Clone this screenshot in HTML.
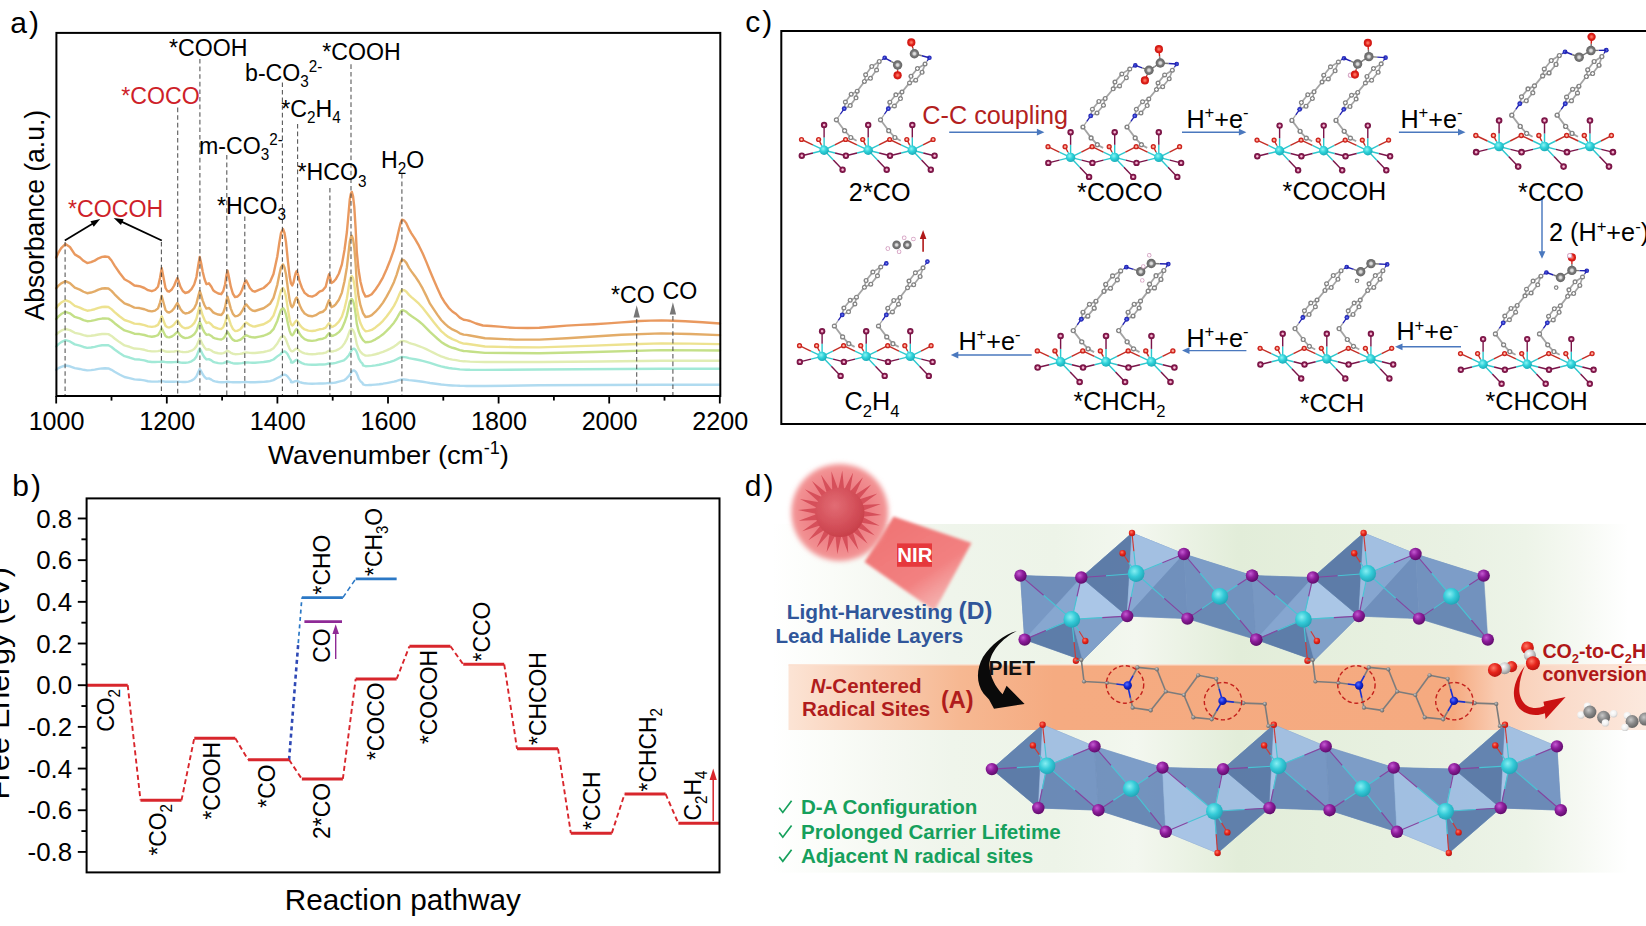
<!DOCTYPE html>
<html><head><meta charset="utf-8"><title>Figure</title>
<style>
html,body{margin:0;padding:0;background:#fff;}
body{width:1646px;height:926px;overflow:hidden;font-family:"Liberation Sans",sans-serif;}
svg{display:block;font-family:"Liberation Sans",sans-serif;}
</style></head><body>
<svg width="1646" height="926" viewBox="0 0 1646 926">
<rect x="0" y="0" width="1646" height="926" fill="#fff"/>
<g id="panel-a">
<polyline points="56.2,369.7 58.5,368.12 61.2,366.8 65.4,365.5 69.9,366.27 74.8,368.17 79.8,368.94 83.5,369.81 87.2,370.4 91,370.11 94.7,369.6 98.5,368.87 102.1,368.43 105,368.3 108.4,368.45 111.5,369.83 114.6,371.79 119.5,374.55 124.5,377.04 129.5,378.07 134.4,379.42 139.5,379.68 144.4,380.37 148,381.22 151.8,381.6 155,381.58 158,381.52 160,381.37 161.7,381.2 163.4,381.43 165.5,381.71 167.3,381.78 169.2,381.8 171.8,381.77 174.2,381.71 176,381.64 177.4,381.6 178.9,381.71 180.4,381.83 182.8,381.95 185.3,382 188.5,381.64 191.5,380.63 194.2,378.94 196.5,376.17 198.3,371.92 199.7,369 201.2,371.35 202.7,374.31 204.5,376.88 206.4,378.73 208.9,378.41 211.4,379.63 213.2,380.87 215.1,381.41 218.3,382.05 221.3,382.3 223.3,382.23 225.1,382.09 226.3,381.91 227.5,381.8 229,381.93 230.8,382.1 232.8,382.23 235,382.3 237.6,382.29 240,382.25 242,382.17 243.7,382.09 245,382.03 246.2,382 248,382.09 249.9,382.2 252.4,382.28 254.9,382.3 259.5,382.05 263.6,381.85 267,381.48 270,381.11 273.5,380.13 277.3,377.98 280.8,376.32 282.5,375.09 284.5,374.6 286,375.15 287.5,376.37 289.5,379.1 291.2,381.11 291,382.03 292.2,382.3 293.5,382.01 294.7,381.46 295.7,381.09 296.7,380.9 298.2,381.39 299.7,382.07 302,382.76 304.6,383.3 308.3,383.61 312.1,383.7 315.8,383.65 319.5,383.55 322.8,383.5 325.7,383.39 327.5,383.16 329,383 330.2,383 331.5,383 333.5,382.83 335.7,382.49 338.9,381.69 343.9,380.43 346.5,378.44 348.9,375.95 350.5,373.46 351.8,371.42 353,370.59 353.8,370.4 355,370.98 356.3,372.55 357.6,375.47 358.8,378.84 360.6,381.37 362.5,383.01 363,384.38 365.5,385.1 368.5,385.06 371.7,384.93 375.5,384.58 379.1,384.2 383,383.69 386.6,383.11 390.3,382.43 394,381.67 396.6,380.98 399,380.22 400.7,379.73 402,379.5 404.3,379.56 406.4,379.75 409,380.15 411.4,380.43 415,380.81 418.9,381.27 422.6,381.79 426.3,382.38 430,383 433.8,383.54 437.5,384.05 441.2,384.54 445,384.91 448.7,385.21 452.4,385.43 456.1,385.58 459.8,385.8 463.6,385.92 466.4,385.95 470,386 485,386 539.3,385.3 661.5,384.8 720,384.8" fill="none" stroke="#B0DBF0" stroke-width="2.4" stroke-linejoin="round" stroke-linecap="round"/>
<polyline points="56.2,346.5 58.5,344.14 61.2,342.15 65.4,340.2 69.9,341.41 74.8,344.39 79.8,345.6 83.5,346.97 87.2,347.9 91,347.52 94.7,346.84 98.5,345.86 102.1,345.27 105,345.1 108.4,345.29 111.5,347.05 114.6,349.53 119.5,353.04 124.5,356.2 129.5,357.52 134.4,359.22 139.5,359.56 144.4,360.44 148,361.51 151.8,362 155,361.97 158,361.9 160,361.71 161.7,361.5 163.4,361.8 165.5,362.17 167.3,362.28 169.2,362.3 171.8,362.25 174.2,362.16 176,362.07 177.4,362 178.9,362.21 180.4,362.46 182.8,362.69 185.3,362.8 188.5,362.41 191.5,361.31 194.2,359.46 196.5,356.43 198.3,351.79 199.7,348.6 201.2,351.22 202.7,354.51 204.5,357.37 206.4,359.43 208.9,359.08 211.4,360.42 213.2,361.81 215.1,362.41 218.3,363.12 221.3,363.4 223.3,363.12 225.1,362.51 226.3,361.78 227.5,361.3 229,361.87 230.8,362.64 232.8,363.2 235,363.5 237.6,363.46 240,363.33 242,363.07 243.7,362.8 245,362.59 246.2,362.5 248,362.56 249.9,362.63 252.4,362.68 254.9,362.7 259.5,362.34 263.6,362.03 267,361.49 270,360.95 273.5,359.51 277.3,356.36 280.8,353.92 282.5,352.12 284.5,351.4 286,352.2 287.5,354 289.5,358 291.2,360.96 291,362.3 292.2,362.7 293.5,362.1 294.7,360.96 295.7,360.2 296.7,359.8 298.2,360.68 299.7,361.89 302,363.12 304.6,364.08 308.3,364.64 312.1,364.8 315.8,364.71 319.5,364.51 322.8,364.43 325.7,364.22 327.5,363.8 329,363.5 330.2,363.5 331.5,363.5 333.5,363.3 335.7,362.89 338.9,361.95 343.9,360.46 346.5,358.1 348.9,355.16 350.5,352.21 351.8,349.81 353,348.83 353.8,348.6 355,349.29 356.3,351.17 357.6,354.67 358.8,358.7 360.6,361.73 362.5,363.7 363,365.34 365.5,366.2 368.5,366.13 371.7,365.91 375.5,365.35 379.1,364.72 383,363.89 386.6,362.93 390.3,361.82 394,360.57 396.6,359.43 399,358.18 400.7,357.37 402,357 404.3,357.1 406.4,357.43 409,358.09 411.4,358.56 415,359.21 418.9,359.99 422.6,360.85 426.3,361.85 430,362.9 433.8,364.14 437.5,365.31 441.2,366.43 445,367.29 448.7,367.98 452.4,368.49 456.1,368.83 459.8,369.33 463.6,369.62 466.4,369.68 470,369.8 485,369.9 539.3,369.5 661.5,368.7 720,368.7" fill="none" stroke="#A2E9D7" stroke-width="2.4" stroke-linejoin="round" stroke-linecap="round"/>
<polyline points="56.2,334.6 58.5,332.5 61.2,330.73 65.4,329 69.9,330.1 74.8,332.81 79.8,333.91 83.5,335.16 87.2,336 91,335.71 94.7,335.2 98.5,334.47 102.1,334.03 105,333.9 108.4,334.1 111.5,335.92 114.6,338.49 119.5,342.12 124.5,345.4 129.5,346.76 134.4,348.53 139.5,348.88 144.4,349.79 148,350.9 151.8,351.4 155,351.33 158,351.13 160,350.6 161.7,350 163.4,350.68 165.5,351.52 167.3,351.75 169.2,351.8 171.8,351.67 174.2,351.44 176,351.18 177.4,351 178.9,351.29 180.4,351.64 182.8,351.95 185.3,352.1 188.5,351.73 191.5,350.7 194.2,348.97 196.5,346.13 198.3,341.78 199.7,338.8 201.2,341.4 202.7,344.67 204.5,347.51 206.4,349.56 208.9,349.2 211.4,350.54 213.2,351.92 215.1,352.51 218.3,353.22 221.3,353.5 223.3,353.12 225.1,352.31 226.3,351.34 227.5,350.7 229,351.61 230.8,352.83 232.8,353.72 235,354.2 237.6,354.14 240,353.9 242,353.47 243.7,353.01 245,352.65 246.2,352.5 248,352.66 249.9,352.83 252.4,352.96 254.9,353 259.5,352.46 263.6,352 267,351.18 270,350.37 273.5,348.2 277.3,343.46 279.3,339.8 281,337.08 283,336 284.5,337.09 286,339.54 288,344.99 289.7,349.03 291,350.85 292.2,351.4 293.5,350.82 294.7,349.72 295.7,348.99 296.7,348.6 298.2,349.58 299.7,350.94 302,352.32 304.6,353.39 308.3,354.02 312.1,354.2 315.8,353.95 319.5,353.43 322.8,353.21 325.7,352.65 327.5,351.52 329,350.7 330.2,351.02 331.5,351.5 333.5,351.2 335.7,350.59 338.9,349.15 341.9,346.91 344.5,343.35 346.9,338.9 348.5,334.46 349.8,330.83 351,329.35 351.8,329 353,330.04 354.3,332.89 355.6,338.17 356.8,344.27 358.6,348.84 360.5,351.81 363,354.3 365.5,355.6 368.5,355.49 371.7,355.14 375.5,354.24 379.1,353.23 383,351.91 386.6,350.38 390.3,348.6 394,346.6 396.6,344.78 399,342.79 400.7,341.49 402,340.9 404.3,341.08 406.4,341.63 409,342.77 411.4,343.58 415,344.68 418.9,346.02 422.6,347.5 426.3,349.21 430,351 433.8,352.91 437.5,354.71 441.2,356.43 445,357.74 448.7,358.8 452.4,359.59 456.1,360.12 459.8,360.88 463.6,361.32 466.4,361.41 470,361.6 485,362 539.3,362 600,361.5 661.5,360.7 720,360.7" fill="none" stroke="#E1EDB4" stroke-width="2.4" stroke-linejoin="round" stroke-linecap="round"/>
<polyline points="56.2,319.1 58.5,316.36 61.2,314.05 65.4,311.8 69.9,313.28 74.8,316.92 79.8,318.39 83.5,320.07 87.2,321.2 91,320.82 94.7,320.14 98.5,319.16 102.1,318.57 105,318.4 108.4,318.61 111.5,320.51 114.6,323.2 119.5,327 124.5,330.42 129.5,331.85 134.4,333.69 139.5,334.06 144.4,335.01 148,336.17 151.8,336.7 155,336.26 158,335.06 160,331.9 161.7,328.3 163.4,331.73 165.5,335.97 167.3,337.13 169.2,337.4 171.8,336.5 174.2,334.87 176,333.03 177.4,331.8 178.9,333.48 180.4,335.45 182.8,337.26 185.3,338.1 188.5,337.65 191.5,336.41 194.2,334.31 196.5,330.88 198.3,325.61 199.7,322 201.2,325.1 202.7,328.99 204.5,332.37 206.4,334.81 208.9,334.39 211.4,335.98 213.2,337.62 215.1,338.33 218.3,339.17 221.3,339.5 223.3,338.46 225.1,336.24 226.3,333.56 227.5,331.8 229,334.17 230.8,337.33 232.8,339.66 235,340.9 237.6,340.7 240,339.92 242,338.5 243.7,336.99 245,335.81 246.2,335.3 248,335.99 249.9,336.77 252.4,337.32 254.9,337.5 259.5,336.56 263.6,335.76 267,334.35 270,332.94 273.5,329.17 277.3,320.94 279.3,314.59 281,309.88 283,308 284.5,309.93 286,314.28 288,323.95 289.7,331.1 291,334.33 292.2,335.3 293.5,334 294.7,331.52 295.7,329.87 296.7,329 298.2,331.09 299.7,333.97 302,336.9 304.6,339.18 308.3,340.53 312.1,340.9 315.8,340.35 319.5,339.21 322.8,338.72 325.7,337.48 327.5,335 329,333.2 330.2,334.33 331.5,336 333.5,335.51 335.7,334.5 338.9,332.14 341.9,328.45 344.5,322.6 346.9,315.29 348.5,307.98 349.8,302.01 351,299.57 351.8,299 353,300.7 354.3,305.33 355.6,313.93 356.8,323.86 358.6,331.3 360.5,336.14 363,340.19 365.5,342.3 368.5,342.05 371.7,341.3 375.5,339.35 379.1,337.14 383,334.27 386.6,330.94 390.3,327.07 394,322.7 396.6,318.75 399,314.42 400.7,311.59 402,310.3 404.3,310.68 406.4,311.86 409,314.3 411.4,316.03 415,318.38 418.9,321.25 422.6,324.41 426.3,328.07 430,331.9 433.8,335.43 437.5,338.76 441.2,341.94 445,344.37 448.7,346.33 452.4,347.78 456.1,348.76 459.8,350.17 463.6,350.99 466.4,351.15 470,351.5 485,352.9 539.3,353.2 594,352 661.5,350.1 720,350.5" fill="none" stroke="#C4E088" stroke-width="2.4" stroke-linejoin="round" stroke-linecap="round"/>
<polyline points="56.2,307.9 58.5,305.01 61.2,302.58 65.4,300.2 69.9,301.85 74.8,305.92 79.8,307.57 83.5,309.44 87.2,310.7 91,310.17 94.7,309.22 98.5,307.86 102.1,307.04 105,306.8 108.4,307.03 111.5,309.12 114.6,312.07 119.5,316.24 124.5,320.01 129.5,321.57 134.4,323.6 139.5,324 144.4,325.05 148,326.32 151.8,326.9 155,326.35 158,324.84 160,320.84 161.7,316.3 163.4,320.52 165.5,325.74 167.3,327.17 169.2,327.5 171.8,326.38 174.2,324.33 176,322.03 177.4,320.5 178.9,322.58 180.4,325.02 182.8,327.26 185.3,328.3 188.5,327.7 191.5,326.01 194.2,323.17 196.5,318.52 198.3,311.39 199.7,306.5 201.2,310.48 202.7,315.49 204.5,319.83 206.4,322.97 208.9,322.42 211.4,324.48 213.2,326.59 215.1,327.49 218.3,328.58 221.3,329 223.3,327.1 225.1,323.07 226.3,318.2 227.5,315 229,319.17 230.8,324.72 232.8,328.83 235,331 237.6,330.7 240,329.53 242,327.41 243.7,325.13 245,323.36 246.2,322.6 248,323.82 249.9,325.21 252.4,326.19 254.9,326.5 259.5,325.27 263.6,324.23 267,322.39 270,320.54 273.5,315.63 277.3,304.89 279.3,296.6 281,290.46 283,288 284.5,290.65 286,296.63 288,309.9 289.7,319.73 291,324.17 292.2,325.5 293.5,324.47 294.7,322.5 295.7,321.19 296.7,320.5 298.2,322.35 299.7,324.89 302,327.47 304.6,329.48 308.3,330.67 312.1,331 315.8,330.45 319.5,329.31 322.8,328.82 325.7,327.58 327.5,325.1 329,323.3 330.2,324.79 331.5,327 333.5,326.33 335.7,324.93 338.9,321.68 341.9,316.59 344.5,308.53 346.9,298.45 348.5,288.37 349.8,280.14 351,276.78 351.8,276 353,278.16 354.3,284.07 355.6,295.03 356.8,307.69 358.6,317.18 360.5,323.34 363,328.51 365.5,331.2 368.5,330.88 371.7,329.91 375.5,327.38 379.1,324.52 383,320.81 386.6,316.5 390.3,311.5 394,305.84 396.6,300.73 399,295.13 400.7,291.47 402,289.8 404.3,290.28 406.4,291.78 409,294.89 411.4,297.09 415,300.09 418.9,303.74 422.6,307.76 426.3,312.42 430,317.3 433.8,322.16 437.5,326.75 441.2,331.12 445,334.47 448.7,337.17 452.4,339.17 456.1,340.52 459.8,342.46 463.6,343.6 466.4,343.81 470,344.3 485,346.5 515,347.2 539.3,347.4 594,345.6 630,344.3 661.5,343.4 690,343.6 720,344.1" fill="none" stroke="#EDE290" stroke-width="2.4" stroke-linejoin="round" stroke-linecap="round"/>
<polyline points="56.2,288.3 58.5,285.64 61.2,283.39 65.4,281.2 69.9,283.08 74.8,287.73 79.8,289.62 83.5,291.75 87.2,293.2 91,292.52 94.7,291.31 98.5,289.56 102.1,288.5 105,288.2 108.4,288.47 111.5,290.87 114.6,294.28 119.5,299.1 124.5,303.44 129.5,305.25 134.4,307.59 139.5,308.06 144.4,309.26 148,310.73 151.8,311.4 155,310.6 158,308.4 160,302.6 161.7,296 163.4,302.22 165.5,309.91 167.3,312.01 169.2,312.5 171.8,310.97 174.2,308.2 176,305.08 177.4,303 178.9,305.8 180.4,309.09 182.8,312.1 185.3,313.5 188.5,312.88 191.5,311.13 194.2,308.2 196.5,303.4 198.3,296.05 199.7,291 201.2,295.25 202.7,300.59 204.5,305.22 206.4,308.57 208.9,307.99 211.4,310.17 213.2,312.43 215.1,313.39 218.3,314.55 221.3,315 223.3,312.52 225.1,307.25 226.3,300.89 227.5,296.7 229,301.8 230.8,308.61 232.8,313.64 235,316.3 237.6,315.87 240,314.22 242,311.21 243.7,307.98 245,305.48 246.2,304.4 248,306.46 249.9,308.82 252.4,310.47 254.9,311 259.5,309.51 263.6,308.25 267,306.02 270,303.79 273.5,297.84 277.3,284.84 279.3,274.81 281,267.37 283,264.4 284.5,267.43 286,274.25 288,289.4 289.7,300.61 291,305.68 292.2,307.2 293.5,305.17 294.7,301.32 295.7,298.75 296.7,297.4 298.2,300.72 299.7,305.3 302,309.95 304.6,313.57 308.3,315.71 312.1,316.3 315.8,315.14 319.5,312.76 322.8,311.75 325.7,309.15 327.5,303.95 329,300.2 330.2,303.02 331.5,307.2 333.5,306.26 335.7,304.3 338.9,299.74 341.9,292.6 344.5,281.3 346.9,267.17 348.5,253.05 349.8,241.51 351,236.8 351.8,235.7 353,238.88 354.3,247.58 355.6,263.73 356.8,282.37 358.6,296.34 360.5,305.43 363,313.04 365.5,317 368.5,316.55 371.7,315.21 375.5,311.71 379.1,307.76 383,302.62 386.6,296.66 390.3,289.73 394,281.9 396.6,274.83 399,267.08 400.7,262.01 402,259.7 404.3,260.47 406.4,262.87 409,267.85 411.4,271.36 415,276.17 418.9,282 422.6,288.43 426.3,295.89 430,303.7 433.8,309.42 437.5,314.83 441.2,319.98 445,323.92 448.7,327.1 452.4,329.46 456.1,331.05 459.8,333.34 463.6,334.67 466.4,334.93 470,335.5 485,338.3 515.7,339.6 539.3,339.6 566.7,338.3 594,336.5 621.4,334.7 661.5,333.4 690,334 720,335.1" fill="none" stroke="#E3AC68" stroke-width="2.4" stroke-linejoin="round" stroke-linecap="round"/>
<polyline points="56.2,257.6 58.5,252.5 61.2,248.2 65.4,244 69.9,247 74.8,254.4 79.8,257.4 83.5,260.8 87.2,263.1 91,262.2 94.7,260.6 98.5,258.3 102.1,256.9 105,256.5 108.4,256.9 111.5,260.5 114.6,265.6 119.5,272.8 124.5,279.3 129.5,282 134.4,285.5 139.5,286.2 144.4,288 148,290.2 151.8,291.2 155,290 158,286.7 160,278 161.7,268.1 163.4,277 165.5,288 167.3,291 169.2,291.7 171.8,289.5 174.2,285.5 176,281 177.4,278 178.9,282 180.4,286.7 182.8,291 185.3,293 188.5,292 191.5,289.2 194.2,284.5 196.5,276.8 198.3,265 199.7,256.9 201.2,263.5 202.7,271.8 204.5,279 206.4,284.2 208.9,283.3 211.4,286.7 213.2,290.2 215.1,291.7 218.3,293.5 221.3,294.2 223.3,291 225.1,284.2 226.3,276 227.5,270.6 229,277.5 230.8,286.7 232.8,293.5 235,297.1 237.6,296.5 240,294.2 242,290 243.7,285.5 245,282 246.2,280.5 248,284 249.9,288 252.4,290.8 254.9,291.7 259.5,289.7 263.6,288 267,285 270,282 273.5,274 277.3,256.5 279.3,243 281,233 283,229 284.5,233 286,242 288,262 289.7,276.8 291,283.5 292.2,285.5 293.5,282.5 294.7,276.8 295.7,273 296.7,271 298.2,275.5 299.7,281.7 302,288 304.6,292.9 308.3,295.8 312.1,296.6 315.8,295 319.5,291.7 322.8,290.3 325.7,286.7 327.5,279.5 329,274.3 330.2,277.8 331.5,283 333.5,281.8 335.7,279.3 338.9,273.5 341.9,264.4 344.5,250 346.9,232 348.5,214 349.8,199.3 351,193.3 351.8,191.9 353,196 354.3,207.2 355.6,228 356.8,252 358.6,270 360.5,281.7 363,291.5 365.5,296.6 368.5,296 371.7,294.2 375.5,289.5 379.1,284.2 383,277.3 386.6,269.3 390.3,260 394,249.5 396.6,240 399,229.6 400.7,222.8 402,219.7 404.3,220.6 406.4,223.4 409,229.2 411.4,233.3 415,238.9 418.9,245.7 422.6,253.2 426.3,261.9 430,271 433.8,280 437.5,288.5 441.2,296.6 445,302.8 448.7,307.8 452.4,311.5 456.1,314 459.8,317.6 463.6,319.7 466.4,320.1 470,321 476,323.5 482.9,325.5 491,326 499.3,326.6 507.5,327.4 515.7,327.9 527.5,328 539.3,327.7 553,326.8 566.7,325.6 580.3,324.9 594,324.3 607.7,323.4 621.4,322.4 630.5,321.7 639.6,321 650.5,320.6 661.5,320.4 673.3,320.7 685.2,321.3 702.5,322.3 720,323.5" fill="none" stroke="#E9995F" stroke-width="2.4" stroke-linejoin="round" stroke-linecap="round"/>
<line x1="65.1" y1="242" x2="65.1" y2="396" stroke="#3c3c3c" stroke-width="1.1" stroke-dasharray="4.6 3" opacity="0.85"/>
<line x1="161.4" y1="242" x2="161.4" y2="396" stroke="#3c3c3c" stroke-width="1.1" stroke-dasharray="4.6 3" opacity="0.85"/>
<line x1="177.7" y1="107.6" x2="177.7" y2="396" stroke="#3c3c3c" stroke-width="1.1" stroke-dasharray="4.6 3" opacity="0.85"/>
<line x1="199.9" y1="59" x2="199.9" y2="396" stroke="#3c3c3c" stroke-width="1.1" stroke-dasharray="4.6 3" opacity="0.85"/>
<line x1="226.8" y1="155" x2="226.8" y2="396" stroke="#3c3c3c" stroke-width="1.1" stroke-dasharray="4.6 3" opacity="0.85"/>
<line x1="244.8" y1="216.5" x2="244.8" y2="396" stroke="#3c3c3c" stroke-width="1.1" stroke-dasharray="4.6 3" opacity="0.85"/>
<line x1="282.4" y1="82.4" x2="282.4" y2="396" stroke="#3c3c3c" stroke-width="1.1" stroke-dasharray="4.6 3" opacity="0.85"/>
<line x1="297.6" y1="124" x2="297.6" y2="396" stroke="#3c3c3c" stroke-width="1.1" stroke-dasharray="4.6 3" opacity="0.85"/>
<line x1="329.9" y1="188" x2="329.9" y2="396" stroke="#3c3c3c" stroke-width="1.1" stroke-dasharray="4.6 3" opacity="0.85"/>
<line x1="351" y1="64.3" x2="351" y2="396" stroke="#3c3c3c" stroke-width="1.1" stroke-dasharray="4.6 3" opacity="0.85"/>
<line x1="401.9" y1="174" x2="401.9" y2="396" stroke="#3c3c3c" stroke-width="1.1" stroke-dasharray="4.6 3" opacity="0.85"/>
<line x1="636.7" y1="319" x2="636.7" y2="396" stroke="#3c3c3c" stroke-width="1.1" stroke-dasharray="4.6 3" opacity="0.85"/>
<line x1="672.9" y1="316" x2="672.9" y2="396" stroke="#3c3c3c" stroke-width="1.1" stroke-dasharray="4.6 3" opacity="0.85"/>
<rect x="56.4" y="32.9" width="663.9" height="363.1" fill="none" stroke="#000" stroke-width="2"/>
<line x1="56.2" y1="396" x2="56.2" y2="403.5" stroke="#000" stroke-width="1.8"/>
<text transform="translate(56.6,430) scale(0.99,1)" font-size="25.4" fill="#000" text-anchor="middle" font-weight="normal" font-style="normal"><tspan>1000</tspan></text>
<line x1="111.5" y1="396" x2="111.5" y2="400.6" stroke="#000" stroke-width="1.8"/>
<line x1="166.8" y1="396" x2="166.8" y2="403.5" stroke="#000" stroke-width="1.8"/>
<text transform="translate(167.2,430) scale(0.99,1)" font-size="25.4" fill="#000" text-anchor="middle" font-weight="normal" font-style="normal"><tspan>1200</tspan></text>
<line x1="222.1" y1="396" x2="222.1" y2="400.6" stroke="#000" stroke-width="1.8"/>
<line x1="277.4" y1="396" x2="277.4" y2="403.5" stroke="#000" stroke-width="1.8"/>
<text transform="translate(277.8,430) scale(0.99,1)" font-size="25.4" fill="#000" text-anchor="middle" font-weight="normal" font-style="normal"><tspan>1400</tspan></text>
<line x1="332.7" y1="396" x2="332.7" y2="400.6" stroke="#000" stroke-width="1.8"/>
<line x1="388" y1="396" x2="388" y2="403.5" stroke="#000" stroke-width="1.8"/>
<text transform="translate(388.4,430) scale(0.99,1)" font-size="25.4" fill="#000" text-anchor="middle" font-weight="normal" font-style="normal"><tspan>1600</tspan></text>
<line x1="443.3" y1="396" x2="443.3" y2="400.6" stroke="#000" stroke-width="1.8"/>
<line x1="498.6" y1="396" x2="498.6" y2="403.5" stroke="#000" stroke-width="1.8"/>
<text transform="translate(499,430) scale(0.99,1)" font-size="25.4" fill="#000" text-anchor="middle" font-weight="normal" font-style="normal"><tspan>1800</tspan></text>
<line x1="553.9" y1="396" x2="553.9" y2="400.6" stroke="#000" stroke-width="1.8"/>
<line x1="609.2" y1="396" x2="609.2" y2="403.5" stroke="#000" stroke-width="1.8"/>
<text transform="translate(609.6,430) scale(0.99,1)" font-size="25.4" fill="#000" text-anchor="middle" font-weight="normal" font-style="normal"><tspan>2000</tspan></text>
<line x1="664.5" y1="396" x2="664.5" y2="400.6" stroke="#000" stroke-width="1.8"/>
<line x1="719.8" y1="396" x2="719.8" y2="403.5" stroke="#000" stroke-width="1.8"/>
<text transform="translate(720.2,430) scale(0.99,1)" font-size="25.4" fill="#000" text-anchor="middle" font-weight="normal" font-style="normal"><tspan>2200</tspan></text>
<text transform="translate(388.5,463.6) scale(1.04,1)" font-size="26.4" fill="#000" text-anchor="middle" font-weight="normal" font-style="normal"><tspan>Wavenumber (cm</tspan><tspan dy="-9.5" font-size="17.42">-1</tspan><tspan dy="9.5">)</tspan></text>
<text transform="translate(44.4,215.2) rotate(-90) scale(0.94,1)" font-size="28.2" fill="#000" text-anchor="middle" font-weight="normal" font-style="normal"><tspan>Absorbance (a.u.)</tspan></text>
<text x="10.2" y="32.6" font-size="30" fill="#000">a<tspan dx="2">)</tspan></text>
<text transform="translate(169,55.7) scale(0.95,1)" font-size="24.4" fill="#000" text-anchor="start" font-weight="normal" font-style="normal"><tspan>*COOH</tspan></text>
<text transform="translate(121.3,103.7) scale(0.95,1)" font-size="24.4" fill="#CE1F2A" text-anchor="start" font-weight="normal" font-style="normal"><tspan>*COCO</tspan></text>
<text transform="translate(245,80.9) scale(0.95,1)" font-size="24.4" fill="#000" text-anchor="start" font-weight="normal" font-style="normal"><tspan>b-CO</tspan><tspan dy="6.34" font-size="16.1">3</tspan><tspan dy="-15.13" font-size="16.1">2-</tspan></text>
<text transform="translate(322.3,60.1) scale(0.95,1)" font-size="24.4" fill="#000" text-anchor="start" font-weight="normal" font-style="normal"><tspan>*COOH</tspan></text>
<text transform="translate(281.3,116.7) scale(0.95,1)" font-size="24.4" fill="#000" text-anchor="start" font-weight="normal" font-style="normal"><tspan>*C</tspan><tspan dy="6.34" font-size="16.1">2</tspan><tspan dy="-6.34">H</tspan><tspan dy="6.34" font-size="16.1">4</tspan></text>
<text transform="translate(199,153.5) scale(0.95,1)" font-size="24.4" fill="#000" text-anchor="start" font-weight="normal" font-style="normal"><tspan>m-CO</tspan><tspan dy="6.34" font-size="16.1">3</tspan><tspan dy="-15.13" font-size="16.1">2-</tspan></text>
<text transform="translate(297.6,180.2) scale(0.95,1)" font-size="24.4" fill="#000" text-anchor="start" font-weight="normal" font-style="normal"><tspan>*HCO</tspan><tspan dy="6.34" font-size="16.1">3</tspan></text>
<text transform="translate(381,168) scale(0.95,1)" font-size="24.4" fill="#000" text-anchor="start" font-weight="normal" font-style="normal"><tspan>H</tspan><tspan dy="6.34" font-size="16.1">2</tspan><tspan dy="-6.34">O</tspan></text>
<text transform="translate(217,214) scale(0.95,1)" font-size="24.4" fill="#000" text-anchor="start" font-weight="normal" font-style="normal"><tspan>*HCO</tspan><tspan dy="6.34" font-size="16.1">3</tspan></text>
<text transform="translate(68,217) scale(0.95,1)" font-size="24.4" fill="#CE1F2A" text-anchor="start" font-weight="normal" font-style="normal"><tspan>*COCOH</tspan></text>
<text transform="translate(611,302.6) scale(0.95,1)" font-size="24.4" fill="#000" text-anchor="start" font-weight="normal" font-style="normal"><tspan>*CO</tspan></text>
<text transform="translate(662.5,299.4) scale(0.95,1)" font-size="24.4" fill="#000" text-anchor="start" font-weight="normal" font-style="normal"><tspan>CO</tspan></text>
<line x1="64.8" y1="240.6" x2="92.93" y2="223.51" stroke="#000" stroke-width="1.7"/>
<polygon points="100.2,219.1 93.74,226.77 90.42,221.3" fill="#000" stroke="none" stroke-width="1"/>
<line x1="161.8" y1="240.6" x2="121.39" y2="221.61" stroke="#000" stroke-width="1.7"/>
<polygon points="113.7,218 123.66,219.14 120.94,224.94" fill="#000" stroke="none" stroke-width="1"/>
<polygon points="636.7,305.3 633.5,317.6 639.9,317.6" fill="#777" stroke="none" stroke-width="1"/>
<polygon points="672.9,302.3 669.7,314.6 676.1,314.6" fill="#777" stroke="none" stroke-width="1"/>
</g>
<g id="panel-b">
<line x1="127.7" y1="685.2" x2="140.49" y2="800.24" stroke="#D8262C" stroke-width="1.9" stroke-dasharray="5 3.2"/>
<line x1="181.49" y1="800.24" x2="194.28" y2="738.13" stroke="#D8262C" stroke-width="1.9" stroke-dasharray="5 3.2"/>
<line x1="235.28" y1="738.13" x2="248.07" y2="759.81" stroke="#D8262C" stroke-width="1.9" stroke-dasharray="5 3.2"/>
<line x1="289.07" y1="759.81" x2="301.86" y2="778.98" stroke="#D8262C" stroke-width="1.9" stroke-dasharray="5 3.2"/>
<line x1="342.86" y1="778.98" x2="355.65" y2="678.95" stroke="#D8262C" stroke-width="1.9" stroke-dasharray="5 3.2"/>
<line x1="396.65" y1="678.95" x2="409.44" y2="646.23" stroke="#D8262C" stroke-width="1.9" stroke-dasharray="5 3.2"/>
<line x1="450.44" y1="646.23" x2="463.23" y2="664.36" stroke="#D8262C" stroke-width="1.9" stroke-dasharray="5 3.2"/>
<line x1="504.23" y1="664.36" x2="517.02" y2="748.76" stroke="#D8262C" stroke-width="1.9" stroke-dasharray="5 3.2"/>
<line x1="558.02" y1="748.76" x2="570.81" y2="833.16" stroke="#D8262C" stroke-width="1.9" stroke-dasharray="5 3.2"/>
<line x1="611.81" y1="833.16" x2="624.6" y2="793.98" stroke="#D8262C" stroke-width="1.9" stroke-dasharray="5 3.2"/>
<line x1="665.6" y1="793.98" x2="678.39" y2="823.37" stroke="#D8262C" stroke-width="1.9" stroke-dasharray="5 3.2"/>
<line x1="289.07" y1="759.81" x2="298.28" y2="643.07" stroke="#2F49B5" stroke-width="2.6" stroke-dasharray="4 3.4"/>
<line x1="298.28" y1="643.07" x2="301.86" y2="597.67" stroke="#2B78C5" stroke-width="1.7" stroke-dasharray="4 3.4"/>
<line x1="342.86" y1="597.67" x2="355.65" y2="578.92" stroke="#2B78C5" stroke-width="1.5" stroke-dasharray="5 3.2"/>
<line x1="86.7" y1="685.2" x2="127.7" y2="685.2" stroke="#D8262C" stroke-width="3"/>
<line x1="140.49" y1="800.24" x2="181.49" y2="800.24" stroke="#D8262C" stroke-width="3"/>
<line x1="194.28" y1="738.13" x2="235.28" y2="738.13" stroke="#D8262C" stroke-width="3"/>
<line x1="248.07" y1="759.81" x2="289.07" y2="759.81" stroke="#D8262C" stroke-width="3"/>
<line x1="301.86" y1="778.98" x2="342.86" y2="778.98" stroke="#D8262C" stroke-width="3"/>
<line x1="355.65" y1="678.95" x2="396.65" y2="678.95" stroke="#D8262C" stroke-width="3"/>
<line x1="409.44" y1="646.23" x2="450.44" y2="646.23" stroke="#D8262C" stroke-width="3"/>
<line x1="463.23" y1="664.36" x2="504.23" y2="664.36" stroke="#D8262C" stroke-width="3"/>
<line x1="517.02" y1="748.76" x2="558.02" y2="748.76" stroke="#D8262C" stroke-width="3"/>
<line x1="570.81" y1="833.16" x2="611.81" y2="833.16" stroke="#D8262C" stroke-width="3"/>
<line x1="624.6" y1="793.98" x2="665.6" y2="793.98" stroke="#D8262C" stroke-width="3"/>
<line x1="678.39" y1="823.37" x2="719.39" y2="823.37" stroke="#D8262C" stroke-width="3"/>
<line x1="301.86" y1="597.67" x2="342.86" y2="597.67" stroke="#2B78C5" stroke-width="2.8"/>
<line x1="355.65" y1="578.92" x2="396.65" y2="578.92" stroke="#2B78C5" stroke-width="2.8"/>
<line x1="304.4" y1="621.6" x2="342" y2="621.6" stroke="#8E2A96" stroke-width="2.8"/>
<line x1="335.7" y1="659" x2="335.7" y2="631" stroke="#8E2A96" stroke-width="1.4"/>
<polygon points="335.7,624.2 332.4,634 339,634" fill="#8E2A96" stroke="none" stroke-width="1"/>
<line x1="713.2" y1="821" x2="713.2" y2="777" stroke="#D8262C" stroke-width="1.5"/>
<polygon points="713.2,768.5 709.6,780 716.8,780" fill="#D8262C" stroke="none" stroke-width="1"/>
<rect x="86.6" y="498.4" width="632.9" height="374" fill="none" stroke="#000" stroke-width="2"/>
<line x1="77.8" y1="851.92" x2="86.6" y2="851.92" stroke="#000" stroke-width="1.9"/>
<text transform="translate(72.2,861.12) scale(0.97,1)" font-size="26.7" fill="#000" text-anchor="end" font-weight="normal" font-style="normal"><tspan>-0.8</tspan></text>
<line x1="81.4" y1="831.08" x2="86.6" y2="831.08" stroke="#000" stroke-width="1.9"/>
<line x1="77.8" y1="810.24" x2="86.6" y2="810.24" stroke="#000" stroke-width="1.9"/>
<text transform="translate(72.2,819.44) scale(0.97,1)" font-size="26.7" fill="#000" text-anchor="end" font-weight="normal" font-style="normal"><tspan>-0.6</tspan></text>
<line x1="81.4" y1="789.4" x2="86.6" y2="789.4" stroke="#000" stroke-width="1.9"/>
<line x1="77.8" y1="768.56" x2="86.6" y2="768.56" stroke="#000" stroke-width="1.9"/>
<text transform="translate(72.2,777.76) scale(0.97,1)" font-size="26.7" fill="#000" text-anchor="end" font-weight="normal" font-style="normal"><tspan>-0.4</tspan></text>
<line x1="81.4" y1="747.72" x2="86.6" y2="747.72" stroke="#000" stroke-width="1.9"/>
<line x1="77.8" y1="726.88" x2="86.6" y2="726.88" stroke="#000" stroke-width="1.9"/>
<text transform="translate(72.2,736.08) scale(0.97,1)" font-size="26.7" fill="#000" text-anchor="end" font-weight="normal" font-style="normal"><tspan>-0.2</tspan></text>
<line x1="81.4" y1="706.04" x2="86.6" y2="706.04" stroke="#000" stroke-width="1.9"/>
<line x1="77.8" y1="685.2" x2="86.6" y2="685.2" stroke="#000" stroke-width="1.9"/>
<text transform="translate(72.2,694.4) scale(0.97,1)" font-size="26.7" fill="#000" text-anchor="end" font-weight="normal" font-style="normal"><tspan>0.0</tspan></text>
<line x1="81.4" y1="664.36" x2="86.6" y2="664.36" stroke="#000" stroke-width="1.9"/>
<line x1="77.8" y1="643.52" x2="86.6" y2="643.52" stroke="#000" stroke-width="1.9"/>
<text transform="translate(72.2,652.72) scale(0.97,1)" font-size="26.7" fill="#000" text-anchor="end" font-weight="normal" font-style="normal"><tspan>0.2</tspan></text>
<line x1="81.4" y1="622.68" x2="86.6" y2="622.68" stroke="#000" stroke-width="1.9"/>
<line x1="77.8" y1="601.84" x2="86.6" y2="601.84" stroke="#000" stroke-width="1.9"/>
<text transform="translate(72.2,611.04) scale(0.97,1)" font-size="26.7" fill="#000" text-anchor="end" font-weight="normal" font-style="normal"><tspan>0.4</tspan></text>
<line x1="81.4" y1="581" x2="86.6" y2="581" stroke="#000" stroke-width="1.9"/>
<line x1="77.8" y1="560.16" x2="86.6" y2="560.16" stroke="#000" stroke-width="1.9"/>
<text transform="translate(72.2,569.36) scale(0.97,1)" font-size="26.7" fill="#000" text-anchor="end" font-weight="normal" font-style="normal"><tspan>0.6</tspan></text>
<line x1="81.4" y1="539.32" x2="86.6" y2="539.32" stroke="#000" stroke-width="1.9"/>
<line x1="77.8" y1="518.48" x2="86.6" y2="518.48" stroke="#000" stroke-width="1.9"/>
<text transform="translate(72.2,527.68) scale(0.97,1)" font-size="26.7" fill="#000" text-anchor="end" font-weight="normal" font-style="normal"><tspan>0.8</tspan></text>
<text transform="translate(402.8,909.6) scale(0.99,1)" font-size="30" fill="#000" text-anchor="middle" font-weight="normal" font-style="normal"><tspan>Reaction pathway</tspan></text>
<text transform="translate(8.6,683.4) rotate(-90) scale(1.01,1)" font-size="30" fill="#000" text-anchor="middle" font-weight="normal" font-style="normal"><tspan>Free Energy (eV)</tspan></text>
<text x="12.2" y="495.6" font-size="30" fill="#000">b<tspan dx="2">)</tspan></text>
<text transform="translate(114,689) rotate(-90) scale(0.93,1)" font-size="24.6" fill="#000" text-anchor="end" font-weight="normal" font-style="normal"><tspan>CO</tspan><tspan dy="6.4" font-size="16.24">2</tspan></text>
<text transform="translate(165.8,804) rotate(-90) scale(0.93,1)" font-size="24.6" fill="#000" text-anchor="end" font-weight="normal" font-style="normal"><tspan>*CO</tspan><tspan dy="6.4" font-size="16.24">2</tspan></text>
<text transform="translate(220,742) rotate(-90) scale(0.93,1)" font-size="24.6" fill="#000" text-anchor="end" font-weight="normal" font-style="normal"><tspan>*COOH</tspan></text>
<text transform="translate(274.5,764.5) rotate(-90) scale(0.93,1)" font-size="24.6" fill="#000" text-anchor="end" font-weight="normal" font-style="normal"><tspan>*CO</tspan></text>
<text transform="translate(330,783) rotate(-90) scale(0.93,1)" font-size="24.6" fill="#000" text-anchor="end" font-weight="normal" font-style="normal"><tspan>2*CO</tspan></text>
<text transform="translate(383.5,682.5) rotate(-90) scale(0.93,1)" font-size="24.6" fill="#000" text-anchor="end" font-weight="normal" font-style="normal"><tspan>*COCO</tspan></text>
<text transform="translate(436.5,650) rotate(-90) scale(0.93,1)" font-size="24.6" fill="#000" text-anchor="end" font-weight="normal" font-style="normal"><tspan>*COCOH</tspan></text>
<text transform="translate(489.5,661.5) rotate(-90) scale(0.93,1)" font-size="24.6" fill="#000" text-anchor="start" font-weight="normal" font-style="normal"><tspan>*CCO</tspan></text>
<text transform="translate(545.5,745) rotate(-90) scale(0.93,1)" font-size="24.6" fill="#000" text-anchor="start" font-weight="normal" font-style="normal"><tspan>*CHCOH</tspan></text>
<text transform="translate(600,830) rotate(-90) scale(0.93,1)" font-size="24.6" fill="#000" text-anchor="start" font-weight="normal" font-style="normal"><tspan>*CCH</tspan></text>
<text transform="translate(655.5,791.5) rotate(-90) scale(0.93,1)" font-size="24.6" fill="#000" text-anchor="start" font-weight="normal" font-style="normal"><tspan>*CHCH</tspan><tspan dy="6.4" font-size="16.24">2</tspan></text>
<text transform="translate(701,820.5) rotate(-90) scale(0.93,1)" font-size="24.6" fill="#000" text-anchor="start" font-weight="normal" font-style="normal"><tspan>C</tspan><tspan dy="6.4" font-size="16.24">2</tspan><tspan dy="-6.4">H</tspan><tspan dy="6.4" font-size="16.24">4</tspan></text>
<text transform="translate(330,594.5) rotate(-90) scale(0.93,1)" font-size="24.6" fill="#000" text-anchor="start" font-weight="normal" font-style="normal"><tspan>*CHO</tspan></text>
<text transform="translate(381.5,576) rotate(-90) scale(0.93,1)" font-size="24.6" fill="#000" text-anchor="start" font-weight="normal" font-style="normal"><tspan>*CH</tspan><tspan dy="6.4" font-size="16.24">3</tspan><tspan dy="-6.4">O</tspan></text>
<text transform="translate(330,628.5) rotate(-90) scale(0.93,1)" font-size="24.6" fill="#000" text-anchor="end" font-weight="normal" font-style="normal"><tspan>CO</tspan></text>
</g>
<defs>
<radialGradient id="gPb" cx="0.4" cy="0.35" r="0.7"><stop offset="0" stop-color="#8FF4F4"/><stop offset="0.45" stop-color="#2FD3DA"/><stop offset="1" stop-color="#18A8B4"/></radialGradient>
<radialGradient id="gI" cx="0.5" cy="0.5" r="0.5"><stop offset="0" stop-color="#F8D0E0"/><stop offset="0.28" stop-color="#E9A2C2"/><stop offset="0.52" stop-color="#8A1C50"/><stop offset="1" stop-color="#701040"/></radialGradient>
<radialGradient id="gO" cx="0.5" cy="0.5" r="0.5"><stop offset="0" stop-color="#FFD8CC"/><stop offset="0.4" stop-color="#F08070"/><stop offset="0.62" stop-color="#D42A22"/><stop offset="1" stop-color="#C41C18"/></radialGradient>
<radialGradient id="gCs" cx="0.5" cy="0.5" r="0.5"><stop offset="0" stop-color="#FFFFFF"/><stop offset="0.38" stop-color="#F2F2F2"/><stop offset="0.58" stop-color="#8A8A8A"/><stop offset="1" stop-color="#808080"/></radialGradient>
<radialGradient id="gN" cx="0.5" cy="0.5" r="0.5"><stop offset="0" stop-color="#9AA4FF"/><stop offset="0.35" stop-color="#3A48D8"/><stop offset="1" stop-color="#1A1AA8"/></radialGradient>
<radialGradient id="gCb" cx="0.5" cy="0.5" r="0.5"><stop offset="0" stop-color="#E6E6E6"/><stop offset="0.28" stop-color="#D0D0D0"/><stop offset="0.55" stop-color="#7A7A7A"/><stop offset="1" stop-color="#646464"/></radialGradient>
<radialGradient id="gOb" cx="0.5" cy="0.5" r="0.5"><stop offset="0" stop-color="#FF8070"/><stop offset="0.3" stop-color="#F55A4A"/><stop offset="0.6" stop-color="#DE2018"/><stop offset="1" stop-color="#CC1612"/></radialGradient>
<radialGradient id="gH" cx="0.5" cy="0.5" r="0.5"><stop offset="0" stop-color="#FFFFFF"/><stop offset="0.5" stop-color="#FFF4FA"/><stop offset="0.7" stop-color="#DDB0CC"/><stop offset="1" stop-color="#CFA0C0"/></radialGradient>
</defs>
<g id="panel-c">
<path d="M1650 31 H781.3 V424.0 H1650" fill="none" stroke="#000" stroke-width="2"/>
<g transform="translate(824.1,150.2) scale(1)">
<line x1="0" y1="0" x2="0" y2="-12.6" stroke="#2CC8CE" stroke-width="1.4"/>
<line x1="0" y1="-12.6" x2="0" y2="-25.2" stroke="#7A1449" stroke-width="1.4"/>
<line x1="0" y1="0" x2="9.25" y2="9.75" stroke="#2CC8CE" stroke-width="1.4"/>
<line x1="9.25" y1="9.75" x2="18.5" y2="19.5" stroke="#7A1449" stroke-width="1.4"/>
<line x1="0" y1="0" x2="-11.15" y2="2.75" stroke="#2CC8CE" stroke-width="1.4"/>
<line x1="-11.15" y1="2.75" x2="-22.3" y2="5.5" stroke="#7A1449" stroke-width="1.4"/>
<line x1="0" y1="0" x2="11" y2="2.75" stroke="#2CC8CE" stroke-width="1.4"/>
<line x1="11" y1="2.75" x2="22" y2="5.5" stroke="#7A1449" stroke-width="1.4"/>
<line x1="0" y1="0" x2="-11.3" y2="-5.35" stroke="#2CC8CE" stroke-width="1.4"/>
<line x1="-11.3" y1="-5.35" x2="-22.6" y2="-10.7" stroke="#C42E26" stroke-width="1.4"/>
<line x1="0" y1="0" x2="10.75" y2="-5.35" stroke="#2CC8CE" stroke-width="1.4"/>
<line x1="10.75" y1="-5.35" x2="21.5" y2="-10.7" stroke="#C42E26" stroke-width="1.4"/>
<line x1="0" y1="0" x2="-2.75" y2="-5.35" stroke="#2CC8CE" stroke-width="1.4"/>
<line x1="-2.75" y1="-5.35" x2="-5.5" y2="-10.7" stroke="#C42E26" stroke-width="1.4"/>
<line x1="44.1" y1="0" x2="44.1" y2="-12.6" stroke="#2CC8CE" stroke-width="1.4"/>
<line x1="44.1" y1="-12.6" x2="44.1" y2="-25.2" stroke="#7A1449" stroke-width="1.4"/>
<line x1="44.1" y1="0" x2="53.35" y2="9.75" stroke="#2CC8CE" stroke-width="1.4"/>
<line x1="53.35" y1="9.75" x2="62.6" y2="19.5" stroke="#7A1449" stroke-width="1.4"/>
<line x1="44.1" y1="0" x2="32.95" y2="2.75" stroke="#2CC8CE" stroke-width="1.4"/>
<line x1="32.95" y1="2.75" x2="21.8" y2="5.5" stroke="#7A1449" stroke-width="1.4"/>
<line x1="44.1" y1="0" x2="55.1" y2="2.75" stroke="#2CC8CE" stroke-width="1.4"/>
<line x1="55.1" y1="2.75" x2="66.1" y2="5.5" stroke="#7A1449" stroke-width="1.4"/>
<line x1="44.1" y1="0" x2="32.8" y2="-5.35" stroke="#2CC8CE" stroke-width="1.4"/>
<line x1="32.8" y1="-5.35" x2="21.5" y2="-10.7" stroke="#C42E26" stroke-width="1.4"/>
<line x1="44.1" y1="0" x2="54.85" y2="-5.35" stroke="#2CC8CE" stroke-width="1.4"/>
<line x1="54.85" y1="-5.35" x2="65.6" y2="-10.7" stroke="#C42E26" stroke-width="1.4"/>
<line x1="44.1" y1="0" x2="41.35" y2="-5.35" stroke="#2CC8CE" stroke-width="1.4"/>
<line x1="41.35" y1="-5.35" x2="38.6" y2="-10.7" stroke="#C42E26" stroke-width="1.4"/>
<line x1="88.2" y1="0" x2="88.2" y2="-12.6" stroke="#2CC8CE" stroke-width="1.4"/>
<line x1="88.2" y1="-12.6" x2="88.2" y2="-25.2" stroke="#7A1449" stroke-width="1.4"/>
<line x1="88.2" y1="0" x2="97.45" y2="9.75" stroke="#2CC8CE" stroke-width="1.4"/>
<line x1="97.45" y1="9.75" x2="106.7" y2="19.5" stroke="#7A1449" stroke-width="1.4"/>
<line x1="88.2" y1="0" x2="77.05" y2="2.75" stroke="#2CC8CE" stroke-width="1.4"/>
<line x1="77.05" y1="2.75" x2="65.9" y2="5.5" stroke="#7A1449" stroke-width="1.4"/>
<line x1="88.2" y1="0" x2="99.2" y2="2.75" stroke="#2CC8CE" stroke-width="1.4"/>
<line x1="99.2" y1="2.75" x2="110.2" y2="5.5" stroke="#7A1449" stroke-width="1.4"/>
<line x1="88.2" y1="0" x2="76.9" y2="-5.35" stroke="#2CC8CE" stroke-width="1.4"/>
<line x1="76.9" y1="-5.35" x2="65.6" y2="-10.7" stroke="#C42E26" stroke-width="1.4"/>
<line x1="88.2" y1="0" x2="98.95" y2="-5.35" stroke="#2CC8CE" stroke-width="1.4"/>
<line x1="98.95" y1="-5.35" x2="109.7" y2="-10.7" stroke="#C42E26" stroke-width="1.4"/>
<line x1="88.2" y1="0" x2="85.45" y2="-5.35" stroke="#2CC8CE" stroke-width="1.4"/>
<line x1="85.45" y1="-5.35" x2="82.7" y2="-10.7" stroke="#C42E26" stroke-width="1.4"/>
<line x1="32.5" y1="-9.5" x2="26.7" y2="-12.7" stroke="#A4A4A4" stroke-width="1.8"/>
<line x1="26.7" y1="-12.7" x2="20.5" y2="-19.5" stroke="#A4A4A4" stroke-width="1.8"/>
<line x1="20.5" y1="-19.5" x2="12.3" y2="-30.4" stroke="#A4A4A4" stroke-width="1.8"/>
<line x1="12.3" y1="-30.4" x2="16.2" y2="-35.95" stroke="#A4A4A4" stroke-width="1.3"/>
<line x1="16.2" y1="-35.95" x2="20.1" y2="-41.5" stroke="#2020B0" stroke-width="1.3"/>
<line x1="20.1" y1="-41.5" x2="21.3" y2="-48.16" stroke="#A4A4A4" stroke-width="1.7"/>
<line x1="21.3" y1="-48.16" x2="27.08" y2="-55.95" stroke="#A4A4A4" stroke-width="1.7"/>
<line x1="27.08" y1="-55.95" x2="33.1" y2="-59.03" stroke="#A4A4A4" stroke-width="1.7"/>
<line x1="33.1" y1="-59.03" x2="31.9" y2="-52.38" stroke="#A4A4A4" stroke-width="1.7"/>
<line x1="31.9" y1="-52.38" x2="26.12" y2="-44.58" stroke="#A4A4A4" stroke-width="1.7"/>
<line x1="26.12" y1="-44.58" x2="20.1" y2="-41.5" stroke="#A4A4A4" stroke-width="1.7"/>
<line x1="40.32" y1="-68.77" x2="41.52" y2="-75.43" stroke="#A4A4A4" stroke-width="1.7"/>
<line x1="41.52" y1="-75.43" x2="47.65" y2="-83.71" stroke="#A4A4A4" stroke-width="1.7"/>
<line x1="47.65" y1="-83.71" x2="55.12" y2="-88.74" stroke="#A4A4A4" stroke-width="1.7"/>
<line x1="55.12" y1="-88.74" x2="52.47" y2="-80.13" stroke="#A4A4A4" stroke-width="1.7"/>
<line x1="52.47" y1="-80.13" x2="46.34" y2="-71.86" stroke="#A4A4A4" stroke-width="1.7"/>
<line x1="46.34" y1="-71.86" x2="40.32" y2="-68.77" stroke="#A4A4A4" stroke-width="1.7"/>
<line x1="33.1" y1="-59.03" x2="40.32" y2="-68.77" stroke="#A4A4A4" stroke-width="1.8"/>
<line x1="55.12" y1="-88.74" x2="57.86" y2="-90.57" stroke="#A4A4A4" stroke-width="1.2"/>
<line x1="57.86" y1="-90.57" x2="60.6" y2="-92.4" stroke="#2020B0" stroke-width="1.2"/>
<line x1="76.6" y1="-9.5" x2="70.8" y2="-12.7" stroke="#A4A4A4" stroke-width="1.8"/>
<line x1="70.8" y1="-12.7" x2="64.6" y2="-19.5" stroke="#A4A4A4" stroke-width="1.8"/>
<line x1="64.6" y1="-19.5" x2="56.4" y2="-30.4" stroke="#A4A4A4" stroke-width="1.8"/>
<line x1="56.4" y1="-30.4" x2="60.3" y2="-35.95" stroke="#A4A4A4" stroke-width="1.3"/>
<line x1="60.3" y1="-35.95" x2="64.2" y2="-41.5" stroke="#2020B0" stroke-width="1.3"/>
<line x1="64.2" y1="-41.5" x2="65.67" y2="-48.02" stroke="#A4A4A4" stroke-width="1.7"/>
<line x1="65.67" y1="-48.02" x2="71.74" y2="-55.39" stroke="#A4A4A4" stroke-width="1.7"/>
<line x1="71.74" y1="-55.39" x2="77.84" y2="-58.1" stroke="#A4A4A4" stroke-width="1.7"/>
<line x1="77.84" y1="-58.1" x2="76.37" y2="-51.58" stroke="#A4A4A4" stroke-width="1.7"/>
<line x1="76.37" y1="-51.58" x2="70.31" y2="-44.2" stroke="#A4A4A4" stroke-width="1.7"/>
<line x1="70.31" y1="-44.2" x2="64.2" y2="-41.5" stroke="#A4A4A4" stroke-width="1.7"/>
<line x1="85.42" y1="-67.32" x2="86.9" y2="-73.83" stroke="#A4A4A4" stroke-width="1.7"/>
<line x1="86.9" y1="-73.83" x2="93.34" y2="-81.67" stroke="#A4A4A4" stroke-width="1.7"/>
<line x1="93.34" y1="-81.67" x2="100.96" y2="-86.22" stroke="#A4A4A4" stroke-width="1.7"/>
<line x1="100.96" y1="-86.22" x2="97.97" y2="-77.86" stroke="#A4A4A4" stroke-width="1.7"/>
<line x1="97.97" y1="-77.86" x2="91.53" y2="-70.02" stroke="#A4A4A4" stroke-width="1.7"/>
<line x1="91.53" y1="-70.02" x2="85.42" y2="-67.32" stroke="#A4A4A4" stroke-width="1.7"/>
<line x1="77.84" y1="-58.1" x2="85.42" y2="-67.32" stroke="#A4A4A4" stroke-width="1.8"/>
<line x1="100.96" y1="-86.22" x2="103.13" y2="-89.31" stroke="#A4A4A4" stroke-width="1.2"/>
<line x1="103.13" y1="-89.31" x2="105.3" y2="-92.4" stroke="#2020B0" stroke-width="1.2"/>
<circle cx="26.7" cy="-12.7" r="2.6" fill="url(#gCs)" stroke="none" stroke-width="1"/>
<circle cx="20.5" cy="-19.5" r="2.6" fill="url(#gCs)" stroke="none" stroke-width="1"/>
<circle cx="12.3" cy="-30.4" r="2.6" fill="url(#gCs)" stroke="none" stroke-width="1"/>
<circle cx="21.3" cy="-48.16" r="2.5" fill="url(#gCs)" stroke="none" stroke-width="1"/>
<circle cx="27.08" cy="-55.95" r="2.5" fill="url(#gCs)" stroke="none" stroke-width="1"/>
<circle cx="33.1" cy="-59.03" r="2.5" fill="url(#gCs)" stroke="none" stroke-width="1"/>
<circle cx="31.9" cy="-52.38" r="2.5" fill="url(#gCs)" stroke="none" stroke-width="1"/>
<circle cx="26.12" cy="-44.58" r="2.5" fill="url(#gCs)" stroke="none" stroke-width="1"/>
<circle cx="40.32" cy="-68.77" r="2.5" fill="url(#gCs)" stroke="none" stroke-width="1"/>
<circle cx="41.52" cy="-75.43" r="2.5" fill="url(#gCs)" stroke="none" stroke-width="1"/>
<circle cx="47.65" cy="-83.71" r="2.5" fill="url(#gCs)" stroke="none" stroke-width="1"/>
<circle cx="52.47" cy="-80.13" r="2.5" fill="url(#gCs)" stroke="none" stroke-width="1"/>
<circle cx="46.34" cy="-71.86" r="2.5" fill="url(#gCs)" stroke="none" stroke-width="1"/>
<circle cx="55.12" cy="-88.74" r="2.5" fill="url(#gCs)" stroke="none" stroke-width="1"/>
<circle cx="20.1" cy="-41.5" r="2.4" fill="url(#gN)" stroke="none" stroke-width="1"/>
<circle cx="60.6" cy="-92.4" r="2.3" fill="url(#gN)" stroke="none" stroke-width="1"/>
<circle cx="70.8" cy="-12.7" r="2.6" fill="url(#gCs)" stroke="none" stroke-width="1"/>
<circle cx="64.6" cy="-19.5" r="2.6" fill="url(#gCs)" stroke="none" stroke-width="1"/>
<circle cx="56.4" cy="-30.4" r="2.6" fill="url(#gCs)" stroke="none" stroke-width="1"/>
<circle cx="65.67" cy="-48.02" r="2.5" fill="url(#gCs)" stroke="none" stroke-width="1"/>
<circle cx="71.74" cy="-55.39" r="2.5" fill="url(#gCs)" stroke="none" stroke-width="1"/>
<circle cx="77.84" cy="-58.1" r="2.5" fill="url(#gCs)" stroke="none" stroke-width="1"/>
<circle cx="76.37" cy="-51.58" r="2.5" fill="url(#gCs)" stroke="none" stroke-width="1"/>
<circle cx="70.31" cy="-44.2" r="2.5" fill="url(#gCs)" stroke="none" stroke-width="1"/>
<circle cx="85.42" cy="-67.32" r="2.5" fill="url(#gCs)" stroke="none" stroke-width="1"/>
<circle cx="86.9" cy="-73.83" r="2.5" fill="url(#gCs)" stroke="none" stroke-width="1"/>
<circle cx="93.34" cy="-81.67" r="2.5" fill="url(#gCs)" stroke="none" stroke-width="1"/>
<circle cx="97.97" cy="-77.86" r="2.5" fill="url(#gCs)" stroke="none" stroke-width="1"/>
<circle cx="91.53" cy="-70.02" r="2.5" fill="url(#gCs)" stroke="none" stroke-width="1"/>
<circle cx="100.96" cy="-86.22" r="2.5" fill="url(#gCs)" stroke="none" stroke-width="1"/>
<circle cx="64.2" cy="-41.5" r="2.4" fill="url(#gN)" stroke="none" stroke-width="1"/>
<circle cx="105.3" cy="-92.4" r="2.3" fill="url(#gN)" stroke="none" stroke-width="1"/>
<circle cx="0" cy="-25.2" r="3.2" fill="url(#gI)" stroke="none" stroke-width="1"/>
<circle cx="18.5" cy="19.5" r="3.2" fill="url(#gI)" stroke="none" stroke-width="1"/>
<circle cx="-22.3" cy="5.5" r="3.2" fill="url(#gI)" stroke="none" stroke-width="1"/>
<circle cx="-22.6" cy="-10.7" r="2.6" fill="url(#gO)" stroke="none" stroke-width="1"/>
<circle cx="-5.5" cy="-10.7" r="2.6" fill="url(#gO)" stroke="none" stroke-width="1"/>
<circle cx="44.1" cy="-25.2" r="3.2" fill="url(#gI)" stroke="none" stroke-width="1"/>
<circle cx="62.6" cy="19.5" r="3.2" fill="url(#gI)" stroke="none" stroke-width="1"/>
<circle cx="21.8" cy="5.5" r="3.2" fill="url(#gI)" stroke="none" stroke-width="1"/>
<circle cx="21.5" cy="-10.7" r="2.6" fill="url(#gO)" stroke="none" stroke-width="1"/>
<circle cx="38.6" cy="-10.7" r="2.6" fill="url(#gO)" stroke="none" stroke-width="1"/>
<circle cx="88.2" cy="-25.2" r="3.2" fill="url(#gI)" stroke="none" stroke-width="1"/>
<circle cx="106.7" cy="19.5" r="3.2" fill="url(#gI)" stroke="none" stroke-width="1"/>
<circle cx="65.9" cy="5.5" r="3.2" fill="url(#gI)" stroke="none" stroke-width="1"/>
<circle cx="65.6" cy="-10.7" r="2.6" fill="url(#gO)" stroke="none" stroke-width="1"/>
<circle cx="82.7" cy="-10.7" r="2.6" fill="url(#gO)" stroke="none" stroke-width="1"/>
<circle cx="110.5" cy="5.5" r="3.2" fill="url(#gI)" stroke="none" stroke-width="1"/>
<circle cx="109" cy="-10.7" r="2.6" fill="url(#gO)" stroke="none" stroke-width="1"/>
<circle cx="0" cy="0" r="4.7" fill="url(#gPb)" stroke="none" stroke-width="1"/>
<circle cx="44.1" cy="0" r="4.7" fill="url(#gPb)" stroke="none" stroke-width="1"/>
<circle cx="88.2" cy="0" r="4.7" fill="url(#gPb)" stroke="none" stroke-width="1"/>
<line x1="60.6" y1="-92.4" x2="67.05" y2="-88.8" stroke="#2020B0" stroke-width="1.4"/>
<line x1="67.05" y1="-88.8" x2="73.5" y2="-85.2" stroke="#777777" stroke-width="1.4"/>
<line x1="73.5" y1="-85.2" x2="73.5" y2="-80.05" stroke="#777777" stroke-width="1.4"/>
<line x1="73.5" y1="-80.05" x2="73.5" y2="-74.9" stroke="#D02018" stroke-width="1.4"/>
<line x1="90.3" y1="-96.5" x2="88.75" y2="-102.15" stroke="#777777" stroke-width="1.4"/>
<line x1="88.75" y1="-102.15" x2="87.2" y2="-107.8" stroke="#D02018" stroke-width="1.4"/>
<line x1="105.3" y1="-92.4" x2="97.8" y2="-94.45" stroke="#2020B0" stroke-width="1.4"/>
<line x1="97.8" y1="-94.45" x2="90.3" y2="-96.5" stroke="#777777" stroke-width="1.4"/>
<circle cx="73.5" cy="-85.2" r="4.7" fill="url(#gCb)" stroke="none" stroke-width="1"/>
<circle cx="73.5" cy="-74.9" r="4.1" fill="url(#gOb)" stroke="none" stroke-width="1"/>
<circle cx="90.3" cy="-96.5" r="4.7" fill="url(#gCb)" stroke="none" stroke-width="1"/>
<circle cx="87.2" cy="-107.8" r="4.1" fill="url(#gOb)" stroke="none" stroke-width="1"/>
</g>
<g transform="translate(1070.6,157.4) scale(1)">
<line x1="0" y1="0" x2="0" y2="-12.6" stroke="#2CC8CE" stroke-width="1.4"/>
<line x1="0" y1="-12.6" x2="0" y2="-25.2" stroke="#7A1449" stroke-width="1.4"/>
<line x1="0" y1="0" x2="9.25" y2="9.75" stroke="#2CC8CE" stroke-width="1.4"/>
<line x1="9.25" y1="9.75" x2="18.5" y2="19.5" stroke="#7A1449" stroke-width="1.4"/>
<line x1="0" y1="0" x2="-11.15" y2="2.75" stroke="#2CC8CE" stroke-width="1.4"/>
<line x1="-11.15" y1="2.75" x2="-22.3" y2="5.5" stroke="#7A1449" stroke-width="1.4"/>
<line x1="0" y1="0" x2="11" y2="2.75" stroke="#2CC8CE" stroke-width="1.4"/>
<line x1="11" y1="2.75" x2="22" y2="5.5" stroke="#7A1449" stroke-width="1.4"/>
<line x1="0" y1="0" x2="-11.3" y2="-5.35" stroke="#2CC8CE" stroke-width="1.4"/>
<line x1="-11.3" y1="-5.35" x2="-22.6" y2="-10.7" stroke="#C42E26" stroke-width="1.4"/>
<line x1="0" y1="0" x2="10.75" y2="-5.35" stroke="#2CC8CE" stroke-width="1.4"/>
<line x1="10.75" y1="-5.35" x2="21.5" y2="-10.7" stroke="#C42E26" stroke-width="1.4"/>
<line x1="0" y1="0" x2="-2.75" y2="-5.35" stroke="#2CC8CE" stroke-width="1.4"/>
<line x1="-2.75" y1="-5.35" x2="-5.5" y2="-10.7" stroke="#C42E26" stroke-width="1.4"/>
<line x1="44.1" y1="0" x2="44.1" y2="-12.6" stroke="#2CC8CE" stroke-width="1.4"/>
<line x1="44.1" y1="-12.6" x2="44.1" y2="-25.2" stroke="#7A1449" stroke-width="1.4"/>
<line x1="44.1" y1="0" x2="53.35" y2="9.75" stroke="#2CC8CE" stroke-width="1.4"/>
<line x1="53.35" y1="9.75" x2="62.6" y2="19.5" stroke="#7A1449" stroke-width="1.4"/>
<line x1="44.1" y1="0" x2="32.95" y2="2.75" stroke="#2CC8CE" stroke-width="1.4"/>
<line x1="32.95" y1="2.75" x2="21.8" y2="5.5" stroke="#7A1449" stroke-width="1.4"/>
<line x1="44.1" y1="0" x2="55.1" y2="2.75" stroke="#2CC8CE" stroke-width="1.4"/>
<line x1="55.1" y1="2.75" x2="66.1" y2="5.5" stroke="#7A1449" stroke-width="1.4"/>
<line x1="44.1" y1="0" x2="32.8" y2="-5.35" stroke="#2CC8CE" stroke-width="1.4"/>
<line x1="32.8" y1="-5.35" x2="21.5" y2="-10.7" stroke="#C42E26" stroke-width="1.4"/>
<line x1="44.1" y1="0" x2="54.85" y2="-5.35" stroke="#2CC8CE" stroke-width="1.4"/>
<line x1="54.85" y1="-5.35" x2="65.6" y2="-10.7" stroke="#C42E26" stroke-width="1.4"/>
<line x1="44.1" y1="0" x2="41.35" y2="-5.35" stroke="#2CC8CE" stroke-width="1.4"/>
<line x1="41.35" y1="-5.35" x2="38.6" y2="-10.7" stroke="#C42E26" stroke-width="1.4"/>
<line x1="88.2" y1="0" x2="88.2" y2="-12.6" stroke="#2CC8CE" stroke-width="1.4"/>
<line x1="88.2" y1="-12.6" x2="88.2" y2="-25.2" stroke="#7A1449" stroke-width="1.4"/>
<line x1="88.2" y1="0" x2="97.45" y2="9.75" stroke="#2CC8CE" stroke-width="1.4"/>
<line x1="97.45" y1="9.75" x2="106.7" y2="19.5" stroke="#7A1449" stroke-width="1.4"/>
<line x1="88.2" y1="0" x2="77.05" y2="2.75" stroke="#2CC8CE" stroke-width="1.4"/>
<line x1="77.05" y1="2.75" x2="65.9" y2="5.5" stroke="#7A1449" stroke-width="1.4"/>
<line x1="88.2" y1="0" x2="99.2" y2="2.75" stroke="#2CC8CE" stroke-width="1.4"/>
<line x1="99.2" y1="2.75" x2="110.2" y2="5.5" stroke="#7A1449" stroke-width="1.4"/>
<line x1="88.2" y1="0" x2="76.9" y2="-5.35" stroke="#2CC8CE" stroke-width="1.4"/>
<line x1="76.9" y1="-5.35" x2="65.6" y2="-10.7" stroke="#C42E26" stroke-width="1.4"/>
<line x1="88.2" y1="0" x2="98.95" y2="-5.35" stroke="#2CC8CE" stroke-width="1.4"/>
<line x1="98.95" y1="-5.35" x2="109.7" y2="-10.7" stroke="#C42E26" stroke-width="1.4"/>
<line x1="88.2" y1="0" x2="85.45" y2="-5.35" stroke="#2CC8CE" stroke-width="1.4"/>
<line x1="85.45" y1="-5.35" x2="82.7" y2="-10.7" stroke="#C42E26" stroke-width="1.4"/>
<line x1="32.5" y1="-9.5" x2="26.7" y2="-12.7" stroke="#A4A4A4" stroke-width="1.8"/>
<line x1="26.7" y1="-12.7" x2="20.5" y2="-19.5" stroke="#A4A4A4" stroke-width="1.8"/>
<line x1="20.5" y1="-19.5" x2="12.3" y2="-30.4" stroke="#A4A4A4" stroke-width="1.8"/>
<line x1="12.3" y1="-30.4" x2="16.2" y2="-35.95" stroke="#A4A4A4" stroke-width="1.3"/>
<line x1="16.2" y1="-35.95" x2="20.1" y2="-41.5" stroke="#2020B0" stroke-width="1.3"/>
<line x1="20.1" y1="-41.5" x2="21.81" y2="-48.25" stroke="#A4A4A4" stroke-width="1.7"/>
<line x1="21.81" y1="-48.25" x2="28.25" y2="-55.98" stroke="#A4A4A4" stroke-width="1.7"/>
<line x1="28.25" y1="-55.98" x2="34.57" y2="-58.89" stroke="#A4A4A4" stroke-width="1.7"/>
<line x1="34.57" y1="-58.89" x2="32.86" y2="-52.14" stroke="#A4A4A4" stroke-width="1.7"/>
<line x1="32.86" y1="-52.14" x2="26.43" y2="-44.41" stroke="#A4A4A4" stroke-width="1.7"/>
<line x1="26.43" y1="-44.41" x2="20.1" y2="-41.5" stroke="#A4A4A4" stroke-width="1.7"/>
<line x1="42.61" y1="-68.55" x2="44.33" y2="-75.3" stroke="#A4A4A4" stroke-width="1.7"/>
<line x1="44.33" y1="-75.3" x2="51.16" y2="-83.51" stroke="#A4A4A4" stroke-width="1.7"/>
<line x1="51.16" y1="-83.51" x2="59.09" y2="-88.35" stroke="#A4A4A4" stroke-width="1.7"/>
<line x1="59.09" y1="-88.35" x2="55.77" y2="-79.67" stroke="#A4A4A4" stroke-width="1.7"/>
<line x1="55.77" y1="-79.67" x2="48.94" y2="-71.46" stroke="#A4A4A4" stroke-width="1.7"/>
<line x1="48.94" y1="-71.46" x2="42.61" y2="-68.55" stroke="#A4A4A4" stroke-width="1.7"/>
<line x1="34.57" y1="-58.89" x2="42.61" y2="-68.55" stroke="#A4A4A4" stroke-width="1.8"/>
<line x1="59.09" y1="-88.35" x2="61.9" y2="-90.18" stroke="#A4A4A4" stroke-width="1.2"/>
<line x1="61.9" y1="-90.18" x2="64.7" y2="-92" stroke="#2020B0" stroke-width="1.2"/>
<line x1="76.6" y1="-9.5" x2="70.8" y2="-12.7" stroke="#A4A4A4" stroke-width="1.8"/>
<line x1="70.8" y1="-12.7" x2="64.6" y2="-19.5" stroke="#A4A4A4" stroke-width="1.8"/>
<line x1="64.6" y1="-19.5" x2="56.4" y2="-30.4" stroke="#A4A4A4" stroke-width="1.8"/>
<line x1="56.4" y1="-30.4" x2="60.3" y2="-35.95" stroke="#A4A4A4" stroke-width="1.3"/>
<line x1="60.3" y1="-35.95" x2="64.2" y2="-41.5" stroke="#2020B0" stroke-width="1.3"/>
<line x1="64.2" y1="-41.5" x2="65.75" y2="-48.11" stroke="#A4A4A4" stroke-width="1.7"/>
<line x1="65.75" y1="-48.11" x2="71.94" y2="-55.65" stroke="#A4A4A4" stroke-width="1.7"/>
<line x1="71.94" y1="-55.65" x2="78.13" y2="-58.46" stroke="#A4A4A4" stroke-width="1.7"/>
<line x1="78.13" y1="-58.46" x2="76.58" y2="-51.84" stroke="#A4A4A4" stroke-width="1.7"/>
<line x1="76.58" y1="-51.84" x2="70.39" y2="-44.31" stroke="#A4A4A4" stroke-width="1.7"/>
<line x1="70.39" y1="-44.31" x2="64.2" y2="-41.5" stroke="#A4A4A4" stroke-width="1.7"/>
<line x1="85.87" y1="-67.88" x2="87.42" y2="-74.49" stroke="#A4A4A4" stroke-width="1.7"/>
<line x1="87.42" y1="-74.49" x2="94" y2="-82.5" stroke="#A4A4A4" stroke-width="1.7"/>
<line x1="94" y1="-82.5" x2="101.74" y2="-87.19" stroke="#A4A4A4" stroke-width="1.7"/>
<line x1="101.74" y1="-87.19" x2="98.64" y2="-78.69" stroke="#A4A4A4" stroke-width="1.7"/>
<line x1="98.64" y1="-78.69" x2="92.06" y2="-70.68" stroke="#A4A4A4" stroke-width="1.7"/>
<line x1="92.06" y1="-70.68" x2="85.87" y2="-67.88" stroke="#A4A4A4" stroke-width="1.7"/>
<line x1="78.13" y1="-58.46" x2="85.87" y2="-67.88" stroke="#A4A4A4" stroke-width="1.8"/>
<line x1="101.74" y1="-87.19" x2="103.92" y2="-90.29" stroke="#A4A4A4" stroke-width="1.2"/>
<line x1="103.92" y1="-90.29" x2="106.1" y2="-93.4" stroke="#2020B0" stroke-width="1.2"/>
<circle cx="26.7" cy="-12.7" r="2.6" fill="url(#gCs)" stroke="none" stroke-width="1"/>
<circle cx="20.5" cy="-19.5" r="2.6" fill="url(#gCs)" stroke="none" stroke-width="1"/>
<circle cx="12.3" cy="-30.4" r="2.6" fill="url(#gCs)" stroke="none" stroke-width="1"/>
<circle cx="21.81" cy="-48.25" r="2.5" fill="url(#gCs)" stroke="none" stroke-width="1"/>
<circle cx="28.25" cy="-55.98" r="2.5" fill="url(#gCs)" stroke="none" stroke-width="1"/>
<circle cx="34.57" cy="-58.89" r="2.5" fill="url(#gCs)" stroke="none" stroke-width="1"/>
<circle cx="32.86" cy="-52.14" r="2.5" fill="url(#gCs)" stroke="none" stroke-width="1"/>
<circle cx="26.43" cy="-44.41" r="2.5" fill="url(#gCs)" stroke="none" stroke-width="1"/>
<circle cx="42.61" cy="-68.55" r="2.5" fill="url(#gCs)" stroke="none" stroke-width="1"/>
<circle cx="44.33" cy="-75.3" r="2.5" fill="url(#gCs)" stroke="none" stroke-width="1"/>
<circle cx="51.16" cy="-83.51" r="2.5" fill="url(#gCs)" stroke="none" stroke-width="1"/>
<circle cx="55.77" cy="-79.67" r="2.5" fill="url(#gCs)" stroke="none" stroke-width="1"/>
<circle cx="48.94" cy="-71.46" r="2.5" fill="url(#gCs)" stroke="none" stroke-width="1"/>
<circle cx="59.09" cy="-88.35" r="2.5" fill="url(#gCs)" stroke="none" stroke-width="1"/>
<circle cx="20.1" cy="-41.5" r="2.4" fill="url(#gN)" stroke="none" stroke-width="1"/>
<circle cx="64.7" cy="-92" r="2.3" fill="url(#gN)" stroke="none" stroke-width="1"/>
<circle cx="70.8" cy="-12.7" r="2.6" fill="url(#gCs)" stroke="none" stroke-width="1"/>
<circle cx="64.6" cy="-19.5" r="2.6" fill="url(#gCs)" stroke="none" stroke-width="1"/>
<circle cx="56.4" cy="-30.4" r="2.6" fill="url(#gCs)" stroke="none" stroke-width="1"/>
<circle cx="65.75" cy="-48.11" r="2.5" fill="url(#gCs)" stroke="none" stroke-width="1"/>
<circle cx="71.94" cy="-55.65" r="2.5" fill="url(#gCs)" stroke="none" stroke-width="1"/>
<circle cx="78.13" cy="-58.46" r="2.5" fill="url(#gCs)" stroke="none" stroke-width="1"/>
<circle cx="76.58" cy="-51.84" r="2.5" fill="url(#gCs)" stroke="none" stroke-width="1"/>
<circle cx="70.39" cy="-44.31" r="2.5" fill="url(#gCs)" stroke="none" stroke-width="1"/>
<circle cx="85.87" cy="-67.88" r="2.5" fill="url(#gCs)" stroke="none" stroke-width="1"/>
<circle cx="87.42" cy="-74.49" r="2.5" fill="url(#gCs)" stroke="none" stroke-width="1"/>
<circle cx="94" cy="-82.5" r="2.5" fill="url(#gCs)" stroke="none" stroke-width="1"/>
<circle cx="98.64" cy="-78.69" r="2.5" fill="url(#gCs)" stroke="none" stroke-width="1"/>
<circle cx="92.06" cy="-70.68" r="2.5" fill="url(#gCs)" stroke="none" stroke-width="1"/>
<circle cx="101.74" cy="-87.19" r="2.5" fill="url(#gCs)" stroke="none" stroke-width="1"/>
<circle cx="64.2" cy="-41.5" r="2.4" fill="url(#gN)" stroke="none" stroke-width="1"/>
<circle cx="106.1" cy="-93.4" r="2.3" fill="url(#gN)" stroke="none" stroke-width="1"/>
<circle cx="0" cy="-25.2" r="3.2" fill="url(#gI)" stroke="none" stroke-width="1"/>
<circle cx="18.5" cy="19.5" r="3.2" fill="url(#gI)" stroke="none" stroke-width="1"/>
<circle cx="-22.3" cy="5.5" r="3.2" fill="url(#gI)" stroke="none" stroke-width="1"/>
<circle cx="-22.6" cy="-10.7" r="2.6" fill="url(#gO)" stroke="none" stroke-width="1"/>
<circle cx="-5.5" cy="-10.7" r="2.6" fill="url(#gO)" stroke="none" stroke-width="1"/>
<circle cx="44.1" cy="-25.2" r="3.2" fill="url(#gI)" stroke="none" stroke-width="1"/>
<circle cx="62.6" cy="19.5" r="3.2" fill="url(#gI)" stroke="none" stroke-width="1"/>
<circle cx="21.8" cy="5.5" r="3.2" fill="url(#gI)" stroke="none" stroke-width="1"/>
<circle cx="21.5" cy="-10.7" r="2.6" fill="url(#gO)" stroke="none" stroke-width="1"/>
<circle cx="38.6" cy="-10.7" r="2.6" fill="url(#gO)" stroke="none" stroke-width="1"/>
<circle cx="88.2" cy="-25.2" r="3.2" fill="url(#gI)" stroke="none" stroke-width="1"/>
<circle cx="106.7" cy="19.5" r="3.2" fill="url(#gI)" stroke="none" stroke-width="1"/>
<circle cx="65.9" cy="5.5" r="3.2" fill="url(#gI)" stroke="none" stroke-width="1"/>
<circle cx="65.6" cy="-10.7" r="2.6" fill="url(#gO)" stroke="none" stroke-width="1"/>
<circle cx="82.7" cy="-10.7" r="2.6" fill="url(#gO)" stroke="none" stroke-width="1"/>
<circle cx="110.5" cy="5.5" r="3.2" fill="url(#gI)" stroke="none" stroke-width="1"/>
<circle cx="109" cy="-10.7" r="2.6" fill="url(#gO)" stroke="none" stroke-width="1"/>
<circle cx="0" cy="0" r="4.7" fill="url(#gPb)" stroke="none" stroke-width="1"/>
<circle cx="44.1" cy="0" r="4.7" fill="url(#gPb)" stroke="none" stroke-width="1"/>
<circle cx="88.2" cy="0" r="4.7" fill="url(#gPb)" stroke="none" stroke-width="1"/>
<line x1="64.7" y1="-92" x2="71.55" y2="-89.6" stroke="#2020B0" stroke-width="1.4"/>
<line x1="71.55" y1="-89.6" x2="78.4" y2="-87.2" stroke="#777777" stroke-width="1.4"/>
<line x1="78.4" y1="-87.2" x2="76.35" y2="-82.1" stroke="#777777" stroke-width="1.4"/>
<line x1="76.35" y1="-82.1" x2="74.3" y2="-77" stroke="#D02018" stroke-width="1.4"/>
<line x1="78.4" y1="-87.2" x2="84.05" y2="-90.8" stroke="#777777" stroke-width="1.4"/>
<line x1="84.05" y1="-90.8" x2="89.7" y2="-94.4" stroke="#777777" stroke-width="1.4"/>
<line x1="89.7" y1="-94.4" x2="89" y2="-101.3" stroke="#777777" stroke-width="1.4"/>
<line x1="89" y1="-101.3" x2="88.3" y2="-108.2" stroke="#D02018" stroke-width="1.4"/>
<line x1="106.1" y1="-93.4" x2="97.9" y2="-93.9" stroke="#2020B0" stroke-width="1.4"/>
<line x1="97.9" y1="-93.9" x2="89.7" y2="-94.4" stroke="#777777" stroke-width="1.4"/>
<circle cx="74.3" cy="-77" r="4.1" fill="url(#gOb)" stroke="none" stroke-width="1"/>
<circle cx="78.4" cy="-87.2" r="4.7" fill="url(#gCb)" stroke="none" stroke-width="1"/>
<circle cx="89.7" cy="-94.4" r="4.7" fill="url(#gCb)" stroke="none" stroke-width="1"/>
<circle cx="88.3" cy="-108.2" r="4.1" fill="url(#gOb)" stroke="none" stroke-width="1"/>
</g>
<g transform="translate(1279.6,150.8) scale(1)">
<line x1="0" y1="0" x2="0" y2="-12.6" stroke="#2CC8CE" stroke-width="1.4"/>
<line x1="0" y1="-12.6" x2="0" y2="-25.2" stroke="#7A1449" stroke-width="1.4"/>
<line x1="0" y1="0" x2="9.25" y2="9.75" stroke="#2CC8CE" stroke-width="1.4"/>
<line x1="9.25" y1="9.75" x2="18.5" y2="19.5" stroke="#7A1449" stroke-width="1.4"/>
<line x1="0" y1="0" x2="-11.15" y2="2.75" stroke="#2CC8CE" stroke-width="1.4"/>
<line x1="-11.15" y1="2.75" x2="-22.3" y2="5.5" stroke="#7A1449" stroke-width="1.4"/>
<line x1="0" y1="0" x2="11" y2="2.75" stroke="#2CC8CE" stroke-width="1.4"/>
<line x1="11" y1="2.75" x2="22" y2="5.5" stroke="#7A1449" stroke-width="1.4"/>
<line x1="0" y1="0" x2="-11.3" y2="-5.35" stroke="#2CC8CE" stroke-width="1.4"/>
<line x1="-11.3" y1="-5.35" x2="-22.6" y2="-10.7" stroke="#C42E26" stroke-width="1.4"/>
<line x1="0" y1="0" x2="10.75" y2="-5.35" stroke="#2CC8CE" stroke-width="1.4"/>
<line x1="10.75" y1="-5.35" x2="21.5" y2="-10.7" stroke="#C42E26" stroke-width="1.4"/>
<line x1="0" y1="0" x2="-2.75" y2="-5.35" stroke="#2CC8CE" stroke-width="1.4"/>
<line x1="-2.75" y1="-5.35" x2="-5.5" y2="-10.7" stroke="#C42E26" stroke-width="1.4"/>
<line x1="44.1" y1="0" x2="44.1" y2="-12.6" stroke="#2CC8CE" stroke-width="1.4"/>
<line x1="44.1" y1="-12.6" x2="44.1" y2="-25.2" stroke="#7A1449" stroke-width="1.4"/>
<line x1="44.1" y1="0" x2="53.35" y2="9.75" stroke="#2CC8CE" stroke-width="1.4"/>
<line x1="53.35" y1="9.75" x2="62.6" y2="19.5" stroke="#7A1449" stroke-width="1.4"/>
<line x1="44.1" y1="0" x2="32.95" y2="2.75" stroke="#2CC8CE" stroke-width="1.4"/>
<line x1="32.95" y1="2.75" x2="21.8" y2="5.5" stroke="#7A1449" stroke-width="1.4"/>
<line x1="44.1" y1="0" x2="55.1" y2="2.75" stroke="#2CC8CE" stroke-width="1.4"/>
<line x1="55.1" y1="2.75" x2="66.1" y2="5.5" stroke="#7A1449" stroke-width="1.4"/>
<line x1="44.1" y1="0" x2="32.8" y2="-5.35" stroke="#2CC8CE" stroke-width="1.4"/>
<line x1="32.8" y1="-5.35" x2="21.5" y2="-10.7" stroke="#C42E26" stroke-width="1.4"/>
<line x1="44.1" y1="0" x2="54.85" y2="-5.35" stroke="#2CC8CE" stroke-width="1.4"/>
<line x1="54.85" y1="-5.35" x2="65.6" y2="-10.7" stroke="#C42E26" stroke-width="1.4"/>
<line x1="44.1" y1="0" x2="41.35" y2="-5.35" stroke="#2CC8CE" stroke-width="1.4"/>
<line x1="41.35" y1="-5.35" x2="38.6" y2="-10.7" stroke="#C42E26" stroke-width="1.4"/>
<line x1="88.2" y1="0" x2="88.2" y2="-12.6" stroke="#2CC8CE" stroke-width="1.4"/>
<line x1="88.2" y1="-12.6" x2="88.2" y2="-25.2" stroke="#7A1449" stroke-width="1.4"/>
<line x1="88.2" y1="0" x2="97.45" y2="9.75" stroke="#2CC8CE" stroke-width="1.4"/>
<line x1="97.45" y1="9.75" x2="106.7" y2="19.5" stroke="#7A1449" stroke-width="1.4"/>
<line x1="88.2" y1="0" x2="77.05" y2="2.75" stroke="#2CC8CE" stroke-width="1.4"/>
<line x1="77.05" y1="2.75" x2="65.9" y2="5.5" stroke="#7A1449" stroke-width="1.4"/>
<line x1="88.2" y1="0" x2="99.2" y2="2.75" stroke="#2CC8CE" stroke-width="1.4"/>
<line x1="99.2" y1="2.75" x2="110.2" y2="5.5" stroke="#7A1449" stroke-width="1.4"/>
<line x1="88.2" y1="0" x2="76.9" y2="-5.35" stroke="#2CC8CE" stroke-width="1.4"/>
<line x1="76.9" y1="-5.35" x2="65.6" y2="-10.7" stroke="#C42E26" stroke-width="1.4"/>
<line x1="88.2" y1="0" x2="98.95" y2="-5.35" stroke="#2CC8CE" stroke-width="1.4"/>
<line x1="98.95" y1="-5.35" x2="109.7" y2="-10.7" stroke="#C42E26" stroke-width="1.4"/>
<line x1="88.2" y1="0" x2="85.45" y2="-5.35" stroke="#2CC8CE" stroke-width="1.4"/>
<line x1="85.45" y1="-5.35" x2="82.7" y2="-10.7" stroke="#C42E26" stroke-width="1.4"/>
<line x1="32.5" y1="-9.5" x2="26.7" y2="-12.7" stroke="#A4A4A4" stroke-width="1.8"/>
<line x1="26.7" y1="-12.7" x2="20.5" y2="-19.5" stroke="#A4A4A4" stroke-width="1.8"/>
<line x1="20.5" y1="-19.5" x2="12.3" y2="-30.4" stroke="#A4A4A4" stroke-width="1.8"/>
<line x1="12.3" y1="-30.4" x2="16.2" y2="-35.95" stroke="#A4A4A4" stroke-width="1.3"/>
<line x1="16.2" y1="-35.95" x2="20.1" y2="-41.5" stroke="#2020B0" stroke-width="1.3"/>
<line x1="20.1" y1="-41.5" x2="21.76" y2="-48.28" stroke="#A4A4A4" stroke-width="1.7"/>
<line x1="21.76" y1="-48.28" x2="28.14" y2="-56.1" stroke="#A4A4A4" stroke-width="1.7"/>
<line x1="28.14" y1="-56.1" x2="34.46" y2="-59.08" stroke="#A4A4A4" stroke-width="1.7"/>
<line x1="34.46" y1="-59.08" x2="32.79" y2="-52.3" stroke="#A4A4A4" stroke-width="1.7"/>
<line x1="32.79" y1="-52.3" x2="26.41" y2="-44.49" stroke="#A4A4A4" stroke-width="1.7"/>
<line x1="26.41" y1="-44.49" x2="20.1" y2="-41.5" stroke="#A4A4A4" stroke-width="1.7"/>
<line x1="42.43" y1="-68.85" x2="44.1" y2="-75.63" stroke="#A4A4A4" stroke-width="1.7"/>
<line x1="44.1" y1="-75.63" x2="50.88" y2="-83.93" stroke="#A4A4A4" stroke-width="1.7"/>
<line x1="50.88" y1="-83.93" x2="58.78" y2="-88.87" stroke="#A4A4A4" stroke-width="1.7"/>
<line x1="58.78" y1="-88.87" x2="55.52" y2="-80.14" stroke="#A4A4A4" stroke-width="1.7"/>
<line x1="55.52" y1="-80.14" x2="48.74" y2="-71.84" stroke="#A4A4A4" stroke-width="1.7"/>
<line x1="48.74" y1="-71.84" x2="42.43" y2="-68.85" stroke="#A4A4A4" stroke-width="1.7"/>
<line x1="34.46" y1="-59.08" x2="42.43" y2="-68.85" stroke="#A4A4A4" stroke-width="1.8"/>
<line x1="58.78" y1="-88.87" x2="61.58" y2="-90.7" stroke="#A4A4A4" stroke-width="1.2"/>
<line x1="61.58" y1="-90.7" x2="64.38" y2="-92.54" stroke="#2020B0" stroke-width="1.2"/>
<line x1="76.6" y1="-9.5" x2="70.8" y2="-12.7" stroke="#A4A4A4" stroke-width="1.8"/>
<line x1="70.8" y1="-12.7" x2="64.6" y2="-19.5" stroke="#A4A4A4" stroke-width="1.8"/>
<line x1="64.6" y1="-19.5" x2="56.4" y2="-30.4" stroke="#A4A4A4" stroke-width="1.8"/>
<line x1="56.4" y1="-30.4" x2="60.3" y2="-35.95" stroke="#A4A4A4" stroke-width="1.3"/>
<line x1="60.3" y1="-35.95" x2="64.2" y2="-41.5" stroke="#2020B0" stroke-width="1.3"/>
<line x1="64.2" y1="-41.5" x2="65.74" y2="-48.09" stroke="#A4A4A4" stroke-width="1.7"/>
<line x1="65.74" y1="-48.09" x2="71.91" y2="-55.58" stroke="#A4A4A4" stroke-width="1.7"/>
<line x1="71.91" y1="-55.58" x2="78.09" y2="-58.36" stroke="#A4A4A4" stroke-width="1.7"/>
<line x1="78.09" y1="-58.36" x2="76.54" y2="-51.77" stroke="#A4A4A4" stroke-width="1.7"/>
<line x1="76.54" y1="-51.77" x2="70.37" y2="-44.28" stroke="#A4A4A4" stroke-width="1.7"/>
<line x1="70.37" y1="-44.28" x2="64.2" y2="-41.5" stroke="#A4A4A4" stroke-width="1.7"/>
<line x1="85.8" y1="-67.73" x2="87.34" y2="-74.32" stroke="#A4A4A4" stroke-width="1.7"/>
<line x1="87.34" y1="-74.32" x2="93.9" y2="-82.28" stroke="#A4A4A4" stroke-width="1.7"/>
<line x1="93.9" y1="-82.28" x2="101.61" y2="-86.93" stroke="#A4A4A4" stroke-width="1.7"/>
<line x1="101.61" y1="-86.93" x2="98.53" y2="-78.47" stroke="#A4A4A4" stroke-width="1.7"/>
<line x1="98.53" y1="-78.47" x2="91.97" y2="-70.5" stroke="#A4A4A4" stroke-width="1.7"/>
<line x1="91.97" y1="-70.5" x2="85.8" y2="-67.73" stroke="#A4A4A4" stroke-width="1.7"/>
<line x1="78.09" y1="-58.36" x2="85.8" y2="-67.73" stroke="#A4A4A4" stroke-width="1.8"/>
<line x1="101.61" y1="-86.93" x2="103.79" y2="-90.03" stroke="#A4A4A4" stroke-width="1.2"/>
<line x1="103.79" y1="-90.03" x2="105.97" y2="-93.13" stroke="#2020B0" stroke-width="1.2"/>
<circle cx="26.7" cy="-12.7" r="2.6" fill="url(#gCs)" stroke="none" stroke-width="1"/>
<circle cx="20.5" cy="-19.5" r="2.6" fill="url(#gCs)" stroke="none" stroke-width="1"/>
<circle cx="12.3" cy="-30.4" r="2.6" fill="url(#gCs)" stroke="none" stroke-width="1"/>
<circle cx="21.76" cy="-48.28" r="2.5" fill="url(#gCs)" stroke="none" stroke-width="1"/>
<circle cx="28.14" cy="-56.1" r="2.5" fill="url(#gCs)" stroke="none" stroke-width="1"/>
<circle cx="34.46" cy="-59.08" r="2.5" fill="url(#gCs)" stroke="none" stroke-width="1"/>
<circle cx="32.79" cy="-52.3" r="2.5" fill="url(#gCs)" stroke="none" stroke-width="1"/>
<circle cx="26.41" cy="-44.49" r="2.5" fill="url(#gCs)" stroke="none" stroke-width="1"/>
<circle cx="42.43" cy="-68.85" r="2.5" fill="url(#gCs)" stroke="none" stroke-width="1"/>
<circle cx="44.1" cy="-75.63" r="2.5" fill="url(#gCs)" stroke="none" stroke-width="1"/>
<circle cx="50.88" cy="-83.93" r="2.5" fill="url(#gCs)" stroke="none" stroke-width="1"/>
<circle cx="55.52" cy="-80.14" r="2.5" fill="url(#gCs)" stroke="none" stroke-width="1"/>
<circle cx="48.74" cy="-71.84" r="2.5" fill="url(#gCs)" stroke="none" stroke-width="1"/>
<circle cx="58.78" cy="-88.87" r="2.5" fill="url(#gCs)" stroke="none" stroke-width="1"/>
<circle cx="20.1" cy="-41.5" r="2.4" fill="url(#gN)" stroke="none" stroke-width="1"/>
<circle cx="64.38" cy="-92.54" r="2.3" fill="url(#gN)" stroke="none" stroke-width="1"/>
<circle cx="70.8" cy="-12.7" r="2.6" fill="url(#gCs)" stroke="none" stroke-width="1"/>
<circle cx="64.6" cy="-19.5" r="2.6" fill="url(#gCs)" stroke="none" stroke-width="1"/>
<circle cx="56.4" cy="-30.4" r="2.6" fill="url(#gCs)" stroke="none" stroke-width="1"/>
<circle cx="65.74" cy="-48.09" r="2.5" fill="url(#gCs)" stroke="none" stroke-width="1"/>
<circle cx="71.91" cy="-55.58" r="2.5" fill="url(#gCs)" stroke="none" stroke-width="1"/>
<circle cx="78.09" cy="-58.36" r="2.5" fill="url(#gCs)" stroke="none" stroke-width="1"/>
<circle cx="76.54" cy="-51.77" r="2.5" fill="url(#gCs)" stroke="none" stroke-width="1"/>
<circle cx="70.37" cy="-44.28" r="2.5" fill="url(#gCs)" stroke="none" stroke-width="1"/>
<circle cx="85.8" cy="-67.73" r="2.5" fill="url(#gCs)" stroke="none" stroke-width="1"/>
<circle cx="87.34" cy="-74.32" r="2.5" fill="url(#gCs)" stroke="none" stroke-width="1"/>
<circle cx="93.9" cy="-82.28" r="2.5" fill="url(#gCs)" stroke="none" stroke-width="1"/>
<circle cx="98.53" cy="-78.47" r="2.5" fill="url(#gCs)" stroke="none" stroke-width="1"/>
<circle cx="91.97" cy="-70.5" r="2.5" fill="url(#gCs)" stroke="none" stroke-width="1"/>
<circle cx="101.61" cy="-86.93" r="2.5" fill="url(#gCs)" stroke="none" stroke-width="1"/>
<circle cx="64.2" cy="-41.5" r="2.4" fill="url(#gN)" stroke="none" stroke-width="1"/>
<circle cx="105.97" cy="-93.13" r="2.3" fill="url(#gN)" stroke="none" stroke-width="1"/>
<circle cx="0" cy="-25.2" r="3.2" fill="url(#gI)" stroke="none" stroke-width="1"/>
<circle cx="18.5" cy="19.5" r="3.2" fill="url(#gI)" stroke="none" stroke-width="1"/>
<circle cx="-22.3" cy="5.5" r="3.2" fill="url(#gI)" stroke="none" stroke-width="1"/>
<circle cx="-22.6" cy="-10.7" r="2.6" fill="url(#gO)" stroke="none" stroke-width="1"/>
<circle cx="-5.5" cy="-10.7" r="2.6" fill="url(#gO)" stroke="none" stroke-width="1"/>
<circle cx="44.1" cy="-25.2" r="3.2" fill="url(#gI)" stroke="none" stroke-width="1"/>
<circle cx="62.6" cy="19.5" r="3.2" fill="url(#gI)" stroke="none" stroke-width="1"/>
<circle cx="21.8" cy="5.5" r="3.2" fill="url(#gI)" stroke="none" stroke-width="1"/>
<circle cx="21.5" cy="-10.7" r="2.6" fill="url(#gO)" stroke="none" stroke-width="1"/>
<circle cx="38.6" cy="-10.7" r="2.6" fill="url(#gO)" stroke="none" stroke-width="1"/>
<circle cx="88.2" cy="-25.2" r="3.2" fill="url(#gI)" stroke="none" stroke-width="1"/>
<circle cx="106.7" cy="19.5" r="3.2" fill="url(#gI)" stroke="none" stroke-width="1"/>
<circle cx="65.9" cy="5.5" r="3.2" fill="url(#gI)" stroke="none" stroke-width="1"/>
<circle cx="65.6" cy="-10.7" r="2.6" fill="url(#gO)" stroke="none" stroke-width="1"/>
<circle cx="82.7" cy="-10.7" r="2.6" fill="url(#gO)" stroke="none" stroke-width="1"/>
<circle cx="110.5" cy="5.5" r="3.2" fill="url(#gI)" stroke="none" stroke-width="1"/>
<circle cx="109" cy="-10.7" r="2.6" fill="url(#gO)" stroke="none" stroke-width="1"/>
<circle cx="0" cy="0" r="4.7" fill="url(#gPb)" stroke="none" stroke-width="1"/>
<circle cx="44.1" cy="0" r="4.7" fill="url(#gPb)" stroke="none" stroke-width="1"/>
<circle cx="88.2" cy="0" r="4.7" fill="url(#gPb)" stroke="none" stroke-width="1"/>
<line x1="64.38" y1="-92.54" x2="71.19" y2="-89.65" stroke="#2020B0" stroke-width="1.4"/>
<line x1="71.19" y1="-89.65" x2="78.01" y2="-86.77" stroke="#777777" stroke-width="1.4"/>
<line x1="78.01" y1="-86.77" x2="76.67" y2="-81.49" stroke="#777777" stroke-width="1.4"/>
<line x1="76.67" y1="-81.49" x2="75.32" y2="-76.22" stroke="#D02018" stroke-width="1.4"/>
<line x1="78.01" y1="-86.77" x2="83.63" y2="-90.45" stroke="#777777" stroke-width="1.4"/>
<line x1="83.63" y1="-90.45" x2="89.25" y2="-94.13" stroke="#777777" stroke-width="1.4"/>
<line x1="89.25" y1="-94.13" x2="88.76" y2="-101" stroke="#777777" stroke-width="1.4"/>
<line x1="88.76" y1="-101" x2="88.26" y2="-107.86" stroke="#D02018" stroke-width="1.4"/>
<line x1="105.97" y1="-93.13" x2="97.61" y2="-93.63" stroke="#2020B0" stroke-width="1.4"/>
<line x1="97.61" y1="-93.63" x2="89.25" y2="-94.13" stroke="#777777" stroke-width="1.4"/>
<circle cx="70.85" cy="-75.62" r="2.59" fill="url(#gH)" stroke="none" stroke-width="1"/>
<circle cx="75.32" cy="-76.22" r="4.08" fill="url(#gOb)" stroke="none" stroke-width="1"/>
<circle cx="78.01" cy="-86.77" r="4.68" fill="url(#gCb)" stroke="none" stroke-width="1"/>
<circle cx="89.25" cy="-94.13" r="4.68" fill="url(#gCb)" stroke="none" stroke-width="1"/>
<circle cx="88.26" cy="-107.86" r="4.08" fill="url(#gOb)" stroke="none" stroke-width="1"/>
</g>
<g transform="translate(1499.1,146.5) scale(1.03)">
<line x1="0" y1="0" x2="0" y2="-12.6" stroke="#2CC8CE" stroke-width="1.4"/>
<line x1="0" y1="-12.6" x2="0" y2="-25.2" stroke="#7A1449" stroke-width="1.4"/>
<line x1="0" y1="0" x2="9.25" y2="9.75" stroke="#2CC8CE" stroke-width="1.4"/>
<line x1="9.25" y1="9.75" x2="18.5" y2="19.5" stroke="#7A1449" stroke-width="1.4"/>
<line x1="0" y1="0" x2="-11.15" y2="2.75" stroke="#2CC8CE" stroke-width="1.4"/>
<line x1="-11.15" y1="2.75" x2="-22.3" y2="5.5" stroke="#7A1449" stroke-width="1.4"/>
<line x1="0" y1="0" x2="11" y2="2.75" stroke="#2CC8CE" stroke-width="1.4"/>
<line x1="11" y1="2.75" x2="22" y2="5.5" stroke="#7A1449" stroke-width="1.4"/>
<line x1="0" y1="0" x2="-11.3" y2="-5.35" stroke="#2CC8CE" stroke-width="1.4"/>
<line x1="-11.3" y1="-5.35" x2="-22.6" y2="-10.7" stroke="#C42E26" stroke-width="1.4"/>
<line x1="0" y1="0" x2="10.75" y2="-5.35" stroke="#2CC8CE" stroke-width="1.4"/>
<line x1="10.75" y1="-5.35" x2="21.5" y2="-10.7" stroke="#C42E26" stroke-width="1.4"/>
<line x1="0" y1="0" x2="-2.75" y2="-5.35" stroke="#2CC8CE" stroke-width="1.4"/>
<line x1="-2.75" y1="-5.35" x2="-5.5" y2="-10.7" stroke="#C42E26" stroke-width="1.4"/>
<line x1="44.1" y1="0" x2="44.1" y2="-12.6" stroke="#2CC8CE" stroke-width="1.4"/>
<line x1="44.1" y1="-12.6" x2="44.1" y2="-25.2" stroke="#7A1449" stroke-width="1.4"/>
<line x1="44.1" y1="0" x2="53.35" y2="9.75" stroke="#2CC8CE" stroke-width="1.4"/>
<line x1="53.35" y1="9.75" x2="62.6" y2="19.5" stroke="#7A1449" stroke-width="1.4"/>
<line x1="44.1" y1="0" x2="32.95" y2="2.75" stroke="#2CC8CE" stroke-width="1.4"/>
<line x1="32.95" y1="2.75" x2="21.8" y2="5.5" stroke="#7A1449" stroke-width="1.4"/>
<line x1="44.1" y1="0" x2="55.1" y2="2.75" stroke="#2CC8CE" stroke-width="1.4"/>
<line x1="55.1" y1="2.75" x2="66.1" y2="5.5" stroke="#7A1449" stroke-width="1.4"/>
<line x1="44.1" y1="0" x2="32.8" y2="-5.35" stroke="#2CC8CE" stroke-width="1.4"/>
<line x1="32.8" y1="-5.35" x2="21.5" y2="-10.7" stroke="#C42E26" stroke-width="1.4"/>
<line x1="44.1" y1="0" x2="54.85" y2="-5.35" stroke="#2CC8CE" stroke-width="1.4"/>
<line x1="54.85" y1="-5.35" x2="65.6" y2="-10.7" stroke="#C42E26" stroke-width="1.4"/>
<line x1="44.1" y1="0" x2="41.35" y2="-5.35" stroke="#2CC8CE" stroke-width="1.4"/>
<line x1="41.35" y1="-5.35" x2="38.6" y2="-10.7" stroke="#C42E26" stroke-width="1.4"/>
<line x1="88.2" y1="0" x2="88.2" y2="-12.6" stroke="#2CC8CE" stroke-width="1.4"/>
<line x1="88.2" y1="-12.6" x2="88.2" y2="-25.2" stroke="#7A1449" stroke-width="1.4"/>
<line x1="88.2" y1="0" x2="97.45" y2="9.75" stroke="#2CC8CE" stroke-width="1.4"/>
<line x1="97.45" y1="9.75" x2="106.7" y2="19.5" stroke="#7A1449" stroke-width="1.4"/>
<line x1="88.2" y1="0" x2="77.05" y2="2.75" stroke="#2CC8CE" stroke-width="1.4"/>
<line x1="77.05" y1="2.75" x2="65.9" y2="5.5" stroke="#7A1449" stroke-width="1.4"/>
<line x1="88.2" y1="0" x2="99.2" y2="2.75" stroke="#2CC8CE" stroke-width="1.4"/>
<line x1="99.2" y1="2.75" x2="110.2" y2="5.5" stroke="#7A1449" stroke-width="1.4"/>
<line x1="88.2" y1="0" x2="76.9" y2="-5.35" stroke="#2CC8CE" stroke-width="1.4"/>
<line x1="76.9" y1="-5.35" x2="65.6" y2="-10.7" stroke="#C42E26" stroke-width="1.4"/>
<line x1="88.2" y1="0" x2="98.95" y2="-5.35" stroke="#2CC8CE" stroke-width="1.4"/>
<line x1="98.95" y1="-5.35" x2="109.7" y2="-10.7" stroke="#C42E26" stroke-width="1.4"/>
<line x1="88.2" y1="0" x2="85.45" y2="-5.35" stroke="#2CC8CE" stroke-width="1.4"/>
<line x1="85.45" y1="-5.35" x2="82.7" y2="-10.7" stroke="#C42E26" stroke-width="1.4"/>
<line x1="32.5" y1="-9.5" x2="26.7" y2="-12.7" stroke="#A4A4A4" stroke-width="1.8"/>
<line x1="26.7" y1="-12.7" x2="20.5" y2="-19.5" stroke="#A4A4A4" stroke-width="1.8"/>
<line x1="20.5" y1="-19.5" x2="12.3" y2="-30.4" stroke="#A4A4A4" stroke-width="1.8"/>
<line x1="12.3" y1="-30.4" x2="16.2" y2="-35.95" stroke="#A4A4A4" stroke-width="1.3"/>
<line x1="16.2" y1="-35.95" x2="20.1" y2="-41.5" stroke="#2020B0" stroke-width="1.3"/>
<line x1="20.1" y1="-41.5" x2="21.74" y2="-48.23" stroke="#A4A4A4" stroke-width="1.7"/>
<line x1="21.74" y1="-48.23" x2="28.06" y2="-55.95" stroke="#A4A4A4" stroke-width="1.7"/>
<line x1="28.06" y1="-55.95" x2="34.34" y2="-58.88" stroke="#A4A4A4" stroke-width="1.7"/>
<line x1="34.34" y1="-58.88" x2="32.71" y2="-52.15" stroke="#A4A4A4" stroke-width="1.7"/>
<line x1="32.71" y1="-52.15" x2="26.38" y2="-44.43" stroke="#A4A4A4" stroke-width="1.7"/>
<line x1="26.38" y1="-44.43" x2="20.1" y2="-41.5" stroke="#A4A4A4" stroke-width="1.7"/>
<line x1="42.25" y1="-68.54" x2="43.89" y2="-75.27" stroke="#A4A4A4" stroke-width="1.7"/>
<line x1="43.89" y1="-75.27" x2="50.61" y2="-83.47" stroke="#A4A4A4" stroke-width="1.7"/>
<line x1="50.61" y1="-83.47" x2="58.47" y2="-88.33" stroke="#A4A4A4" stroke-width="1.7"/>
<line x1="58.47" y1="-88.33" x2="55.25" y2="-79.67" stroke="#A4A4A4" stroke-width="1.7"/>
<line x1="55.25" y1="-79.67" x2="48.53" y2="-71.46" stroke="#A4A4A4" stroke-width="1.7"/>
<line x1="48.53" y1="-71.46" x2="42.25" y2="-68.54" stroke="#A4A4A4" stroke-width="1.7"/>
<line x1="34.34" y1="-58.88" x2="42.25" y2="-68.54" stroke="#A4A4A4" stroke-width="1.8"/>
<line x1="58.47" y1="-88.33" x2="61.26" y2="-90.16" stroke="#A4A4A4" stroke-width="1.2"/>
<line x1="61.26" y1="-90.16" x2="64.06" y2="-91.98" stroke="#2020B0" stroke-width="1.2"/>
<line x1="76.6" y1="-9.5" x2="70.8" y2="-12.7" stroke="#A4A4A4" stroke-width="1.8"/>
<line x1="70.8" y1="-12.7" x2="64.6" y2="-19.5" stroke="#A4A4A4" stroke-width="1.8"/>
<line x1="64.6" y1="-19.5" x2="56.4" y2="-30.4" stroke="#A4A4A4" stroke-width="1.8"/>
<line x1="56.4" y1="-30.4" x2="60.3" y2="-35.95" stroke="#A4A4A4" stroke-width="1.3"/>
<line x1="60.3" y1="-35.95" x2="64.2" y2="-41.5" stroke="#2020B0" stroke-width="1.3"/>
<line x1="64.2" y1="-41.5" x2="65.5" y2="-48.06" stroke="#A4A4A4" stroke-width="1.7"/>
<line x1="65.5" y1="-48.06" x2="71.36" y2="-55.62" stroke="#A4A4A4" stroke-width="1.7"/>
<line x1="71.36" y1="-55.62" x2="77.4" y2="-58.5" stroke="#A4A4A4" stroke-width="1.7"/>
<line x1="77.4" y1="-58.5" x2="76.1" y2="-51.94" stroke="#A4A4A4" stroke-width="1.7"/>
<line x1="76.1" y1="-51.94" x2="70.24" y2="-44.38" stroke="#A4A4A4" stroke-width="1.7"/>
<line x1="70.24" y1="-44.38" x2="64.2" y2="-41.5" stroke="#A4A4A4" stroke-width="1.7"/>
<line x1="84.73" y1="-67.95" x2="86.02" y2="-74.51" stroke="#A4A4A4" stroke-width="1.7"/>
<line x1="86.02" y1="-74.51" x2="92.26" y2="-82.54" stroke="#A4A4A4" stroke-width="1.7"/>
<line x1="92.26" y1="-82.54" x2="99.76" y2="-87.31" stroke="#A4A4A4" stroke-width="1.7"/>
<line x1="99.76" y1="-87.31" x2="97" y2="-78.86" stroke="#A4A4A4" stroke-width="1.7"/>
<line x1="97" y1="-78.86" x2="90.76" y2="-70.83" stroke="#A4A4A4" stroke-width="1.7"/>
<line x1="90.76" y1="-70.83" x2="84.73" y2="-67.95" stroke="#A4A4A4" stroke-width="1.7"/>
<line x1="77.4" y1="-58.5" x2="84.73" y2="-67.95" stroke="#A4A4A4" stroke-width="1.8"/>
<line x1="99.76" y1="-87.31" x2="101.91" y2="-90.42" stroke="#A4A4A4" stroke-width="1.2"/>
<line x1="101.91" y1="-90.42" x2="104.06" y2="-93.53" stroke="#2020B0" stroke-width="1.2"/>
<circle cx="26.7" cy="-12.7" r="2.6" fill="url(#gCs)" stroke="none" stroke-width="1"/>
<circle cx="20.5" cy="-19.5" r="2.6" fill="url(#gCs)" stroke="none" stroke-width="1"/>
<circle cx="12.3" cy="-30.4" r="2.6" fill="url(#gCs)" stroke="none" stroke-width="1"/>
<circle cx="21.74" cy="-48.23" r="2.5" fill="url(#gCs)" stroke="none" stroke-width="1"/>
<circle cx="28.06" cy="-55.95" r="2.5" fill="url(#gCs)" stroke="none" stroke-width="1"/>
<circle cx="34.34" cy="-58.88" r="2.5" fill="url(#gCs)" stroke="none" stroke-width="1"/>
<circle cx="32.71" cy="-52.15" r="2.5" fill="url(#gCs)" stroke="none" stroke-width="1"/>
<circle cx="26.38" cy="-44.43" r="2.5" fill="url(#gCs)" stroke="none" stroke-width="1"/>
<circle cx="42.25" cy="-68.54" r="2.5" fill="url(#gCs)" stroke="none" stroke-width="1"/>
<circle cx="43.89" cy="-75.27" r="2.5" fill="url(#gCs)" stroke="none" stroke-width="1"/>
<circle cx="50.61" cy="-83.47" r="2.5" fill="url(#gCs)" stroke="none" stroke-width="1"/>
<circle cx="55.25" cy="-79.67" r="2.5" fill="url(#gCs)" stroke="none" stroke-width="1"/>
<circle cx="48.53" cy="-71.46" r="2.5" fill="url(#gCs)" stroke="none" stroke-width="1"/>
<circle cx="58.47" cy="-88.33" r="2.5" fill="url(#gCs)" stroke="none" stroke-width="1"/>
<circle cx="20.1" cy="-41.5" r="2.4" fill="url(#gN)" stroke="none" stroke-width="1"/>
<circle cx="64.06" cy="-91.98" r="2.3" fill="url(#gN)" stroke="none" stroke-width="1"/>
<circle cx="70.8" cy="-12.7" r="2.6" fill="url(#gCs)" stroke="none" stroke-width="1"/>
<circle cx="64.6" cy="-19.5" r="2.6" fill="url(#gCs)" stroke="none" stroke-width="1"/>
<circle cx="56.4" cy="-30.4" r="2.6" fill="url(#gCs)" stroke="none" stroke-width="1"/>
<circle cx="65.5" cy="-48.06" r="2.5" fill="url(#gCs)" stroke="none" stroke-width="1"/>
<circle cx="71.36" cy="-55.62" r="2.5" fill="url(#gCs)" stroke="none" stroke-width="1"/>
<circle cx="77.4" cy="-58.5" r="2.5" fill="url(#gCs)" stroke="none" stroke-width="1"/>
<circle cx="76.1" cy="-51.94" r="2.5" fill="url(#gCs)" stroke="none" stroke-width="1"/>
<circle cx="70.24" cy="-44.38" r="2.5" fill="url(#gCs)" stroke="none" stroke-width="1"/>
<circle cx="84.73" cy="-67.95" r="2.5" fill="url(#gCs)" stroke="none" stroke-width="1"/>
<circle cx="86.02" cy="-74.51" r="2.5" fill="url(#gCs)" stroke="none" stroke-width="1"/>
<circle cx="92.26" cy="-82.54" r="2.5" fill="url(#gCs)" stroke="none" stroke-width="1"/>
<circle cx="97" cy="-78.86" r="2.5" fill="url(#gCs)" stroke="none" stroke-width="1"/>
<circle cx="90.76" cy="-70.83" r="2.5" fill="url(#gCs)" stroke="none" stroke-width="1"/>
<circle cx="99.76" cy="-87.31" r="2.5" fill="url(#gCs)" stroke="none" stroke-width="1"/>
<circle cx="64.2" cy="-41.5" r="2.4" fill="url(#gN)" stroke="none" stroke-width="1"/>
<circle cx="104.06" cy="-93.53" r="2.3" fill="url(#gN)" stroke="none" stroke-width="1"/>
<circle cx="0" cy="-25.2" r="3.2" fill="url(#gI)" stroke="none" stroke-width="1"/>
<circle cx="18.5" cy="19.5" r="3.2" fill="url(#gI)" stroke="none" stroke-width="1"/>
<circle cx="-22.3" cy="5.5" r="3.2" fill="url(#gI)" stroke="none" stroke-width="1"/>
<circle cx="-22.6" cy="-10.7" r="2.6" fill="url(#gO)" stroke="none" stroke-width="1"/>
<circle cx="-5.5" cy="-10.7" r="2.6" fill="url(#gO)" stroke="none" stroke-width="1"/>
<circle cx="44.1" cy="-25.2" r="3.2" fill="url(#gI)" stroke="none" stroke-width="1"/>
<circle cx="62.6" cy="19.5" r="3.2" fill="url(#gI)" stroke="none" stroke-width="1"/>
<circle cx="21.8" cy="5.5" r="3.2" fill="url(#gI)" stroke="none" stroke-width="1"/>
<circle cx="21.5" cy="-10.7" r="2.6" fill="url(#gO)" stroke="none" stroke-width="1"/>
<circle cx="38.6" cy="-10.7" r="2.6" fill="url(#gO)" stroke="none" stroke-width="1"/>
<circle cx="88.2" cy="-25.2" r="3.2" fill="url(#gI)" stroke="none" stroke-width="1"/>
<circle cx="106.7" cy="19.5" r="3.2" fill="url(#gI)" stroke="none" stroke-width="1"/>
<circle cx="65.9" cy="5.5" r="3.2" fill="url(#gI)" stroke="none" stroke-width="1"/>
<circle cx="65.6" cy="-10.7" r="2.6" fill="url(#gO)" stroke="none" stroke-width="1"/>
<circle cx="82.7" cy="-10.7" r="2.6" fill="url(#gO)" stroke="none" stroke-width="1"/>
<circle cx="110.5" cy="5.5" r="3.2" fill="url(#gI)" stroke="none" stroke-width="1"/>
<circle cx="109" cy="-10.7" r="2.6" fill="url(#gO)" stroke="none" stroke-width="1"/>
<circle cx="0" cy="0" r="4.7" fill="url(#gPb)" stroke="none" stroke-width="1"/>
<circle cx="44.1" cy="0" r="4.7" fill="url(#gPb)" stroke="none" stroke-width="1"/>
<circle cx="88.2" cy="0" r="4.7" fill="url(#gPb)" stroke="none" stroke-width="1"/>
<line x1="64.06" y1="-91.98" x2="70.87" y2="-89.32" stroke="#2020B0" stroke-width="1.4"/>
<line x1="70.87" y1="-89.32" x2="77.68" y2="-86.67" stroke="#777777" stroke-width="1.4"/>
<line x1="77.68" y1="-86.67" x2="83.43" y2="-89.9" stroke="#777777" stroke-width="1.4"/>
<line x1="83.43" y1="-89.9" x2="89.18" y2="-93.14" stroke="#777777" stroke-width="1.4"/>
<line x1="89.18" y1="-93.14" x2="89.47" y2="-99.81" stroke="#777777" stroke-width="1.4"/>
<line x1="89.47" y1="-99.81" x2="89.76" y2="-106.47" stroke="#D02018" stroke-width="1.4"/>
<line x1="104.06" y1="-93.53" x2="96.62" y2="-93.33" stroke="#2020B0" stroke-width="1.4"/>
<line x1="96.62" y1="-93.33" x2="89.18" y2="-93.14" stroke="#777777" stroke-width="1.4"/>
<circle cx="77.68" cy="-86.67" r="4.64" fill="url(#gCb)" stroke="none" stroke-width="1"/>
<circle cx="89.18" cy="-93.14" r="4.64" fill="url(#gCb)" stroke="none" stroke-width="1"/>
<circle cx="89.76" cy="-106.47" r="4.06" fill="url(#gOb)" stroke="none" stroke-width="1"/>
</g>
<g transform="translate(822.1,356.4) scale(1)">
<line x1="0" y1="0" x2="0" y2="-12.6" stroke="#2CC8CE" stroke-width="1.4"/>
<line x1="0" y1="-12.6" x2="0" y2="-25.2" stroke="#7A1449" stroke-width="1.4"/>
<line x1="0" y1="0" x2="9.25" y2="9.75" stroke="#2CC8CE" stroke-width="1.4"/>
<line x1="9.25" y1="9.75" x2="18.5" y2="19.5" stroke="#7A1449" stroke-width="1.4"/>
<line x1="0" y1="0" x2="-11.15" y2="2.75" stroke="#2CC8CE" stroke-width="1.4"/>
<line x1="-11.15" y1="2.75" x2="-22.3" y2="5.5" stroke="#7A1449" stroke-width="1.4"/>
<line x1="0" y1="0" x2="11" y2="2.75" stroke="#2CC8CE" stroke-width="1.4"/>
<line x1="11" y1="2.75" x2="22" y2="5.5" stroke="#7A1449" stroke-width="1.4"/>
<line x1="0" y1="0" x2="-11.3" y2="-5.35" stroke="#2CC8CE" stroke-width="1.4"/>
<line x1="-11.3" y1="-5.35" x2="-22.6" y2="-10.7" stroke="#C42E26" stroke-width="1.4"/>
<line x1="0" y1="0" x2="10.75" y2="-5.35" stroke="#2CC8CE" stroke-width="1.4"/>
<line x1="10.75" y1="-5.35" x2="21.5" y2="-10.7" stroke="#C42E26" stroke-width="1.4"/>
<line x1="0" y1="0" x2="-2.75" y2="-5.35" stroke="#2CC8CE" stroke-width="1.4"/>
<line x1="-2.75" y1="-5.35" x2="-5.5" y2="-10.7" stroke="#C42E26" stroke-width="1.4"/>
<line x1="44.1" y1="0" x2="44.1" y2="-12.6" stroke="#2CC8CE" stroke-width="1.4"/>
<line x1="44.1" y1="-12.6" x2="44.1" y2="-25.2" stroke="#7A1449" stroke-width="1.4"/>
<line x1="44.1" y1="0" x2="53.35" y2="9.75" stroke="#2CC8CE" stroke-width="1.4"/>
<line x1="53.35" y1="9.75" x2="62.6" y2="19.5" stroke="#7A1449" stroke-width="1.4"/>
<line x1="44.1" y1="0" x2="32.95" y2="2.75" stroke="#2CC8CE" stroke-width="1.4"/>
<line x1="32.95" y1="2.75" x2="21.8" y2="5.5" stroke="#7A1449" stroke-width="1.4"/>
<line x1="44.1" y1="0" x2="55.1" y2="2.75" stroke="#2CC8CE" stroke-width="1.4"/>
<line x1="55.1" y1="2.75" x2="66.1" y2="5.5" stroke="#7A1449" stroke-width="1.4"/>
<line x1="44.1" y1="0" x2="32.8" y2="-5.35" stroke="#2CC8CE" stroke-width="1.4"/>
<line x1="32.8" y1="-5.35" x2="21.5" y2="-10.7" stroke="#C42E26" stroke-width="1.4"/>
<line x1="44.1" y1="0" x2="54.85" y2="-5.35" stroke="#2CC8CE" stroke-width="1.4"/>
<line x1="54.85" y1="-5.35" x2="65.6" y2="-10.7" stroke="#C42E26" stroke-width="1.4"/>
<line x1="44.1" y1="0" x2="41.35" y2="-5.35" stroke="#2CC8CE" stroke-width="1.4"/>
<line x1="41.35" y1="-5.35" x2="38.6" y2="-10.7" stroke="#C42E26" stroke-width="1.4"/>
<line x1="88.2" y1="0" x2="88.2" y2="-12.6" stroke="#2CC8CE" stroke-width="1.4"/>
<line x1="88.2" y1="-12.6" x2="88.2" y2="-25.2" stroke="#7A1449" stroke-width="1.4"/>
<line x1="88.2" y1="0" x2="97.45" y2="9.75" stroke="#2CC8CE" stroke-width="1.4"/>
<line x1="97.45" y1="9.75" x2="106.7" y2="19.5" stroke="#7A1449" stroke-width="1.4"/>
<line x1="88.2" y1="0" x2="77.05" y2="2.75" stroke="#2CC8CE" stroke-width="1.4"/>
<line x1="77.05" y1="2.75" x2="65.9" y2="5.5" stroke="#7A1449" stroke-width="1.4"/>
<line x1="88.2" y1="0" x2="99.2" y2="2.75" stroke="#2CC8CE" stroke-width="1.4"/>
<line x1="99.2" y1="2.75" x2="110.2" y2="5.5" stroke="#7A1449" stroke-width="1.4"/>
<line x1="88.2" y1="0" x2="76.9" y2="-5.35" stroke="#2CC8CE" stroke-width="1.4"/>
<line x1="76.9" y1="-5.35" x2="65.6" y2="-10.7" stroke="#C42E26" stroke-width="1.4"/>
<line x1="88.2" y1="0" x2="98.95" y2="-5.35" stroke="#2CC8CE" stroke-width="1.4"/>
<line x1="98.95" y1="-5.35" x2="109.7" y2="-10.7" stroke="#C42E26" stroke-width="1.4"/>
<line x1="88.2" y1="0" x2="85.45" y2="-5.35" stroke="#2CC8CE" stroke-width="1.4"/>
<line x1="85.45" y1="-5.35" x2="82.7" y2="-10.7" stroke="#C42E26" stroke-width="1.4"/>
<line x1="32.5" y1="-9.5" x2="26.7" y2="-12.7" stroke="#A4A4A4" stroke-width="1.8"/>
<line x1="26.7" y1="-12.7" x2="20.5" y2="-19.5" stroke="#A4A4A4" stroke-width="1.8"/>
<line x1="20.5" y1="-19.5" x2="12.3" y2="-30.4" stroke="#A4A4A4" stroke-width="1.8"/>
<line x1="12.3" y1="-30.4" x2="16.2" y2="-35.95" stroke="#A4A4A4" stroke-width="1.3"/>
<line x1="16.2" y1="-35.95" x2="20.1" y2="-41.5" stroke="#2020B0" stroke-width="1.3"/>
<line x1="20.1" y1="-41.5" x2="21.73" y2="-48.31" stroke="#A4A4A4" stroke-width="1.7"/>
<line x1="21.73" y1="-48.31" x2="28.09" y2="-56.2" stroke="#A4A4A4" stroke-width="1.7"/>
<line x1="28.09" y1="-56.2" x2="34.39" y2="-59.25" stroke="#A4A4A4" stroke-width="1.7"/>
<line x1="34.39" y1="-59.25" x2="32.76" y2="-52.44" stroke="#A4A4A4" stroke-width="1.7"/>
<line x1="32.76" y1="-52.44" x2="26.41" y2="-44.55" stroke="#A4A4A4" stroke-width="1.7"/>
<line x1="26.41" y1="-44.55" x2="20.1" y2="-41.5" stroke="#A4A4A4" stroke-width="1.7"/>
<line x1="42.33" y1="-69.11" x2="43.97" y2="-75.92" stroke="#A4A4A4" stroke-width="1.7"/>
<line x1="43.97" y1="-75.92" x2="50.71" y2="-84.3" stroke="#A4A4A4" stroke-width="1.7"/>
<line x1="50.71" y1="-84.3" x2="58.61" y2="-89.32" stroke="#A4A4A4" stroke-width="1.7"/>
<line x1="58.61" y1="-89.32" x2="55.39" y2="-80.54" stroke="#A4A4A4" stroke-width="1.7"/>
<line x1="55.39" y1="-80.54" x2="48.64" y2="-72.16" stroke="#A4A4A4" stroke-width="1.7"/>
<line x1="48.64" y1="-72.16" x2="42.33" y2="-69.11" stroke="#A4A4A4" stroke-width="1.7"/>
<line x1="34.39" y1="-59.25" x2="42.33" y2="-69.11" stroke="#A4A4A4" stroke-width="1.8"/>
<line x1="58.61" y1="-89.32" x2="61.4" y2="-91.16" stroke="#A4A4A4" stroke-width="1.2"/>
<line x1="61.4" y1="-91.16" x2="64.2" y2="-93" stroke="#2020B0" stroke-width="1.2"/>
<line x1="76.6" y1="-9.5" x2="70.8" y2="-12.7" stroke="#A4A4A4" stroke-width="1.8"/>
<line x1="70.8" y1="-12.7" x2="64.6" y2="-19.5" stroke="#A4A4A4" stroke-width="1.8"/>
<line x1="64.6" y1="-19.5" x2="56.4" y2="-30.4" stroke="#A4A4A4" stroke-width="1.8"/>
<line x1="56.4" y1="-30.4" x2="60.3" y2="-35.95" stroke="#A4A4A4" stroke-width="1.3"/>
<line x1="60.3" y1="-35.95" x2="64.2" y2="-41.5" stroke="#2020B0" stroke-width="1.3"/>
<line x1="64.2" y1="-41.5" x2="65.63" y2="-48.2" stroke="#A4A4A4" stroke-width="1.7"/>
<line x1="65.63" y1="-48.2" x2="71.69" y2="-55.96" stroke="#A4A4A4" stroke-width="1.7"/>
<line x1="71.69" y1="-55.96" x2="77.84" y2="-58.96" stroke="#A4A4A4" stroke-width="1.7"/>
<line x1="77.84" y1="-58.96" x2="76.42" y2="-52.26" stroke="#A4A4A4" stroke-width="1.7"/>
<line x1="76.42" y1="-52.26" x2="70.35" y2="-44.5" stroke="#A4A4A4" stroke-width="1.7"/>
<line x1="70.35" y1="-44.5" x2="64.2" y2="-41.5" stroke="#A4A4A4" stroke-width="1.7"/>
<line x1="85.42" y1="-68.66" x2="86.85" y2="-75.36" stroke="#A4A4A4" stroke-width="1.7"/>
<line x1="86.85" y1="-75.36" x2="93.29" y2="-83.6" stroke="#A4A4A4" stroke-width="1.7"/>
<line x1="93.29" y1="-83.6" x2="100.96" y2="-88.55" stroke="#A4A4A4" stroke-width="1.7"/>
<line x1="100.96" y1="-88.55" x2="98.02" y2="-79.91" stroke="#A4A4A4" stroke-width="1.7"/>
<line x1="98.02" y1="-79.91" x2="91.58" y2="-71.66" stroke="#A4A4A4" stroke-width="1.7"/>
<line x1="91.58" y1="-71.66" x2="85.42" y2="-68.66" stroke="#A4A4A4" stroke-width="1.7"/>
<line x1="77.84" y1="-58.96" x2="85.42" y2="-68.66" stroke="#A4A4A4" stroke-width="1.8"/>
<line x1="100.96" y1="-88.55" x2="103.13" y2="-91.67" stroke="#A4A4A4" stroke-width="1.2"/>
<line x1="103.13" y1="-91.67" x2="105.3" y2="-94.8" stroke="#2020B0" stroke-width="1.2"/>
<circle cx="26.7" cy="-12.7" r="2.6" fill="url(#gCs)" stroke="none" stroke-width="1"/>
<circle cx="20.5" cy="-19.5" r="2.6" fill="url(#gCs)" stroke="none" stroke-width="1"/>
<circle cx="12.3" cy="-30.4" r="2.6" fill="url(#gCs)" stroke="none" stroke-width="1"/>
<circle cx="21.73" cy="-48.31" r="2.5" fill="url(#gCs)" stroke="none" stroke-width="1"/>
<circle cx="28.09" cy="-56.2" r="2.5" fill="url(#gCs)" stroke="none" stroke-width="1"/>
<circle cx="34.39" cy="-59.25" r="2.5" fill="url(#gCs)" stroke="none" stroke-width="1"/>
<circle cx="32.76" cy="-52.44" r="2.5" fill="url(#gCs)" stroke="none" stroke-width="1"/>
<circle cx="26.41" cy="-44.55" r="2.5" fill="url(#gCs)" stroke="none" stroke-width="1"/>
<circle cx="42.33" cy="-69.11" r="2.5" fill="url(#gCs)" stroke="none" stroke-width="1"/>
<circle cx="43.97" cy="-75.92" r="2.5" fill="url(#gCs)" stroke="none" stroke-width="1"/>
<circle cx="50.71" cy="-84.3" r="2.5" fill="url(#gCs)" stroke="none" stroke-width="1"/>
<circle cx="55.39" cy="-80.54" r="2.5" fill="url(#gCs)" stroke="none" stroke-width="1"/>
<circle cx="48.64" cy="-72.16" r="2.5" fill="url(#gCs)" stroke="none" stroke-width="1"/>
<circle cx="58.61" cy="-89.32" r="2.5" fill="url(#gCs)" stroke="none" stroke-width="1"/>
<circle cx="20.1" cy="-41.5" r="2.4" fill="url(#gN)" stroke="none" stroke-width="1"/>
<circle cx="64.2" cy="-93" r="2.3" fill="url(#gN)" stroke="none" stroke-width="1"/>
<circle cx="70.8" cy="-12.7" r="2.6" fill="url(#gCs)" stroke="none" stroke-width="1"/>
<circle cx="64.6" cy="-19.5" r="2.6" fill="url(#gCs)" stroke="none" stroke-width="1"/>
<circle cx="56.4" cy="-30.4" r="2.6" fill="url(#gCs)" stroke="none" stroke-width="1"/>
<circle cx="65.63" cy="-48.2" r="2.5" fill="url(#gCs)" stroke="none" stroke-width="1"/>
<circle cx="71.69" cy="-55.96" r="2.5" fill="url(#gCs)" stroke="none" stroke-width="1"/>
<circle cx="77.84" cy="-58.96" r="2.5" fill="url(#gCs)" stroke="none" stroke-width="1"/>
<circle cx="76.42" cy="-52.26" r="2.5" fill="url(#gCs)" stroke="none" stroke-width="1"/>
<circle cx="70.35" cy="-44.5" r="2.5" fill="url(#gCs)" stroke="none" stroke-width="1"/>
<circle cx="85.42" cy="-68.66" r="2.5" fill="url(#gCs)" stroke="none" stroke-width="1"/>
<circle cx="86.85" cy="-75.36" r="2.5" fill="url(#gCs)" stroke="none" stroke-width="1"/>
<circle cx="93.29" cy="-83.6" r="2.5" fill="url(#gCs)" stroke="none" stroke-width="1"/>
<circle cx="98.02" cy="-79.91" r="2.5" fill="url(#gCs)" stroke="none" stroke-width="1"/>
<circle cx="91.58" cy="-71.66" r="2.5" fill="url(#gCs)" stroke="none" stroke-width="1"/>
<circle cx="100.96" cy="-88.55" r="2.5" fill="url(#gCs)" stroke="none" stroke-width="1"/>
<circle cx="64.2" cy="-41.5" r="2.4" fill="url(#gN)" stroke="none" stroke-width="1"/>
<circle cx="105.3" cy="-94.8" r="2.3" fill="url(#gN)" stroke="none" stroke-width="1"/>
<circle cx="0" cy="-25.2" r="3.2" fill="url(#gI)" stroke="none" stroke-width="1"/>
<circle cx="18.5" cy="19.5" r="3.2" fill="url(#gI)" stroke="none" stroke-width="1"/>
<circle cx="-22.3" cy="5.5" r="3.2" fill="url(#gI)" stroke="none" stroke-width="1"/>
<circle cx="-22.6" cy="-10.7" r="2.6" fill="url(#gO)" stroke="none" stroke-width="1"/>
<circle cx="-5.5" cy="-10.7" r="2.6" fill="url(#gO)" stroke="none" stroke-width="1"/>
<circle cx="44.1" cy="-25.2" r="3.2" fill="url(#gI)" stroke="none" stroke-width="1"/>
<circle cx="62.6" cy="19.5" r="3.2" fill="url(#gI)" stroke="none" stroke-width="1"/>
<circle cx="21.8" cy="5.5" r="3.2" fill="url(#gI)" stroke="none" stroke-width="1"/>
<circle cx="21.5" cy="-10.7" r="2.6" fill="url(#gO)" stroke="none" stroke-width="1"/>
<circle cx="38.6" cy="-10.7" r="2.6" fill="url(#gO)" stroke="none" stroke-width="1"/>
<circle cx="88.2" cy="-25.2" r="3.2" fill="url(#gI)" stroke="none" stroke-width="1"/>
<circle cx="106.7" cy="19.5" r="3.2" fill="url(#gI)" stroke="none" stroke-width="1"/>
<circle cx="65.9" cy="5.5" r="3.2" fill="url(#gI)" stroke="none" stroke-width="1"/>
<circle cx="65.6" cy="-10.7" r="2.6" fill="url(#gO)" stroke="none" stroke-width="1"/>
<circle cx="82.7" cy="-10.7" r="2.6" fill="url(#gO)" stroke="none" stroke-width="1"/>
<circle cx="110.5" cy="5.5" r="3.2" fill="url(#gI)" stroke="none" stroke-width="1"/>
<circle cx="109" cy="-10.7" r="2.6" fill="url(#gO)" stroke="none" stroke-width="1"/>
<circle cx="0" cy="0" r="4.7" fill="url(#gPb)" stroke="none" stroke-width="1"/>
<circle cx="44.1" cy="0" r="4.7" fill="url(#gPb)" stroke="none" stroke-width="1"/>
<circle cx="88.2" cy="0" r="4.7" fill="url(#gPb)" stroke="none" stroke-width="1"/>
<circle cx="65.7" cy="-107.8" r="2.3" fill="url(#gH)" stroke="none" stroke-width="1"/>
<circle cx="77" cy="-104.7" r="2.3" fill="url(#gH)" stroke="none" stroke-width="1"/>
<circle cx="82.1" cy="-118.6" r="2.3" fill="url(#gH)" stroke="none" stroke-width="1"/>
<circle cx="91.3" cy="-117.4" r="2.3" fill="url(#gH)" stroke="none" stroke-width="1"/>
<circle cx="74.5" cy="-111.5" r="4.3" fill="url(#gCb)" stroke="none" stroke-width="1"/>
<circle cx="85.2" cy="-111.5" r="4.3" fill="url(#gCb)" stroke="none" stroke-width="1"/>
</g>
<g transform="translate(1060.6,361.9) scale(1.03)">
<line x1="0" y1="0" x2="0" y2="-12.6" stroke="#2CC8CE" stroke-width="1.4"/>
<line x1="0" y1="-12.6" x2="0" y2="-25.2" stroke="#7A1449" stroke-width="1.4"/>
<line x1="0" y1="0" x2="9.25" y2="9.75" stroke="#2CC8CE" stroke-width="1.4"/>
<line x1="9.25" y1="9.75" x2="18.5" y2="19.5" stroke="#7A1449" stroke-width="1.4"/>
<line x1="0" y1="0" x2="-11.15" y2="2.75" stroke="#2CC8CE" stroke-width="1.4"/>
<line x1="-11.15" y1="2.75" x2="-22.3" y2="5.5" stroke="#7A1449" stroke-width="1.4"/>
<line x1="0" y1="0" x2="11" y2="2.75" stroke="#2CC8CE" stroke-width="1.4"/>
<line x1="11" y1="2.75" x2="22" y2="5.5" stroke="#7A1449" stroke-width="1.4"/>
<line x1="0" y1="0" x2="-11.3" y2="-5.35" stroke="#2CC8CE" stroke-width="1.4"/>
<line x1="-11.3" y1="-5.35" x2="-22.6" y2="-10.7" stroke="#C42E26" stroke-width="1.4"/>
<line x1="0" y1="0" x2="10.75" y2="-5.35" stroke="#2CC8CE" stroke-width="1.4"/>
<line x1="10.75" y1="-5.35" x2="21.5" y2="-10.7" stroke="#C42E26" stroke-width="1.4"/>
<line x1="0" y1="0" x2="-2.75" y2="-5.35" stroke="#2CC8CE" stroke-width="1.4"/>
<line x1="-2.75" y1="-5.35" x2="-5.5" y2="-10.7" stroke="#C42E26" stroke-width="1.4"/>
<line x1="44.1" y1="0" x2="44.1" y2="-12.6" stroke="#2CC8CE" stroke-width="1.4"/>
<line x1="44.1" y1="-12.6" x2="44.1" y2="-25.2" stroke="#7A1449" stroke-width="1.4"/>
<line x1="44.1" y1="0" x2="53.35" y2="9.75" stroke="#2CC8CE" stroke-width="1.4"/>
<line x1="53.35" y1="9.75" x2="62.6" y2="19.5" stroke="#7A1449" stroke-width="1.4"/>
<line x1="44.1" y1="0" x2="32.95" y2="2.75" stroke="#2CC8CE" stroke-width="1.4"/>
<line x1="32.95" y1="2.75" x2="21.8" y2="5.5" stroke="#7A1449" stroke-width="1.4"/>
<line x1="44.1" y1="0" x2="55.1" y2="2.75" stroke="#2CC8CE" stroke-width="1.4"/>
<line x1="55.1" y1="2.75" x2="66.1" y2="5.5" stroke="#7A1449" stroke-width="1.4"/>
<line x1="44.1" y1="0" x2="32.8" y2="-5.35" stroke="#2CC8CE" stroke-width="1.4"/>
<line x1="32.8" y1="-5.35" x2="21.5" y2="-10.7" stroke="#C42E26" stroke-width="1.4"/>
<line x1="44.1" y1="0" x2="54.85" y2="-5.35" stroke="#2CC8CE" stroke-width="1.4"/>
<line x1="54.85" y1="-5.35" x2="65.6" y2="-10.7" stroke="#C42E26" stroke-width="1.4"/>
<line x1="44.1" y1="0" x2="41.35" y2="-5.35" stroke="#2CC8CE" stroke-width="1.4"/>
<line x1="41.35" y1="-5.35" x2="38.6" y2="-10.7" stroke="#C42E26" stroke-width="1.4"/>
<line x1="88.2" y1="0" x2="88.2" y2="-12.6" stroke="#2CC8CE" stroke-width="1.4"/>
<line x1="88.2" y1="-12.6" x2="88.2" y2="-25.2" stroke="#7A1449" stroke-width="1.4"/>
<line x1="88.2" y1="0" x2="97.45" y2="9.75" stroke="#2CC8CE" stroke-width="1.4"/>
<line x1="97.45" y1="9.75" x2="106.7" y2="19.5" stroke="#7A1449" stroke-width="1.4"/>
<line x1="88.2" y1="0" x2="77.05" y2="2.75" stroke="#2CC8CE" stroke-width="1.4"/>
<line x1="77.05" y1="2.75" x2="65.9" y2="5.5" stroke="#7A1449" stroke-width="1.4"/>
<line x1="88.2" y1="0" x2="99.2" y2="2.75" stroke="#2CC8CE" stroke-width="1.4"/>
<line x1="99.2" y1="2.75" x2="110.2" y2="5.5" stroke="#7A1449" stroke-width="1.4"/>
<line x1="88.2" y1="0" x2="76.9" y2="-5.35" stroke="#2CC8CE" stroke-width="1.4"/>
<line x1="76.9" y1="-5.35" x2="65.6" y2="-10.7" stroke="#C42E26" stroke-width="1.4"/>
<line x1="88.2" y1="0" x2="98.95" y2="-5.35" stroke="#2CC8CE" stroke-width="1.4"/>
<line x1="98.95" y1="-5.35" x2="109.7" y2="-10.7" stroke="#C42E26" stroke-width="1.4"/>
<line x1="88.2" y1="0" x2="85.45" y2="-5.35" stroke="#2CC8CE" stroke-width="1.4"/>
<line x1="85.45" y1="-5.35" x2="82.7" y2="-10.7" stroke="#C42E26" stroke-width="1.4"/>
<line x1="32.5" y1="-9.5" x2="26.7" y2="-12.7" stroke="#A4A4A4" stroke-width="1.8"/>
<line x1="26.7" y1="-12.7" x2="20.5" y2="-19.5" stroke="#A4A4A4" stroke-width="1.8"/>
<line x1="20.5" y1="-19.5" x2="12.3" y2="-30.4" stroke="#A4A4A4" stroke-width="1.8"/>
<line x1="12.3" y1="-30.4" x2="16.2" y2="-35.95" stroke="#A4A4A4" stroke-width="1.3"/>
<line x1="16.2" y1="-35.95" x2="20.1" y2="-41.5" stroke="#2020B0" stroke-width="1.3"/>
<line x1="20.1" y1="-41.5" x2="21.71" y2="-48.22" stroke="#A4A4A4" stroke-width="1.7"/>
<line x1="21.71" y1="-48.22" x2="28.01" y2="-55.95" stroke="#A4A4A4" stroke-width="1.7"/>
<line x1="28.01" y1="-55.95" x2="34.27" y2="-58.88" stroke="#A4A4A4" stroke-width="1.7"/>
<line x1="34.27" y1="-58.88" x2="32.66" y2="-52.16" stroke="#A4A4A4" stroke-width="1.7"/>
<line x1="32.66" y1="-52.16" x2="26.36" y2="-44.43" stroke="#A4A4A4" stroke-width="1.7"/>
<line x1="26.36" y1="-44.43" x2="20.1" y2="-41.5" stroke="#A4A4A4" stroke-width="1.7"/>
<line x1="42.14" y1="-68.54" x2="43.76" y2="-75.26" stroke="#A4A4A4" stroke-width="1.7"/>
<line x1="43.76" y1="-75.26" x2="50.45" y2="-83.47" stroke="#A4A4A4" stroke-width="1.7"/>
<line x1="50.45" y1="-83.47" x2="58.28" y2="-88.33" stroke="#A4A4A4" stroke-width="1.7"/>
<line x1="58.28" y1="-88.33" x2="55.1" y2="-79.68" stroke="#A4A4A4" stroke-width="1.7"/>
<line x1="55.1" y1="-79.68" x2="48.41" y2="-71.47" stroke="#A4A4A4" stroke-width="1.7"/>
<line x1="48.41" y1="-71.47" x2="42.14" y2="-68.54" stroke="#A4A4A4" stroke-width="1.7"/>
<line x1="34.27" y1="-58.88" x2="42.14" y2="-68.54" stroke="#A4A4A4" stroke-width="1.8"/>
<line x1="58.28" y1="-88.33" x2="61.07" y2="-90.16" stroke="#A4A4A4" stroke-width="1.2"/>
<line x1="61.07" y1="-90.16" x2="63.86" y2="-91.98" stroke="#2020B0" stroke-width="1.2"/>
<line x1="76.6" y1="-9.5" x2="70.8" y2="-12.7" stroke="#A4A4A4" stroke-width="1.8"/>
<line x1="70.8" y1="-12.7" x2="64.6" y2="-19.5" stroke="#A4A4A4" stroke-width="1.8"/>
<line x1="64.6" y1="-19.5" x2="56.4" y2="-30.4" stroke="#A4A4A4" stroke-width="1.8"/>
<line x1="56.4" y1="-30.4" x2="60.3" y2="-35.95" stroke="#A4A4A4" stroke-width="1.3"/>
<line x1="60.3" y1="-35.95" x2="64.2" y2="-41.5" stroke="#2020B0" stroke-width="1.3"/>
<line x1="64.2" y1="-41.5" x2="65.53" y2="-48.19" stroke="#A4A4A4" stroke-width="1.7"/>
<line x1="65.53" y1="-48.19" x2="71.47" y2="-55.98" stroke="#A4A4A4" stroke-width="1.7"/>
<line x1="71.47" y1="-55.98" x2="77.57" y2="-59.02" stroke="#A4A4A4" stroke-width="1.7"/>
<line x1="77.57" y1="-59.02" x2="76.24" y2="-52.34" stroke="#A4A4A4" stroke-width="1.7"/>
<line x1="76.24" y1="-52.34" x2="70.3" y2="-44.55" stroke="#A4A4A4" stroke-width="1.7"/>
<line x1="70.3" y1="-44.55" x2="64.2" y2="-41.5" stroke="#A4A4A4" stroke-width="1.7"/>
<line x1="85" y1="-68.76" x2="86.33" y2="-75.45" stroke="#A4A4A4" stroke-width="1.7"/>
<line x1="86.33" y1="-75.45" x2="92.64" y2="-83.72" stroke="#A4A4A4" stroke-width="1.7"/>
<line x1="92.64" y1="-83.72" x2="100.23" y2="-88.72" stroke="#A4A4A4" stroke-width="1.7"/>
<line x1="100.23" y1="-88.72" x2="97.41" y2="-80.08" stroke="#A4A4A4" stroke-width="1.7"/>
<line x1="97.41" y1="-80.08" x2="91.1" y2="-71.81" stroke="#A4A4A4" stroke-width="1.7"/>
<line x1="91.1" y1="-71.81" x2="85" y2="-68.76" stroke="#A4A4A4" stroke-width="1.7"/>
<line x1="77.57" y1="-59.02" x2="85" y2="-68.76" stroke="#A4A4A4" stroke-width="1.8"/>
<line x1="100.23" y1="-88.72" x2="102.38" y2="-91.85" stroke="#A4A4A4" stroke-width="1.2"/>
<line x1="102.38" y1="-91.85" x2="104.54" y2="-94.98" stroke="#2020B0" stroke-width="1.2"/>
<circle cx="26.7" cy="-12.7" r="2.6" fill="url(#gCs)" stroke="none" stroke-width="1"/>
<circle cx="20.5" cy="-19.5" r="2.6" fill="url(#gCs)" stroke="none" stroke-width="1"/>
<circle cx="12.3" cy="-30.4" r="2.6" fill="url(#gCs)" stroke="none" stroke-width="1"/>
<circle cx="21.71" cy="-48.22" r="2.5" fill="url(#gCs)" stroke="none" stroke-width="1"/>
<circle cx="28.01" cy="-55.95" r="2.5" fill="url(#gCs)" stroke="none" stroke-width="1"/>
<circle cx="34.27" cy="-58.88" r="2.5" fill="url(#gCs)" stroke="none" stroke-width="1"/>
<circle cx="32.66" cy="-52.16" r="2.5" fill="url(#gCs)" stroke="none" stroke-width="1"/>
<circle cx="26.36" cy="-44.43" r="2.5" fill="url(#gCs)" stroke="none" stroke-width="1"/>
<circle cx="42.14" cy="-68.54" r="2.5" fill="url(#gCs)" stroke="none" stroke-width="1"/>
<circle cx="43.76" cy="-75.26" r="2.5" fill="url(#gCs)" stroke="none" stroke-width="1"/>
<circle cx="50.45" cy="-83.47" r="2.5" fill="url(#gCs)" stroke="none" stroke-width="1"/>
<circle cx="55.1" cy="-79.68" r="2.5" fill="url(#gCs)" stroke="none" stroke-width="1"/>
<circle cx="48.41" cy="-71.47" r="2.5" fill="url(#gCs)" stroke="none" stroke-width="1"/>
<circle cx="58.28" cy="-88.33" r="2.5" fill="url(#gCs)" stroke="none" stroke-width="1"/>
<circle cx="20.1" cy="-41.5" r="2.4" fill="url(#gN)" stroke="none" stroke-width="1"/>
<circle cx="63.86" cy="-91.98" r="2.3" fill="url(#gN)" stroke="none" stroke-width="1"/>
<circle cx="70.8" cy="-12.7" r="2.6" fill="url(#gCs)" stroke="none" stroke-width="1"/>
<circle cx="64.6" cy="-19.5" r="2.6" fill="url(#gCs)" stroke="none" stroke-width="1"/>
<circle cx="56.4" cy="-30.4" r="2.6" fill="url(#gCs)" stroke="none" stroke-width="1"/>
<circle cx="65.53" cy="-48.19" r="2.5" fill="url(#gCs)" stroke="none" stroke-width="1"/>
<circle cx="71.47" cy="-55.98" r="2.5" fill="url(#gCs)" stroke="none" stroke-width="1"/>
<circle cx="77.57" cy="-59.02" r="2.5" fill="url(#gCs)" stroke="none" stroke-width="1"/>
<circle cx="76.24" cy="-52.34" r="2.5" fill="url(#gCs)" stroke="none" stroke-width="1"/>
<circle cx="70.3" cy="-44.55" r="2.5" fill="url(#gCs)" stroke="none" stroke-width="1"/>
<circle cx="85" cy="-68.76" r="2.5" fill="url(#gCs)" stroke="none" stroke-width="1"/>
<circle cx="86.33" cy="-75.45" r="2.5" fill="url(#gCs)" stroke="none" stroke-width="1"/>
<circle cx="92.64" cy="-83.72" r="2.5" fill="url(#gCs)" stroke="none" stroke-width="1"/>
<circle cx="97.41" cy="-80.08" r="2.5" fill="url(#gCs)" stroke="none" stroke-width="1"/>
<circle cx="91.1" cy="-71.81" r="2.5" fill="url(#gCs)" stroke="none" stroke-width="1"/>
<circle cx="100.23" cy="-88.72" r="2.5" fill="url(#gCs)" stroke="none" stroke-width="1"/>
<circle cx="64.2" cy="-41.5" r="2.4" fill="url(#gN)" stroke="none" stroke-width="1"/>
<circle cx="104.54" cy="-94.98" r="2.3" fill="url(#gN)" stroke="none" stroke-width="1"/>
<circle cx="0" cy="-25.2" r="3.2" fill="url(#gI)" stroke="none" stroke-width="1"/>
<circle cx="18.5" cy="19.5" r="3.2" fill="url(#gI)" stroke="none" stroke-width="1"/>
<circle cx="-22.3" cy="5.5" r="3.2" fill="url(#gI)" stroke="none" stroke-width="1"/>
<circle cx="-22.6" cy="-10.7" r="2.6" fill="url(#gO)" stroke="none" stroke-width="1"/>
<circle cx="-5.5" cy="-10.7" r="2.6" fill="url(#gO)" stroke="none" stroke-width="1"/>
<circle cx="44.1" cy="-25.2" r="3.2" fill="url(#gI)" stroke="none" stroke-width="1"/>
<circle cx="62.6" cy="19.5" r="3.2" fill="url(#gI)" stroke="none" stroke-width="1"/>
<circle cx="21.8" cy="5.5" r="3.2" fill="url(#gI)" stroke="none" stroke-width="1"/>
<circle cx="21.5" cy="-10.7" r="2.6" fill="url(#gO)" stroke="none" stroke-width="1"/>
<circle cx="38.6" cy="-10.7" r="2.6" fill="url(#gO)" stroke="none" stroke-width="1"/>
<circle cx="88.2" cy="-25.2" r="3.2" fill="url(#gI)" stroke="none" stroke-width="1"/>
<circle cx="106.7" cy="19.5" r="3.2" fill="url(#gI)" stroke="none" stroke-width="1"/>
<circle cx="65.9" cy="5.5" r="3.2" fill="url(#gI)" stroke="none" stroke-width="1"/>
<circle cx="65.6" cy="-10.7" r="2.6" fill="url(#gO)" stroke="none" stroke-width="1"/>
<circle cx="82.7" cy="-10.7" r="2.6" fill="url(#gO)" stroke="none" stroke-width="1"/>
<circle cx="110.5" cy="5.5" r="3.2" fill="url(#gI)" stroke="none" stroke-width="1"/>
<circle cx="109" cy="-10.7" r="2.6" fill="url(#gO)" stroke="none" stroke-width="1"/>
<circle cx="0" cy="0" r="4.7" fill="url(#gPb)" stroke="none" stroke-width="1"/>
<circle cx="44.1" cy="0" r="4.7" fill="url(#gPb)" stroke="none" stroke-width="1"/>
<circle cx="88.2" cy="0" r="4.7" fill="url(#gPb)" stroke="none" stroke-width="1"/>
<line x1="63.86" y1="-91.98" x2="70.82" y2="-89.81" stroke="#2020B0" stroke-width="1.4"/>
<line x1="70.82" y1="-89.81" x2="77.78" y2="-87.63" stroke="#777777" stroke-width="1.4"/>
<line x1="77.78" y1="-87.63" x2="82.9" y2="-91.59" stroke="#777777" stroke-width="1.4"/>
<line x1="82.9" y1="-91.59" x2="88.02" y2="-95.56" stroke="#777777" stroke-width="1.4"/>
<line x1="104.54" y1="-94.98" x2="96.28" y2="-95.27" stroke="#2020B0" stroke-width="1.4"/>
<line x1="96.28" y1="-95.27" x2="88.02" y2="-95.56" stroke="#777777" stroke-width="1.4"/>
<circle cx="79.32" cy="-79.13" r="2.13" fill="url(#gH)" stroke="none" stroke-width="1"/>
<circle cx="77.78" cy="-87.63" r="4.54" fill="url(#gCb)" stroke="none" stroke-width="1"/>
<circle cx="80.29" cy="-92.66" r="2.13" fill="url(#gH)" stroke="none" stroke-width="1"/>
<circle cx="88.02" cy="-95.56" r="4.54" fill="url(#gCb)" stroke="none" stroke-width="1"/>
<circle cx="86.09" cy="-103.48" r="2.13" fill="url(#gH)" stroke="none" stroke-width="1"/>
</g>
<g transform="translate(1282.7,359) scale(1)">
<line x1="0" y1="0" x2="0" y2="-12.6" stroke="#2CC8CE" stroke-width="1.4"/>
<line x1="0" y1="-12.6" x2="0" y2="-25.2" stroke="#7A1449" stroke-width="1.4"/>
<line x1="0" y1="0" x2="9.25" y2="9.75" stroke="#2CC8CE" stroke-width="1.4"/>
<line x1="9.25" y1="9.75" x2="18.5" y2="19.5" stroke="#7A1449" stroke-width="1.4"/>
<line x1="0" y1="0" x2="-11.15" y2="2.75" stroke="#2CC8CE" stroke-width="1.4"/>
<line x1="-11.15" y1="2.75" x2="-22.3" y2="5.5" stroke="#7A1449" stroke-width="1.4"/>
<line x1="0" y1="0" x2="11" y2="2.75" stroke="#2CC8CE" stroke-width="1.4"/>
<line x1="11" y1="2.75" x2="22" y2="5.5" stroke="#7A1449" stroke-width="1.4"/>
<line x1="0" y1="0" x2="-11.3" y2="-5.35" stroke="#2CC8CE" stroke-width="1.4"/>
<line x1="-11.3" y1="-5.35" x2="-22.6" y2="-10.7" stroke="#C42E26" stroke-width="1.4"/>
<line x1="0" y1="0" x2="10.75" y2="-5.35" stroke="#2CC8CE" stroke-width="1.4"/>
<line x1="10.75" y1="-5.35" x2="21.5" y2="-10.7" stroke="#C42E26" stroke-width="1.4"/>
<line x1="0" y1="0" x2="-2.75" y2="-5.35" stroke="#2CC8CE" stroke-width="1.4"/>
<line x1="-2.75" y1="-5.35" x2="-5.5" y2="-10.7" stroke="#C42E26" stroke-width="1.4"/>
<line x1="44.1" y1="0" x2="44.1" y2="-12.6" stroke="#2CC8CE" stroke-width="1.4"/>
<line x1="44.1" y1="-12.6" x2="44.1" y2="-25.2" stroke="#7A1449" stroke-width="1.4"/>
<line x1="44.1" y1="0" x2="53.35" y2="9.75" stroke="#2CC8CE" stroke-width="1.4"/>
<line x1="53.35" y1="9.75" x2="62.6" y2="19.5" stroke="#7A1449" stroke-width="1.4"/>
<line x1="44.1" y1="0" x2="32.95" y2="2.75" stroke="#2CC8CE" stroke-width="1.4"/>
<line x1="32.95" y1="2.75" x2="21.8" y2="5.5" stroke="#7A1449" stroke-width="1.4"/>
<line x1="44.1" y1="0" x2="55.1" y2="2.75" stroke="#2CC8CE" stroke-width="1.4"/>
<line x1="55.1" y1="2.75" x2="66.1" y2="5.5" stroke="#7A1449" stroke-width="1.4"/>
<line x1="44.1" y1="0" x2="32.8" y2="-5.35" stroke="#2CC8CE" stroke-width="1.4"/>
<line x1="32.8" y1="-5.35" x2="21.5" y2="-10.7" stroke="#C42E26" stroke-width="1.4"/>
<line x1="44.1" y1="0" x2="54.85" y2="-5.35" stroke="#2CC8CE" stroke-width="1.4"/>
<line x1="54.85" y1="-5.35" x2="65.6" y2="-10.7" stroke="#C42E26" stroke-width="1.4"/>
<line x1="44.1" y1="0" x2="41.35" y2="-5.35" stroke="#2CC8CE" stroke-width="1.4"/>
<line x1="41.35" y1="-5.35" x2="38.6" y2="-10.7" stroke="#C42E26" stroke-width="1.4"/>
<line x1="88.2" y1="0" x2="88.2" y2="-12.6" stroke="#2CC8CE" stroke-width="1.4"/>
<line x1="88.2" y1="-12.6" x2="88.2" y2="-25.2" stroke="#7A1449" stroke-width="1.4"/>
<line x1="88.2" y1="0" x2="97.45" y2="9.75" stroke="#2CC8CE" stroke-width="1.4"/>
<line x1="97.45" y1="9.75" x2="106.7" y2="19.5" stroke="#7A1449" stroke-width="1.4"/>
<line x1="88.2" y1="0" x2="77.05" y2="2.75" stroke="#2CC8CE" stroke-width="1.4"/>
<line x1="77.05" y1="2.75" x2="65.9" y2="5.5" stroke="#7A1449" stroke-width="1.4"/>
<line x1="88.2" y1="0" x2="99.2" y2="2.75" stroke="#2CC8CE" stroke-width="1.4"/>
<line x1="99.2" y1="2.75" x2="110.2" y2="5.5" stroke="#7A1449" stroke-width="1.4"/>
<line x1="88.2" y1="0" x2="76.9" y2="-5.35" stroke="#2CC8CE" stroke-width="1.4"/>
<line x1="76.9" y1="-5.35" x2="65.6" y2="-10.7" stroke="#C42E26" stroke-width="1.4"/>
<line x1="88.2" y1="0" x2="98.95" y2="-5.35" stroke="#2CC8CE" stroke-width="1.4"/>
<line x1="98.95" y1="-5.35" x2="109.7" y2="-10.7" stroke="#C42E26" stroke-width="1.4"/>
<line x1="88.2" y1="0" x2="85.45" y2="-5.35" stroke="#2CC8CE" stroke-width="1.4"/>
<line x1="85.45" y1="-5.35" x2="82.7" y2="-10.7" stroke="#C42E26" stroke-width="1.4"/>
<line x1="32.5" y1="-9.5" x2="26.7" y2="-12.7" stroke="#A4A4A4" stroke-width="1.8"/>
<line x1="26.7" y1="-12.7" x2="20.5" y2="-19.5" stroke="#A4A4A4" stroke-width="1.8"/>
<line x1="20.5" y1="-19.5" x2="12.3" y2="-30.4" stroke="#A4A4A4" stroke-width="1.8"/>
<line x1="12.3" y1="-30.4" x2="16.2" y2="-35.95" stroke="#A4A4A4" stroke-width="1.3"/>
<line x1="16.2" y1="-35.95" x2="20.1" y2="-41.5" stroke="#2020B0" stroke-width="1.3"/>
<line x1="20.1" y1="-41.5" x2="21.73" y2="-48.23" stroke="#A4A4A4" stroke-width="1.7"/>
<line x1="21.73" y1="-48.23" x2="28.05" y2="-55.96" stroke="#A4A4A4" stroke-width="1.7"/>
<line x1="28.05" y1="-55.96" x2="34.32" y2="-58.89" stroke="#A4A4A4" stroke-width="1.7"/>
<line x1="34.32" y1="-58.89" x2="32.69" y2="-52.16" stroke="#A4A4A4" stroke-width="1.7"/>
<line x1="32.69" y1="-52.16" x2="26.37" y2="-44.43" stroke="#A4A4A4" stroke-width="1.7"/>
<line x1="26.37" y1="-44.43" x2="20.1" y2="-41.5" stroke="#A4A4A4" stroke-width="1.7"/>
<line x1="42.22" y1="-68.55" x2="43.85" y2="-75.28" stroke="#A4A4A4" stroke-width="1.7"/>
<line x1="43.85" y1="-75.28" x2="50.56" y2="-83.49" stroke="#A4A4A4" stroke-width="1.7"/>
<line x1="50.56" y1="-83.49" x2="58.41" y2="-88.35" stroke="#A4A4A4" stroke-width="1.7"/>
<line x1="58.41" y1="-88.35" x2="55.21" y2="-79.69" stroke="#A4A4A4" stroke-width="1.7"/>
<line x1="55.21" y1="-79.69" x2="48.49" y2="-71.48" stroke="#A4A4A4" stroke-width="1.7"/>
<line x1="48.49" y1="-71.48" x2="42.22" y2="-68.55" stroke="#A4A4A4" stroke-width="1.7"/>
<line x1="34.32" y1="-58.89" x2="42.22" y2="-68.55" stroke="#A4A4A4" stroke-width="1.8"/>
<line x1="58.41" y1="-88.35" x2="61.21" y2="-90.18" stroke="#A4A4A4" stroke-width="1.2"/>
<line x1="61.21" y1="-90.18" x2="64" y2="-92" stroke="#2020B0" stroke-width="1.2"/>
<line x1="76.6" y1="-9.5" x2="70.8" y2="-12.7" stroke="#A4A4A4" stroke-width="1.8"/>
<line x1="70.8" y1="-12.7" x2="64.6" y2="-19.5" stroke="#A4A4A4" stroke-width="1.8"/>
<line x1="64.6" y1="-19.5" x2="56.4" y2="-30.4" stroke="#A4A4A4" stroke-width="1.8"/>
<line x1="56.4" y1="-30.4" x2="60.3" y2="-35.95" stroke="#A4A4A4" stroke-width="1.3"/>
<line x1="60.3" y1="-35.95" x2="64.2" y2="-41.5" stroke="#2020B0" stroke-width="1.3"/>
<line x1="64.2" y1="-41.5" x2="65.53" y2="-48.16" stroke="#A4A4A4" stroke-width="1.7"/>
<line x1="65.53" y1="-48.16" x2="71.47" y2="-55.89" stroke="#A4A4A4" stroke-width="1.7"/>
<line x1="71.47" y1="-55.89" x2="77.56" y2="-58.89" stroke="#A4A4A4" stroke-width="1.7"/>
<line x1="77.56" y1="-58.89" x2="76.23" y2="-52.23" stroke="#A4A4A4" stroke-width="1.7"/>
<line x1="76.23" y1="-52.23" x2="70.29" y2="-44.5" stroke="#A4A4A4" stroke-width="1.7"/>
<line x1="70.29" y1="-44.5" x2="64.2" y2="-41.5" stroke="#A4A4A4" stroke-width="1.7"/>
<line x1="84.98" y1="-68.55" x2="86.31" y2="-75.21" stroke="#A4A4A4" stroke-width="1.7"/>
<line x1="86.31" y1="-75.21" x2="92.61" y2="-83.42" stroke="#A4A4A4" stroke-width="1.7"/>
<line x1="92.61" y1="-83.42" x2="100.19" y2="-88.35" stroke="#A4A4A4" stroke-width="1.7"/>
<line x1="100.19" y1="-88.35" x2="97.37" y2="-79.76" stroke="#A4A4A4" stroke-width="1.7"/>
<line x1="97.37" y1="-79.76" x2="91.07" y2="-71.55" stroke="#A4A4A4" stroke-width="1.7"/>
<line x1="91.07" y1="-71.55" x2="84.98" y2="-68.55" stroke="#A4A4A4" stroke-width="1.7"/>
<line x1="77.56" y1="-58.89" x2="84.98" y2="-68.55" stroke="#A4A4A4" stroke-width="1.8"/>
<line x1="100.19" y1="-88.35" x2="102.34" y2="-91.48" stroke="#A4A4A4" stroke-width="1.2"/>
<line x1="102.34" y1="-91.48" x2="104.5" y2="-94.6" stroke="#2020B0" stroke-width="1.2"/>
<circle cx="26.7" cy="-12.7" r="2.6" fill="url(#gCs)" stroke="none" stroke-width="1"/>
<circle cx="20.5" cy="-19.5" r="2.6" fill="url(#gCs)" stroke="none" stroke-width="1"/>
<circle cx="12.3" cy="-30.4" r="2.6" fill="url(#gCs)" stroke="none" stroke-width="1"/>
<circle cx="21.73" cy="-48.23" r="2.5" fill="url(#gCs)" stroke="none" stroke-width="1"/>
<circle cx="28.05" cy="-55.96" r="2.5" fill="url(#gCs)" stroke="none" stroke-width="1"/>
<circle cx="34.32" cy="-58.89" r="2.5" fill="url(#gCs)" stroke="none" stroke-width="1"/>
<circle cx="32.69" cy="-52.16" r="2.5" fill="url(#gCs)" stroke="none" stroke-width="1"/>
<circle cx="26.37" cy="-44.43" r="2.5" fill="url(#gCs)" stroke="none" stroke-width="1"/>
<circle cx="42.22" cy="-68.55" r="2.5" fill="url(#gCs)" stroke="none" stroke-width="1"/>
<circle cx="43.85" cy="-75.28" r="2.5" fill="url(#gCs)" stroke="none" stroke-width="1"/>
<circle cx="50.56" cy="-83.49" r="2.5" fill="url(#gCs)" stroke="none" stroke-width="1"/>
<circle cx="55.21" cy="-79.69" r="2.5" fill="url(#gCs)" stroke="none" stroke-width="1"/>
<circle cx="48.49" cy="-71.48" r="2.5" fill="url(#gCs)" stroke="none" stroke-width="1"/>
<circle cx="58.41" cy="-88.35" r="2.5" fill="url(#gCs)" stroke="none" stroke-width="1"/>
<circle cx="20.1" cy="-41.5" r="2.4" fill="url(#gN)" stroke="none" stroke-width="1"/>
<circle cx="64" cy="-92" r="2.3" fill="url(#gN)" stroke="none" stroke-width="1"/>
<circle cx="70.8" cy="-12.7" r="2.6" fill="url(#gCs)" stroke="none" stroke-width="1"/>
<circle cx="64.6" cy="-19.5" r="2.6" fill="url(#gCs)" stroke="none" stroke-width="1"/>
<circle cx="56.4" cy="-30.4" r="2.6" fill="url(#gCs)" stroke="none" stroke-width="1"/>
<circle cx="65.53" cy="-48.16" r="2.5" fill="url(#gCs)" stroke="none" stroke-width="1"/>
<circle cx="71.47" cy="-55.89" r="2.5" fill="url(#gCs)" stroke="none" stroke-width="1"/>
<circle cx="77.56" cy="-58.89" r="2.5" fill="url(#gCs)" stroke="none" stroke-width="1"/>
<circle cx="76.23" cy="-52.23" r="2.5" fill="url(#gCs)" stroke="none" stroke-width="1"/>
<circle cx="70.29" cy="-44.5" r="2.5" fill="url(#gCs)" stroke="none" stroke-width="1"/>
<circle cx="84.98" cy="-68.55" r="2.5" fill="url(#gCs)" stroke="none" stroke-width="1"/>
<circle cx="86.31" cy="-75.21" r="2.5" fill="url(#gCs)" stroke="none" stroke-width="1"/>
<circle cx="92.61" cy="-83.42" r="2.5" fill="url(#gCs)" stroke="none" stroke-width="1"/>
<circle cx="97.37" cy="-79.76" r="2.5" fill="url(#gCs)" stroke="none" stroke-width="1"/>
<circle cx="91.07" cy="-71.55" r="2.5" fill="url(#gCs)" stroke="none" stroke-width="1"/>
<circle cx="100.19" cy="-88.35" r="2.5" fill="url(#gCs)" stroke="none" stroke-width="1"/>
<circle cx="64.2" cy="-41.5" r="2.4" fill="url(#gN)" stroke="none" stroke-width="1"/>
<circle cx="104.5" cy="-94.6" r="2.3" fill="url(#gN)" stroke="none" stroke-width="1"/>
<circle cx="0" cy="-25.2" r="3.2" fill="url(#gI)" stroke="none" stroke-width="1"/>
<circle cx="18.5" cy="19.5" r="3.2" fill="url(#gI)" stroke="none" stroke-width="1"/>
<circle cx="-22.3" cy="5.5" r="3.2" fill="url(#gI)" stroke="none" stroke-width="1"/>
<circle cx="-22.6" cy="-10.7" r="2.6" fill="url(#gO)" stroke="none" stroke-width="1"/>
<circle cx="-5.5" cy="-10.7" r="2.6" fill="url(#gO)" stroke="none" stroke-width="1"/>
<circle cx="44.1" cy="-25.2" r="3.2" fill="url(#gI)" stroke="none" stroke-width="1"/>
<circle cx="62.6" cy="19.5" r="3.2" fill="url(#gI)" stroke="none" stroke-width="1"/>
<circle cx="21.8" cy="5.5" r="3.2" fill="url(#gI)" stroke="none" stroke-width="1"/>
<circle cx="21.5" cy="-10.7" r="2.6" fill="url(#gO)" stroke="none" stroke-width="1"/>
<circle cx="38.6" cy="-10.7" r="2.6" fill="url(#gO)" stroke="none" stroke-width="1"/>
<circle cx="88.2" cy="-25.2" r="3.2" fill="url(#gI)" stroke="none" stroke-width="1"/>
<circle cx="106.7" cy="19.5" r="3.2" fill="url(#gI)" stroke="none" stroke-width="1"/>
<circle cx="65.9" cy="5.5" r="3.2" fill="url(#gI)" stroke="none" stroke-width="1"/>
<circle cx="65.6" cy="-10.7" r="2.6" fill="url(#gO)" stroke="none" stroke-width="1"/>
<circle cx="82.7" cy="-10.7" r="2.6" fill="url(#gO)" stroke="none" stroke-width="1"/>
<circle cx="110.5" cy="5.5" r="3.2" fill="url(#gI)" stroke="none" stroke-width="1"/>
<circle cx="109" cy="-10.7" r="2.6" fill="url(#gO)" stroke="none" stroke-width="1"/>
<circle cx="0" cy="0" r="4.7" fill="url(#gPb)" stroke="none" stroke-width="1"/>
<circle cx="44.1" cy="0" r="4.7" fill="url(#gPb)" stroke="none" stroke-width="1"/>
<circle cx="88.2" cy="0" r="4.7" fill="url(#gPb)" stroke="none" stroke-width="1"/>
<line x1="64" y1="-92" x2="71" y2="-89.6" stroke="#2020B0" stroke-width="1.4"/>
<line x1="71" y1="-89.6" x2="78" y2="-87.2" stroke="#777777" stroke-width="1.4"/>
<line x1="78" y1="-87.2" x2="83.15" y2="-91.3" stroke="#777777" stroke-width="1.4"/>
<line x1="83.15" y1="-91.3" x2="88.3" y2="-95.4" stroke="#777777" stroke-width="1.4"/>
<line x1="104.5" y1="-94.6" x2="96.4" y2="-95" stroke="#2020B0" stroke-width="1.4"/>
<line x1="96.4" y1="-95" x2="88.3" y2="-95.4" stroke="#777777" stroke-width="1.4"/>
<circle cx="74.3" cy="-78.2" r="2.3" fill="url(#gCs)" stroke="none" stroke-width="1"/>
<circle cx="78" cy="-87.2" r="4.7" fill="url(#gCb)" stroke="none" stroke-width="1"/>
<circle cx="88.3" cy="-95.4" r="4.7" fill="url(#gCb)" stroke="none" stroke-width="1"/>
</g>
<g transform="translate(1483.1,364.3) scale(1)">
<line x1="0" y1="0" x2="0" y2="-12.6" stroke="#2CC8CE" stroke-width="1.4"/>
<line x1="0" y1="-12.6" x2="0" y2="-25.2" stroke="#7A1449" stroke-width="1.4"/>
<line x1="0" y1="0" x2="9.25" y2="9.75" stroke="#2CC8CE" stroke-width="1.4"/>
<line x1="9.25" y1="9.75" x2="18.5" y2="19.5" stroke="#7A1449" stroke-width="1.4"/>
<line x1="0" y1="0" x2="-11.15" y2="2.75" stroke="#2CC8CE" stroke-width="1.4"/>
<line x1="-11.15" y1="2.75" x2="-22.3" y2="5.5" stroke="#7A1449" stroke-width="1.4"/>
<line x1="0" y1="0" x2="11" y2="2.75" stroke="#2CC8CE" stroke-width="1.4"/>
<line x1="11" y1="2.75" x2="22" y2="5.5" stroke="#7A1449" stroke-width="1.4"/>
<line x1="0" y1="0" x2="-11.3" y2="-5.35" stroke="#2CC8CE" stroke-width="1.4"/>
<line x1="-11.3" y1="-5.35" x2="-22.6" y2="-10.7" stroke="#C42E26" stroke-width="1.4"/>
<line x1="0" y1="0" x2="10.75" y2="-5.35" stroke="#2CC8CE" stroke-width="1.4"/>
<line x1="10.75" y1="-5.35" x2="21.5" y2="-10.7" stroke="#C42E26" stroke-width="1.4"/>
<line x1="0" y1="0" x2="-2.75" y2="-5.35" stroke="#2CC8CE" stroke-width="1.4"/>
<line x1="-2.75" y1="-5.35" x2="-5.5" y2="-10.7" stroke="#C42E26" stroke-width="1.4"/>
<line x1="44.1" y1="0" x2="44.1" y2="-12.6" stroke="#2CC8CE" stroke-width="1.4"/>
<line x1="44.1" y1="-12.6" x2="44.1" y2="-25.2" stroke="#7A1449" stroke-width="1.4"/>
<line x1="44.1" y1="0" x2="53.35" y2="9.75" stroke="#2CC8CE" stroke-width="1.4"/>
<line x1="53.35" y1="9.75" x2="62.6" y2="19.5" stroke="#7A1449" stroke-width="1.4"/>
<line x1="44.1" y1="0" x2="32.95" y2="2.75" stroke="#2CC8CE" stroke-width="1.4"/>
<line x1="32.95" y1="2.75" x2="21.8" y2="5.5" stroke="#7A1449" stroke-width="1.4"/>
<line x1="44.1" y1="0" x2="55.1" y2="2.75" stroke="#2CC8CE" stroke-width="1.4"/>
<line x1="55.1" y1="2.75" x2="66.1" y2="5.5" stroke="#7A1449" stroke-width="1.4"/>
<line x1="44.1" y1="0" x2="32.8" y2="-5.35" stroke="#2CC8CE" stroke-width="1.4"/>
<line x1="32.8" y1="-5.35" x2="21.5" y2="-10.7" stroke="#C42E26" stroke-width="1.4"/>
<line x1="44.1" y1="0" x2="54.85" y2="-5.35" stroke="#2CC8CE" stroke-width="1.4"/>
<line x1="54.85" y1="-5.35" x2="65.6" y2="-10.7" stroke="#C42E26" stroke-width="1.4"/>
<line x1="44.1" y1="0" x2="41.35" y2="-5.35" stroke="#2CC8CE" stroke-width="1.4"/>
<line x1="41.35" y1="-5.35" x2="38.6" y2="-10.7" stroke="#C42E26" stroke-width="1.4"/>
<line x1="88.2" y1="0" x2="88.2" y2="-12.6" stroke="#2CC8CE" stroke-width="1.4"/>
<line x1="88.2" y1="-12.6" x2="88.2" y2="-25.2" stroke="#7A1449" stroke-width="1.4"/>
<line x1="88.2" y1="0" x2="97.45" y2="9.75" stroke="#2CC8CE" stroke-width="1.4"/>
<line x1="97.45" y1="9.75" x2="106.7" y2="19.5" stroke="#7A1449" stroke-width="1.4"/>
<line x1="88.2" y1="0" x2="77.05" y2="2.75" stroke="#2CC8CE" stroke-width="1.4"/>
<line x1="77.05" y1="2.75" x2="65.9" y2="5.5" stroke="#7A1449" stroke-width="1.4"/>
<line x1="88.2" y1="0" x2="99.2" y2="2.75" stroke="#2CC8CE" stroke-width="1.4"/>
<line x1="99.2" y1="2.75" x2="110.2" y2="5.5" stroke="#7A1449" stroke-width="1.4"/>
<line x1="88.2" y1="0" x2="76.9" y2="-5.35" stroke="#2CC8CE" stroke-width="1.4"/>
<line x1="76.9" y1="-5.35" x2="65.6" y2="-10.7" stroke="#C42E26" stroke-width="1.4"/>
<line x1="88.2" y1="0" x2="98.95" y2="-5.35" stroke="#2CC8CE" stroke-width="1.4"/>
<line x1="98.95" y1="-5.35" x2="109.7" y2="-10.7" stroke="#C42E26" stroke-width="1.4"/>
<line x1="88.2" y1="0" x2="85.45" y2="-5.35" stroke="#2CC8CE" stroke-width="1.4"/>
<line x1="85.45" y1="-5.35" x2="82.7" y2="-10.7" stroke="#C42E26" stroke-width="1.4"/>
<line x1="32.5" y1="-9.5" x2="26.7" y2="-12.7" stroke="#A4A4A4" stroke-width="1.8"/>
<line x1="26.7" y1="-12.7" x2="20.5" y2="-19.5" stroke="#A4A4A4" stroke-width="1.8"/>
<line x1="20.5" y1="-19.5" x2="12.3" y2="-30.4" stroke="#A4A4A4" stroke-width="1.8"/>
<line x1="12.3" y1="-30.4" x2="16.2" y2="-35.95" stroke="#A4A4A4" stroke-width="1.3"/>
<line x1="16.2" y1="-35.95" x2="20.1" y2="-41.5" stroke="#2020B0" stroke-width="1.3"/>
<line x1="20.1" y1="-41.5" x2="21.64" y2="-48.19" stroke="#A4A4A4" stroke-width="1.7"/>
<line x1="21.64" y1="-48.19" x2="27.85" y2="-55.89" stroke="#A4A4A4" stroke-width="1.7"/>
<line x1="27.85" y1="-55.89" x2="34.07" y2="-58.82" stroke="#A4A4A4" stroke-width="1.7"/>
<line x1="34.07" y1="-58.82" x2="32.52" y2="-52.12" stroke="#A4A4A4" stroke-width="1.7"/>
<line x1="32.52" y1="-52.12" x2="26.32" y2="-44.43" stroke="#A4A4A4" stroke-width="1.7"/>
<line x1="26.32" y1="-44.43" x2="20.1" y2="-41.5" stroke="#A4A4A4" stroke-width="1.7"/>
<line x1="41.83" y1="-68.44" x2="43.37" y2="-75.13" stroke="#A4A4A4" stroke-width="1.7"/>
<line x1="43.37" y1="-75.13" x2="49.97" y2="-83.31" stroke="#A4A4A4" stroke-width="1.7"/>
<line x1="49.97" y1="-83.31" x2="57.74" y2="-88.16" stroke="#A4A4A4" stroke-width="1.7"/>
<line x1="57.74" y1="-88.16" x2="54.64" y2="-79.54" stroke="#A4A4A4" stroke-width="1.7"/>
<line x1="54.64" y1="-79.54" x2="48.04" y2="-71.36" stroke="#A4A4A4" stroke-width="1.7"/>
<line x1="48.04" y1="-71.36" x2="41.83" y2="-68.44" stroke="#A4A4A4" stroke-width="1.7"/>
<line x1="34.07" y1="-58.82" x2="41.83" y2="-68.44" stroke="#A4A4A4" stroke-width="1.8"/>
<line x1="57.74" y1="-88.16" x2="60.52" y2="-89.98" stroke="#A4A4A4" stroke-width="1.2"/>
<line x1="60.52" y1="-89.98" x2="63.3" y2="-91.8" stroke="#2020B0" stroke-width="1.2"/>
<line x1="76.6" y1="-9.5" x2="70.8" y2="-12.7" stroke="#A4A4A4" stroke-width="1.8"/>
<line x1="70.8" y1="-12.7" x2="64.6" y2="-19.5" stroke="#A4A4A4" stroke-width="1.8"/>
<line x1="64.6" y1="-19.5" x2="56.4" y2="-30.4" stroke="#A4A4A4" stroke-width="1.8"/>
<line x1="56.4" y1="-30.4" x2="60.3" y2="-35.95" stroke="#A4A4A4" stroke-width="1.3"/>
<line x1="60.3" y1="-35.95" x2="64.2" y2="-41.5" stroke="#2020B0" stroke-width="1.3"/>
<line x1="64.2" y1="-41.5" x2="65.45" y2="-48.05" stroke="#A4A4A4" stroke-width="1.7"/>
<line x1="65.45" y1="-48.05" x2="71.26" y2="-55.6" stroke="#A4A4A4" stroke-width="1.7"/>
<line x1="71.26" y1="-55.6" x2="77.27" y2="-58.49" stroke="#A4A4A4" stroke-width="1.7"/>
<line x1="77.27" y1="-58.49" x2="76.02" y2="-51.94" stroke="#A4A4A4" stroke-width="1.7"/>
<line x1="76.02" y1="-51.94" x2="70.21" y2="-44.39" stroke="#A4A4A4" stroke-width="1.7"/>
<line x1="70.21" y1="-44.39" x2="64.2" y2="-41.5" stroke="#A4A4A4" stroke-width="1.7"/>
<line x1="84.53" y1="-67.93" x2="85.78" y2="-74.48" stroke="#A4A4A4" stroke-width="1.7"/>
<line x1="85.78" y1="-74.48" x2="91.95" y2="-82.5" stroke="#A4A4A4" stroke-width="1.7"/>
<line x1="91.95" y1="-82.5" x2="99.41" y2="-87.28" stroke="#A4A4A4" stroke-width="1.7"/>
<line x1="99.41" y1="-87.28" x2="96.71" y2="-78.85" stroke="#A4A4A4" stroke-width="1.7"/>
<line x1="96.71" y1="-78.85" x2="90.54" y2="-70.82" stroke="#A4A4A4" stroke-width="1.7"/>
<line x1="90.54" y1="-70.82" x2="84.53" y2="-67.93" stroke="#A4A4A4" stroke-width="1.7"/>
<line x1="77.27" y1="-58.49" x2="84.53" y2="-67.93" stroke="#A4A4A4" stroke-width="1.8"/>
<line x1="99.41" y1="-87.28" x2="101.56" y2="-90.39" stroke="#A4A4A4" stroke-width="1.2"/>
<line x1="101.56" y1="-90.39" x2="103.7" y2="-93.5" stroke="#2020B0" stroke-width="1.2"/>
<circle cx="26.7" cy="-12.7" r="2.6" fill="url(#gCs)" stroke="none" stroke-width="1"/>
<circle cx="20.5" cy="-19.5" r="2.6" fill="url(#gCs)" stroke="none" stroke-width="1"/>
<circle cx="12.3" cy="-30.4" r="2.6" fill="url(#gCs)" stroke="none" stroke-width="1"/>
<circle cx="21.64" cy="-48.19" r="2.5" fill="url(#gCs)" stroke="none" stroke-width="1"/>
<circle cx="27.85" cy="-55.89" r="2.5" fill="url(#gCs)" stroke="none" stroke-width="1"/>
<circle cx="34.07" cy="-58.82" r="2.5" fill="url(#gCs)" stroke="none" stroke-width="1"/>
<circle cx="32.52" cy="-52.12" r="2.5" fill="url(#gCs)" stroke="none" stroke-width="1"/>
<circle cx="26.32" cy="-44.43" r="2.5" fill="url(#gCs)" stroke="none" stroke-width="1"/>
<circle cx="41.83" cy="-68.44" r="2.5" fill="url(#gCs)" stroke="none" stroke-width="1"/>
<circle cx="43.37" cy="-75.13" r="2.5" fill="url(#gCs)" stroke="none" stroke-width="1"/>
<circle cx="49.97" cy="-83.31" r="2.5" fill="url(#gCs)" stroke="none" stroke-width="1"/>
<circle cx="54.64" cy="-79.54" r="2.5" fill="url(#gCs)" stroke="none" stroke-width="1"/>
<circle cx="48.04" cy="-71.36" r="2.5" fill="url(#gCs)" stroke="none" stroke-width="1"/>
<circle cx="57.74" cy="-88.16" r="2.5" fill="url(#gCs)" stroke="none" stroke-width="1"/>
<circle cx="20.1" cy="-41.5" r="2.4" fill="url(#gN)" stroke="none" stroke-width="1"/>
<circle cx="63.3" cy="-91.8" r="2.3" fill="url(#gN)" stroke="none" stroke-width="1"/>
<circle cx="70.8" cy="-12.7" r="2.6" fill="url(#gCs)" stroke="none" stroke-width="1"/>
<circle cx="64.6" cy="-19.5" r="2.6" fill="url(#gCs)" stroke="none" stroke-width="1"/>
<circle cx="56.4" cy="-30.4" r="2.6" fill="url(#gCs)" stroke="none" stroke-width="1"/>
<circle cx="65.45" cy="-48.05" r="2.5" fill="url(#gCs)" stroke="none" stroke-width="1"/>
<circle cx="71.26" cy="-55.6" r="2.5" fill="url(#gCs)" stroke="none" stroke-width="1"/>
<circle cx="77.27" cy="-58.49" r="2.5" fill="url(#gCs)" stroke="none" stroke-width="1"/>
<circle cx="76.02" cy="-51.94" r="2.5" fill="url(#gCs)" stroke="none" stroke-width="1"/>
<circle cx="70.21" cy="-44.39" r="2.5" fill="url(#gCs)" stroke="none" stroke-width="1"/>
<circle cx="84.53" cy="-67.93" r="2.5" fill="url(#gCs)" stroke="none" stroke-width="1"/>
<circle cx="85.78" cy="-74.48" r="2.5" fill="url(#gCs)" stroke="none" stroke-width="1"/>
<circle cx="91.95" cy="-82.5" r="2.5" fill="url(#gCs)" stroke="none" stroke-width="1"/>
<circle cx="96.71" cy="-78.85" r="2.5" fill="url(#gCs)" stroke="none" stroke-width="1"/>
<circle cx="90.54" cy="-70.82" r="2.5" fill="url(#gCs)" stroke="none" stroke-width="1"/>
<circle cx="99.41" cy="-87.28" r="2.5" fill="url(#gCs)" stroke="none" stroke-width="1"/>
<circle cx="64.2" cy="-41.5" r="2.4" fill="url(#gN)" stroke="none" stroke-width="1"/>
<circle cx="103.7" cy="-93.5" r="2.3" fill="url(#gN)" stroke="none" stroke-width="1"/>
<circle cx="0" cy="-25.2" r="3.2" fill="url(#gI)" stroke="none" stroke-width="1"/>
<circle cx="18.5" cy="19.5" r="3.2" fill="url(#gI)" stroke="none" stroke-width="1"/>
<circle cx="-22.3" cy="5.5" r="3.2" fill="url(#gI)" stroke="none" stroke-width="1"/>
<circle cx="-22.6" cy="-10.7" r="2.6" fill="url(#gO)" stroke="none" stroke-width="1"/>
<circle cx="-5.5" cy="-10.7" r="2.6" fill="url(#gO)" stroke="none" stroke-width="1"/>
<circle cx="44.1" cy="-25.2" r="3.2" fill="url(#gI)" stroke="none" stroke-width="1"/>
<circle cx="62.6" cy="19.5" r="3.2" fill="url(#gI)" stroke="none" stroke-width="1"/>
<circle cx="21.8" cy="5.5" r="3.2" fill="url(#gI)" stroke="none" stroke-width="1"/>
<circle cx="21.5" cy="-10.7" r="2.6" fill="url(#gO)" stroke="none" stroke-width="1"/>
<circle cx="38.6" cy="-10.7" r="2.6" fill="url(#gO)" stroke="none" stroke-width="1"/>
<circle cx="88.2" cy="-25.2" r="3.2" fill="url(#gI)" stroke="none" stroke-width="1"/>
<circle cx="106.7" cy="19.5" r="3.2" fill="url(#gI)" stroke="none" stroke-width="1"/>
<circle cx="65.9" cy="5.5" r="3.2" fill="url(#gI)" stroke="none" stroke-width="1"/>
<circle cx="65.6" cy="-10.7" r="2.6" fill="url(#gO)" stroke="none" stroke-width="1"/>
<circle cx="82.7" cy="-10.7" r="2.6" fill="url(#gO)" stroke="none" stroke-width="1"/>
<circle cx="110.5" cy="5.5" r="3.2" fill="url(#gI)" stroke="none" stroke-width="1"/>
<circle cx="109" cy="-10.7" r="2.6" fill="url(#gO)" stroke="none" stroke-width="1"/>
<circle cx="0" cy="0" r="4.7" fill="url(#gPb)" stroke="none" stroke-width="1"/>
<circle cx="44.1" cy="0" r="4.7" fill="url(#gPb)" stroke="none" stroke-width="1"/>
<circle cx="88.2" cy="0" r="4.7" fill="url(#gPb)" stroke="none" stroke-width="1"/>
<line x1="63.3" y1="-91.8" x2="70.35" y2="-89.3" stroke="#2020B0" stroke-width="1.4"/>
<line x1="70.35" y1="-89.3" x2="77.4" y2="-86.8" stroke="#777777" stroke-width="1.4"/>
<line x1="77.4" y1="-86.8" x2="83.1" y2="-90.35" stroke="#777777" stroke-width="1.4"/>
<line x1="83.1" y1="-90.35" x2="88.8" y2="-93.9" stroke="#777777" stroke-width="1.4"/>
<line x1="88.8" y1="-93.9" x2="88.8" y2="-100.4" stroke="#777777" stroke-width="1.4"/>
<line x1="88.8" y1="-100.4" x2="88.8" y2="-106.9" stroke="#D02018" stroke-width="1.4"/>
<line x1="103.7" y1="-93.5" x2="96.25" y2="-93.7" stroke="#2020B0" stroke-width="1.4"/>
<line x1="96.25" y1="-93.7" x2="88.8" y2="-93.9" stroke="#777777" stroke-width="1.4"/>
<circle cx="73.1" cy="-76.7" r="2.3" fill="url(#gCs)" stroke="none" stroke-width="1"/>
<circle cx="77.4" cy="-86.8" r="4.7" fill="url(#gCb)" stroke="none" stroke-width="1"/>
<circle cx="88.8" cy="-93.9" r="4.7" fill="url(#gCb)" stroke="none" stroke-width="1"/>
<circle cx="88.8" cy="-106.9" r="4.1" fill="url(#gOb)" stroke="none" stroke-width="1"/>
<circle cx="86.6" cy="-108.6" r="2.6" fill="url(#gH)" stroke="none" stroke-width="1"/>
</g>
<line x1="923.1" y1="251.7" x2="923.1" y2="236.9" stroke="#B01818" stroke-width="1.6"/>
<polygon points="923.1,229.9 919.8,238.9 926.4,238.9" fill="#B01818" stroke="none" stroke-width="1"/>
<line x1="949.2" y1="132.2" x2="1037.9" y2="132.2" stroke="#4A78BE" stroke-width="1.45"/>
<polygon points="1044.4,132.2 1036.9,135.6 1036.9,128.8" fill="#4A78BE" stroke="none" stroke-width="1"/>
<line x1="1182" y1="132.2" x2="1239.9" y2="132.2" stroke="#4A78BE" stroke-width="1.45"/>
<polygon points="1246.4,132.2 1238.9,135.6 1238.9,128.8" fill="#4A78BE" stroke="none" stroke-width="1"/>
<line x1="1398.9" y1="132.2" x2="1459" y2="132.2" stroke="#4A78BE" stroke-width="1.45"/>
<polygon points="1465.5,132.2 1458,135.6 1458,128.8" fill="#4A78BE" stroke="none" stroke-width="1"/>
<line x1="1542" y1="197" x2="1542" y2="252.3" stroke="#4A78BE" stroke-width="1.45"/>
<polygon points="1542,258.8 1538.6,251.3 1545.4,251.3" fill="#4A78BE" stroke="none" stroke-width="1"/>
<line x1="1461" y1="346.8" x2="1401.5" y2="346.8" stroke="#4A78BE" stroke-width="1.45"/>
<polygon points="1395,346.8 1402.5,343.4 1402.5,350.2" fill="#4A78BE" stroke="none" stroke-width="1"/>
<line x1="1246.4" y1="350.6" x2="1188.5" y2="350.6" stroke="#4A78BE" stroke-width="1.45"/>
<polygon points="1182,350.6 1189.5,347.2 1189.5,354" fill="#4A78BE" stroke="none" stroke-width="1"/>
<line x1="1031.7" y1="355" x2="957.3" y2="355" stroke="#4A78BE" stroke-width="1.45"/>
<polygon points="950.8,355 958.3,351.6 958.3,358.4" fill="#4A78BE" stroke="none" stroke-width="1"/>
<text transform="translate(995.2,123.6) scale(0.97,1)" font-size="26" fill="#B3211E" text-anchor="middle" font-weight="normal" font-style="normal"><tspan>C-C coupling</tspan></text>
<text transform="translate(1217.5,127.6) scale(0.97,1)" font-size="26" fill="#000" text-anchor="middle" font-weight="normal" font-style="normal"><tspan>H</tspan><tspan dy="-9.36" font-size="17.16">+</tspan><tspan dy="9.36">+e</tspan><tspan dy="-9.36" font-size="17.16">-</tspan></text>
<text transform="translate(1431.5,127.6) scale(0.97,1)" font-size="26" fill="#000" text-anchor="middle" font-weight="normal" font-style="normal"><tspan>H</tspan><tspan dy="-9.36" font-size="17.16">+</tspan><tspan dy="9.36">+e</tspan><tspan dy="-9.36" font-size="17.16">-</tspan></text>
<text transform="translate(1549,241) scale(0.97,1)" font-size="26" fill="#000" text-anchor="start" font-weight="normal" font-style="normal"><tspan>2 (H</tspan><tspan dy="-9.36" font-size="17.16">+</tspan><tspan dy="9.36">+e</tspan><tspan dy="-9.36" font-size="17.16">-</tspan><tspan dy="9.36">)</tspan></text>
<text transform="translate(1427.5,340.2) scale(0.97,1)" font-size="26" fill="#000" text-anchor="middle" font-weight="normal" font-style="normal"><tspan>H</tspan><tspan dy="-9.36" font-size="17.16">+</tspan><tspan dy="9.36">+e</tspan><tspan dy="-9.36" font-size="17.16">-</tspan></text>
<text transform="translate(1217.5,346.8) scale(0.97,1)" font-size="26" fill="#000" text-anchor="middle" font-weight="normal" font-style="normal"><tspan>H</tspan><tspan dy="-9.36" font-size="17.16">+</tspan><tspan dy="9.36">+e</tspan><tspan dy="-9.36" font-size="17.16">-</tspan></text>
<text transform="translate(989.5,349.5) scale(0.97,1)" font-size="26" fill="#000" text-anchor="middle" font-weight="normal" font-style="normal"><tspan>H</tspan><tspan dy="-9.36" font-size="17.16">+</tspan><tspan dy="9.36">+e</tspan><tspan dy="-9.36" font-size="17.16">-</tspan></text>
<text transform="translate(879.7,200.5) scale(0.97,1)" font-size="26" fill="#000" text-anchor="middle" font-weight="normal" font-style="normal"><tspan>2*CO</tspan></text>
<text transform="translate(1119.8,200.5) scale(0.97,1)" font-size="26" fill="#000" text-anchor="middle" font-weight="normal" font-style="normal"><tspan>*COCO</tspan></text>
<text transform="translate(1334.4,199.5) scale(0.97,1)" font-size="26" fill="#000" text-anchor="middle" font-weight="normal" font-style="normal"><tspan>*COCOH</tspan></text>
<text transform="translate(1551,200.9) scale(0.97,1)" font-size="26" fill="#000" text-anchor="middle" font-weight="normal" font-style="normal"><tspan>*CCO</tspan></text>
<text transform="translate(872,410.2) scale(0.97,1)" font-size="26" fill="#000" text-anchor="middle" font-weight="normal" font-style="normal"><tspan>C</tspan><tspan dy="6.76" font-size="17.16">2</tspan><tspan dy="-6.76">H</tspan><tspan dy="6.76" font-size="17.16">4</tspan></text>
<text transform="translate(1119.5,410.2) scale(0.97,1)" font-size="26" fill="#000" text-anchor="middle" font-weight="normal" font-style="normal"><tspan>*CHCH</tspan><tspan dy="6.76" font-size="17.16">2</tspan></text>
<text transform="translate(1331.9,412.3) scale(0.97,1)" font-size="26" fill="#000" text-anchor="middle" font-weight="normal" font-style="normal"><tspan>*CCH</tspan></text>
<text transform="translate(1536.7,410.1) scale(0.97,1)" font-size="26" fill="#000" text-anchor="middle" font-weight="normal" font-style="normal"><tspan>*CHCOH</tspan></text>
<text x="745.2" y="32.2" font-size="30" fill="#000">c<tspan dx="2">)</tspan></text>
</g>
<defs>
<linearGradient id="dBg" gradientUnits="userSpaceOnUse" x1="772" y1="0" x2="1628" y2="0">
<stop offset="0" stop-color="#FFFFFF"/><stop offset="0.07" stop-color="#FAFCF8"/><stop offset="0.13" stop-color="#F5F8F2"/><stop offset="0.21" stop-color="#EFF5EB"/>
<stop offset="0.33" stop-color="#EDF4E8"/><stop offset="0.425" stop-color="#F3F7EF"/><stop offset="0.545" stop-color="#E2EDD9"/>
<stop offset="0.64" stop-color="#E5EFDD"/><stop offset="0.80" stop-color="#E9F1E3"/><stop offset="0.88" stop-color="#EDF4E8"/><stop offset="0.945" stop-color="#F6F9F3"/><stop offset="1" stop-color="#FFFFFF"/>
</linearGradient>
<linearGradient id="dBand" gradientUnits="userSpaceOnUse" x1="788" y1="0" x2="1646" y2="0">
<stop offset="0" stop-color="#FCE4D5"/><stop offset="0.09" stop-color="#F9CFB6"/><stop offset="0.2" stop-color="#F6B892"/>
<stop offset="0.31" stop-color="#F5AB81"/><stop offset="0.775" stop-color="#F5AA80"/><stop offset="0.825" stop-color="#F9CBB1"/><stop offset="0.9" stop-color="#FADBCA"/><stop offset="1" stop-color="#FCE9DE"/>
</linearGradient>
<radialGradient id="dGlow" cx="0.5" cy="0.5" r="0.5"><stop offset="0" stop-color="#F06A6A" stop-opacity="1"/><stop offset="0.72" stop-color="#F58C8C" stop-opacity="0.85"/><stop offset="0.88" stop-color="#F9B0B0" stop-opacity="0.5"/><stop offset="1" stop-color="#FFD8D8" stop-opacity="0"/></radialGradient>
<radialGradient id="dCore" cx="0.4" cy="0.36" r="0.75"><stop offset="0" stop-color="#E26C74"/><stop offset="0.55" stop-color="#D4505A"/><stop offset="1" stop-color="#C43A44"/></radialGradient>
<filter id="dBlur3" x="-20%" y="-20%" width="140%" height="140%"><feGaussianBlur stdDeviation="2.4"/></filter>
<linearGradient id="dBeam" gradientUnits="userSpaceOnUse" x1="885" y1="535" x2="935" y2="612"><stop offset="0" stop-color="#F07676"/><stop offset="0.6" stop-color="#F28080"/><stop offset="1" stop-color="#F6A0A0" stop-opacity="0.75"/></linearGradient>
<clipPath id="dClipBeam"><rect x="860" y="597" width="120" height="30"/></clipPath>
<radialGradient id="dGlow2" cx="0.5" cy="0.5" r="0.5"><stop offset="0" stop-color="#EA7078"/><stop offset="0.6" stop-color="#EE8086"/><stop offset="1" stop-color="#F39696"/></radialGradient>
<filter id="dBlur" x="-10%" y="-10%" width="120%" height="120%"><feGaussianBlur stdDeviation="1.6"/></filter>
<filter id="dBlur2" x="-10%" y="-10%" width="120%" height="120%"><feGaussianBlur stdDeviation="0.7"/></filter>
<radialGradient id="dPb" cx="0.4" cy="0.36" r="0.68"><stop offset="0" stop-color="#86EEF2"/><stop offset="0.5" stop-color="#35CBD8"/><stop offset="1" stop-color="#1FA2B4"/></radialGradient>
<radialGradient id="dI" cx="0.38" cy="0.34" r="0.7"><stop offset="0" stop-color="#C45AD2"/><stop offset="0.45" stop-color="#8E1E9C"/><stop offset="1" stop-color="#5C0A68"/></radialGradient>
<radialGradient id="dO" cx="0.4" cy="0.36" r="0.68"><stop offset="0" stop-color="#FF7A68"/><stop offset="0.5" stop-color="#E6261C"/><stop offset="1" stop-color="#B81410"/></radialGradient>
<radialGradient id="dN" cx="0.4" cy="0.36" r="0.68"><stop offset="0" stop-color="#5A70FF"/><stop offset="0.5" stop-color="#1428D8"/><stop offset="1" stop-color="#0A1490"/></radialGradient>
<radialGradient id="dC" cx="0.4" cy="0.36" r="0.68"><stop offset="0" stop-color="#C8C8C8"/><stop offset="0.5" stop-color="#8A8A8A"/><stop offset="1" stop-color="#606060"/></radialGradient>
<radialGradient id="dCw" cx="0.4" cy="0.36" r="0.68"><stop offset="0" stop-color="#FFFFFF"/><stop offset="0.45" stop-color="#D4D4D4"/><stop offset="1" stop-color="#8C8C8C"/></radialGradient>
<radialGradient id="dH" cx="0.4" cy="0.36" r="0.68"><stop offset="0" stop-color="#FFFFFF"/><stop offset="0.6" stop-color="#F0F0F0"/><stop offset="1" stop-color="#C8C8C8"/></radialGradient>
</defs>
<g id="panel-d">
<rect x="772" y="524" width="874" height="348.6" fill="url(#dBg)"/>
<rect x="788.5" y="664.8" width="857.5" height="65.2" fill="url(#dBand)"/>
<rect x="788.5" y="664.0" width="857.5" height="1.6" fill="#FBE0CF" opacity="0.8"/>
<polygon points="893.5,516.5 971.5,543 934.5,611 864.5,562" fill="url(#dBeam)" stroke="none" stroke-width="1" filter="url(#dBlur)"/>
<circle cx="839.8" cy="512.4" r="48.5" fill="url(#dGlow2)" stroke="none" stroke-width="1" filter="url(#dBlur3)"/>
<polygon points="842.32,470.48 844.16,489.82 853.08,472.56 849.86,491.72 862.94,477.35 854.87,495.03 871.23,484.54 858.85,499.52 877.37,493.62 861.54,504.89 880.95,503.98 862.74,510.77 881.72,514.92 862.38,516.76 879.64,525.68 860.48,522.46 874.85,535.54 857.17,527.47 867.66,543.83 852.68,531.45 858.58,549.97 847.31,534.14 848.22,553.55 841.43,535.34 837.28,554.32 835.44,534.98 826.52,552.24 829.74,533.08 816.66,547.45 824.73,529.77 808.37,540.26 820.75,525.28 802.23,531.18 818.06,519.91 798.65,520.82 816.86,514.03 797.88,509.88 817.22,508.04 799.96,499.12 819.12,502.34 804.75,489.26 822.43,497.33 811.94,480.97 826.92,493.35 821.02,474.83 832.29,490.66 831.38,471.25 838.17,489.46" fill="#D6505A" stroke="none" stroke-width="1" filter="url(#dBlur2)"/>
<circle cx="839.8" cy="512.4" r="24.6" fill="url(#dCore)" stroke="none" stroke-width="1" filter="url(#dBlur2)"/>
<rect x="897" y="543.4" width="35" height="23.4" fill="#E6383C"/>
<text transform="translate(914.9,562.4)" font-size="20.4" fill="#fff" text-anchor="middle" font-weight="bold" font-style="normal"><tspan>NIR</tspan></text>
<text x="786.7" y="619.2" font-size="20.9" font-weight="bold" fill="#30569A">Light-Harvesting <tspan font-size="24.5">(D)</tspan></text>
<text transform="translate(775.4,642.6)" font-size="20.6" fill="#30569A" text-anchor="start" font-weight="bold" font-style="normal"><tspan>Lead Halide Layers</tspan></text>
<text x="810.6" y="693.1" font-size="20.6" font-weight="bold" fill="#B01C1C"><tspan font-style="italic">N</tspan>-Centered</text>
<text transform="translate(802.1,716.2)" font-size="20.6" fill="#B01C1C" text-anchor="start" font-weight="bold" font-style="normal"><tspan>Radical Sites</tspan></text>
<text transform="translate(941,708.3)" font-size="23.5" fill="#B01C1C" text-anchor="start" font-weight="bold" font-style="normal"><tspan>(A)</tspan></text>
<text transform="translate(800.9,814)" font-size="20.6" fill="#16A05C" text-anchor="start" font-weight="bold" font-style="normal"><tspan>D-A Configuration</tspan></text>
<path d="M779.2 807.8 l3.6 4.6 l8.8 -11.6" fill="none" stroke="#16A05C" stroke-width="1.7"/>
<text transform="translate(800.9,838.8)" font-size="20.6" fill="#16A05C" text-anchor="start" font-weight="bold" font-style="normal"><tspan>Prolonged Carrier Lifetime</tspan></text>
<path d="M779.2 832.6 l3.6 4.6 l8.8 -11.6" fill="none" stroke="#16A05C" stroke-width="1.7"/>
<text transform="translate(800.9,862.9)" font-size="20.6" fill="#16A05C" text-anchor="start" font-weight="bold" font-style="normal"><tspan>Adjacent N radical sites</tspan></text>
<path d="M779.2 856.7 l3.6 4.6 l8.8 -11.6" fill="none" stroke="#16A05C" stroke-width="1.7"/>
<g opacity="0.96">
<polygon points="1020.5,575.6 1081.3,577.5 1127.2,616.1 1082.6,660.2 1024.6,639.6" fill="#6787B6" stroke="#6787B6" stroke-width="0.5" stroke-linejoin="round"/>
<polygon points="1020.5,575.6 1081.3,577.5 1071.8,619.4" fill="#6989B8" stroke="#6989B8" stroke-width="0.5" stroke-linejoin="round"/>
<polygon points="1020.5,575.6 1071.8,619.4 1024.6,639.6" fill="#7495C3" stroke="#7495C3" stroke-width="0.5" stroke-linejoin="round"/>
<polygon points="1081.3,577.5 1127.2,616.1 1071.8,619.4" fill="#A8C5E7" stroke="#A8C5E7" stroke-width="0.5" stroke-linejoin="round"/>
<polygon points="1081.3,577.5 1071.8,619.4 1024.6,639.6" fill="#83A4D0" stroke="#83A4D0" stroke-width="0.5" stroke-linejoin="round"/>
<polygon points="1024.6,639.6 1071.8,619.4 1082.6,660.2" fill="#5879A7" stroke="#5879A7" stroke-width="0.5" stroke-linejoin="round"/>
<polygon points="1071.8,619.4 1127.2,616.1 1082.6,660.2" fill="#7C9DC8" stroke="#7C9DC8" stroke-width="0.5" stroke-linejoin="round"/>
<polygon points="1132,533 1183.9,554 1187.4,618.6 1127.2,616.1 1081.3,577.5" fill="#7293C1" stroke="#7293C1" stroke-width="0.5" stroke-linejoin="round"/>
<polygon points="1132,533 1081.3,577.5 1127.2,616.1" fill="#5878A6" stroke="#5878A6" stroke-width="0.5" stroke-linejoin="round"/>
<polygon points="1132,533 1127.2,616.1 1183.9,554" fill="#83A4D0" stroke="#83A4D0" stroke-width="0.5" stroke-linejoin="round"/>
<polygon points="1132,533 1127.2,616.1 1136.1,573.5" fill="#9BBADF" stroke="#9BBADF" stroke-width="0.5" stroke-linejoin="round"/>
<polygon points="1132,533 1183.9,554 1136.1,573.5" fill="#A0BEE2" stroke="#A0BEE2" stroke-width="0.5" stroke-linejoin="round"/>
<polygon points="1127.2,616.1 1183.9,554 1187.4,618.6" fill="#6B8CBB" stroke="#6B8CBB" stroke-width="0.5" stroke-linejoin="round"/>
<polygon points="1183.9,554 1252.1,575.6 1256.2,639.6 1187.4,618.6" fill="#6E8FBD" stroke="#6E8FBD" stroke-width="0.5" stroke-linejoin="round"/>
<polygon points="1183.9,554 1252.1,575.6 1219.8,596.4" fill="#799AC7" stroke="#799AC7" stroke-width="0.5" stroke-linejoin="round"/>
<polygon points="1187.4,618.6 1256.2,639.6 1219.8,596.4" fill="#6485B3" stroke="#6485B3" stroke-width="0.5" stroke-linejoin="round"/>
<polygon points="1252.1,575.6 1312.9,577.5 1358.8,616.1 1314.2,660.2 1256.2,639.6" fill="#6787B6" stroke="#6787B6" stroke-width="0.5" stroke-linejoin="round"/>
<polygon points="1252.1,575.6 1312.9,577.5 1303.4,619.4" fill="#6989B8" stroke="#6989B8" stroke-width="0.5" stroke-linejoin="round"/>
<polygon points="1252.1,575.6 1303.4,619.4 1256.2,639.6" fill="#7495C3" stroke="#7495C3" stroke-width="0.5" stroke-linejoin="round"/>
<polygon points="1312.9,577.5 1358.8,616.1 1303.4,619.4" fill="#A8C5E7" stroke="#A8C5E7" stroke-width="0.5" stroke-linejoin="round"/>
<polygon points="1312.9,577.5 1303.4,619.4 1256.2,639.6" fill="#83A4D0" stroke="#83A4D0" stroke-width="0.5" stroke-linejoin="round"/>
<polygon points="1256.2,639.6 1303.4,619.4 1314.2,660.2" fill="#5879A7" stroke="#5879A7" stroke-width="0.5" stroke-linejoin="round"/>
<polygon points="1303.4,619.4 1358.8,616.1 1314.2,660.2" fill="#7C9DC8" stroke="#7C9DC8" stroke-width="0.5" stroke-linejoin="round"/>
<polygon points="1363.6,533 1415.5,554 1419,618.6 1358.8,616.1 1312.9,577.5" fill="#7293C1" stroke="#7293C1" stroke-width="0.5" stroke-linejoin="round"/>
<polygon points="1363.6,533 1312.9,577.5 1358.8,616.1" fill="#5878A6" stroke="#5878A6" stroke-width="0.5" stroke-linejoin="round"/>
<polygon points="1363.6,533 1358.8,616.1 1415.5,554" fill="#83A4D0" stroke="#83A4D0" stroke-width="0.5" stroke-linejoin="round"/>
<polygon points="1363.6,533 1358.8,616.1 1367.7,573.5" fill="#9BBADF" stroke="#9BBADF" stroke-width="0.5" stroke-linejoin="round"/>
<polygon points="1363.6,533 1415.5,554 1367.7,573.5" fill="#A0BEE2" stroke="#A0BEE2" stroke-width="0.5" stroke-linejoin="round"/>
<polygon points="1358.8,616.1 1415.5,554 1419,618.6" fill="#6B8CBB" stroke="#6B8CBB" stroke-width="0.5" stroke-linejoin="round"/>
<polygon points="1415.5,554 1483.7,575.6 1487.8,639.6 1419,618.6" fill="#6E8FBD" stroke="#6E8FBD" stroke-width="0.5" stroke-linejoin="round"/>
<polygon points="1415.5,554 1483.7,575.6 1451.4,596.4" fill="#799AC7" stroke="#799AC7" stroke-width="0.5" stroke-linejoin="round"/>
<polygon points="1419,618.6 1487.8,639.6 1451.4,596.4" fill="#6485B3" stroke="#6485B3" stroke-width="0.5" stroke-linejoin="round"/>
</g>
<line x1="1071.8" y1="619.4" x2="1043.59" y2="595.31" stroke="#48C4D4" stroke-width="1.15"/>
<line x1="1043.59" y1="595.31" x2="1020.5" y2="575.6" stroke="#8544A0" stroke-width="1.15"/>
<line x1="1071.8" y1="619.4" x2="1077.02" y2="596.36" stroke="#48C4D4" stroke-width="1.15"/>
<line x1="1077.02" y1="596.36" x2="1081.3" y2="577.5" stroke="#8544A0" stroke-width="1.15"/>
<line x1="1071.8" y1="619.4" x2="1045.84" y2="630.51" stroke="#48C4D4" stroke-width="1.15"/>
<line x1="1045.84" y1="630.51" x2="1024.6" y2="639.6" stroke="#8544A0" stroke-width="1.15"/>
<line x1="1071.8" y1="619.4" x2="1102.27" y2="617.59" stroke="#48C4D4" stroke-width="1.15"/>
<line x1="1102.27" y1="617.59" x2="1127.2" y2="616.1" stroke="#8544A0" stroke-width="1.15"/>
<line x1="1136.1" y1="573.5" x2="1105.96" y2="575.7" stroke="#48C4D4" stroke-width="1.15"/>
<line x1="1105.96" y1="575.7" x2="1081.3" y2="577.5" stroke="#8544A0" stroke-width="1.15"/>
<line x1="1136.1" y1="573.5" x2="1131.2" y2="596.93" stroke="#48C4D4" stroke-width="1.15"/>
<line x1="1131.2" y1="596.93" x2="1127.2" y2="616.1" stroke="#8544A0" stroke-width="1.15"/>
<line x1="1136.1" y1="573.5" x2="1162.39" y2="562.77" stroke="#48C4D4" stroke-width="1.15"/>
<line x1="1162.39" y1="562.77" x2="1183.9" y2="554" stroke="#8544A0" stroke-width="1.15"/>
<line x1="1136.1" y1="573.5" x2="1164.31" y2="598.31" stroke="#48C4D4" stroke-width="1.15"/>
<line x1="1164.31" y1="598.31" x2="1187.4" y2="618.6" stroke="#8544A0" stroke-width="1.15"/>
<line x1="1219.8" y1="596.4" x2="1200.05" y2="573.08" stroke="#48C4D4" stroke-width="1.15"/>
<line x1="1200.05" y1="573.08" x2="1183.9" y2="554" stroke="#8544A0" stroke-width="1.15"/>
<line x1="1219.8" y1="596.4" x2="1201.98" y2="608.61" stroke="#48C4D4" stroke-width="1.15"/>
<line x1="1201.98" y1="608.61" x2="1187.4" y2="618.6" stroke="#8544A0" stroke-width="1.15"/>
<line x1="1219.8" y1="596.4" x2="1237.56" y2="584.96" stroke="#48C4D4" stroke-width="1.15"/>
<line x1="1237.56" y1="584.96" x2="1252.1" y2="575.6" stroke="#8544A0" stroke-width="1.15"/>
<line x1="1219.8" y1="596.4" x2="1239.82" y2="620.16" stroke="#48C4D4" stroke-width="1.15"/>
<line x1="1239.82" y1="620.16" x2="1256.2" y2="639.6" stroke="#8544A0" stroke-width="1.15"/>
<line x1="1071.8" y1="619.4" x2="1079.22" y2="631.28" stroke="#48C4D4" stroke-width="1.15"/>
<line x1="1079.22" y1="631.28" x2="1085.3" y2="641" stroke="#CF3A36" stroke-width="1.15"/>
<line x1="1071.8" y1="619.4" x2="1074.05" y2="642.12" stroke="#48C4D4" stroke-width="1.15"/>
<line x1="1074.05" y1="642.12" x2="1075.9" y2="660.7" stroke="#CF3A36" stroke-width="1.15"/>
<line x1="1136.1" y1="573.5" x2="1133.85" y2="551.23" stroke="#48C4D4" stroke-width="1.15"/>
<line x1="1133.85" y1="551.23" x2="1132" y2="533" stroke="#CF3A36" stroke-width="1.15"/>
<line x1="1136.1" y1="573.5" x2="1128.67" y2="562.33" stroke="#48C4D4" stroke-width="1.15"/>
<line x1="1128.67" y1="562.33" x2="1122.6" y2="553.2" stroke="#CF3A36" stroke-width="1.15"/>
<line x1="1303.4" y1="619.4" x2="1275.18" y2="595.31" stroke="#48C4D4" stroke-width="1.15"/>
<line x1="1275.18" y1="595.31" x2="1252.1" y2="575.6" stroke="#8544A0" stroke-width="1.15"/>
<line x1="1303.4" y1="619.4" x2="1308.62" y2="596.36" stroke="#48C4D4" stroke-width="1.15"/>
<line x1="1308.62" y1="596.36" x2="1312.9" y2="577.5" stroke="#8544A0" stroke-width="1.15"/>
<line x1="1303.4" y1="619.4" x2="1277.44" y2="630.51" stroke="#48C4D4" stroke-width="1.15"/>
<line x1="1277.44" y1="630.51" x2="1256.2" y2="639.6" stroke="#8544A0" stroke-width="1.15"/>
<line x1="1303.4" y1="619.4" x2="1333.87" y2="617.59" stroke="#48C4D4" stroke-width="1.15"/>
<line x1="1333.87" y1="617.59" x2="1358.8" y2="616.1" stroke="#8544A0" stroke-width="1.15"/>
<line x1="1367.7" y1="573.5" x2="1337.56" y2="575.7" stroke="#48C4D4" stroke-width="1.15"/>
<line x1="1337.56" y1="575.7" x2="1312.9" y2="577.5" stroke="#8544A0" stroke-width="1.15"/>
<line x1="1367.7" y1="573.5" x2="1362.8" y2="596.93" stroke="#48C4D4" stroke-width="1.15"/>
<line x1="1362.8" y1="596.93" x2="1358.8" y2="616.1" stroke="#8544A0" stroke-width="1.15"/>
<line x1="1367.7" y1="573.5" x2="1393.99" y2="562.77" stroke="#48C4D4" stroke-width="1.15"/>
<line x1="1393.99" y1="562.77" x2="1415.5" y2="554" stroke="#8544A0" stroke-width="1.15"/>
<line x1="1367.7" y1="573.5" x2="1395.91" y2="598.31" stroke="#48C4D4" stroke-width="1.15"/>
<line x1="1395.91" y1="598.31" x2="1419" y2="618.6" stroke="#8544A0" stroke-width="1.15"/>
<line x1="1451.4" y1="596.4" x2="1431.65" y2="573.08" stroke="#48C4D4" stroke-width="1.15"/>
<line x1="1431.65" y1="573.08" x2="1415.5" y2="554" stroke="#8544A0" stroke-width="1.15"/>
<line x1="1451.4" y1="596.4" x2="1433.58" y2="608.61" stroke="#48C4D4" stroke-width="1.15"/>
<line x1="1433.58" y1="608.61" x2="1419" y2="618.6" stroke="#8544A0" stroke-width="1.15"/>
<line x1="1451.4" y1="596.4" x2="1469.16" y2="584.96" stroke="#48C4D4" stroke-width="1.15"/>
<line x1="1469.16" y1="584.96" x2="1483.7" y2="575.6" stroke="#8544A0" stroke-width="1.15"/>
<line x1="1451.4" y1="596.4" x2="1471.42" y2="620.16" stroke="#48C4D4" stroke-width="1.15"/>
<line x1="1471.42" y1="620.16" x2="1487.8" y2="639.6" stroke="#8544A0" stroke-width="1.15"/>
<line x1="1303.4" y1="619.4" x2="1310.82" y2="631.28" stroke="#48C4D4" stroke-width="1.15"/>
<line x1="1310.82" y1="631.28" x2="1316.9" y2="641" stroke="#CF3A36" stroke-width="1.15"/>
<line x1="1303.4" y1="619.4" x2="1305.65" y2="642.12" stroke="#48C4D4" stroke-width="1.15"/>
<line x1="1305.65" y1="642.12" x2="1307.5" y2="660.7" stroke="#CF3A36" stroke-width="1.15"/>
<line x1="1367.7" y1="573.5" x2="1365.44" y2="551.23" stroke="#48C4D4" stroke-width="1.15"/>
<line x1="1365.44" y1="551.23" x2="1363.6" y2="533" stroke="#CF3A36" stroke-width="1.15"/>
<line x1="1367.7" y1="573.5" x2="1360.27" y2="562.33" stroke="#48C4D4" stroke-width="1.15"/>
<line x1="1360.27" y1="562.33" x2="1354.2" y2="553.2" stroke="#CF3A36" stroke-width="1.15"/>
<circle cx="1020.5" cy="575.6" r="6.2" fill="url(#dI)" stroke="none" stroke-width="1"/>
<circle cx="1081.3" cy="577.5" r="6.2" fill="url(#dI)" stroke="none" stroke-width="1"/>
<circle cx="1024.6" cy="639.6" r="6.2" fill="url(#dI)" stroke="none" stroke-width="1"/>
<circle cx="1127.2" cy="616.1" r="6.2" fill="url(#dI)" stroke="none" stroke-width="1"/>
<circle cx="1183.9" cy="554" r="6.2" fill="url(#dI)" stroke="none" stroke-width="1"/>
<circle cx="1187.4" cy="618.6" r="6.2" fill="url(#dI)" stroke="none" stroke-width="1"/>
<circle cx="1252.1" cy="575.6" r="6.2" fill="url(#dI)" stroke="none" stroke-width="1"/>
<circle cx="1256.2" cy="639.6" r="6.2" fill="url(#dI)" stroke="none" stroke-width="1"/>
<circle cx="1132" cy="533" r="3.2" fill="url(#dO)" stroke="none" stroke-width="1"/>
<circle cx="1122.6" cy="553.2" r="3.2" fill="url(#dO)" stroke="none" stroke-width="1"/>
<circle cx="1085.3" cy="641" r="3.2" fill="url(#dO)" stroke="none" stroke-width="1"/>
<circle cx="1075.9" cy="660.7" r="3.2" fill="url(#dO)" stroke="none" stroke-width="1"/>
<circle cx="1071.8" cy="619.4" r="8.4" fill="url(#dPb)" stroke="none" stroke-width="1"/>
<circle cx="1136.1" cy="573.5" r="8.4" fill="url(#dPb)" stroke="none" stroke-width="1"/>
<circle cx="1219.8" cy="596.4" r="8.4" fill="url(#dPb)" stroke="none" stroke-width="1"/>
<circle cx="1252.1" cy="575.6" r="6.2" fill="url(#dI)" stroke="none" stroke-width="1"/>
<circle cx="1312.9" cy="577.5" r="6.2" fill="url(#dI)" stroke="none" stroke-width="1"/>
<circle cx="1256.2" cy="639.6" r="6.2" fill="url(#dI)" stroke="none" stroke-width="1"/>
<circle cx="1358.8" cy="616.1" r="6.2" fill="url(#dI)" stroke="none" stroke-width="1"/>
<circle cx="1415.5" cy="554" r="6.2" fill="url(#dI)" stroke="none" stroke-width="1"/>
<circle cx="1419" cy="618.6" r="6.2" fill="url(#dI)" stroke="none" stroke-width="1"/>
<circle cx="1483.7" cy="575.6" r="6.2" fill="url(#dI)" stroke="none" stroke-width="1"/>
<circle cx="1487.8" cy="639.6" r="6.2" fill="url(#dI)" stroke="none" stroke-width="1"/>
<circle cx="1363.6" cy="533" r="3.2" fill="url(#dO)" stroke="none" stroke-width="1"/>
<circle cx="1354.2" cy="553.2" r="3.2" fill="url(#dO)" stroke="none" stroke-width="1"/>
<circle cx="1316.9" cy="641" r="3.2" fill="url(#dO)" stroke="none" stroke-width="1"/>
<circle cx="1307.5" cy="660.7" r="3.2" fill="url(#dO)" stroke="none" stroke-width="1"/>
<circle cx="1303.4" cy="619.4" r="8.4" fill="url(#dPb)" stroke="none" stroke-width="1"/>
<circle cx="1367.7" cy="573.5" r="8.4" fill="url(#dPb)" stroke="none" stroke-width="1"/>
<circle cx="1451.4" cy="596.4" r="8.4" fill="url(#dPb)" stroke="none" stroke-width="1"/>
<g opacity="0.96">
<polygon points="1042.6,724.8 1094.5,746.4 1098.4,810.2 1038.3,808 991.9,769.1" fill="#6E8FBD" stroke="#6E8FBD" stroke-width="0.5" stroke-linejoin="round"/>
<polygon points="991.9,769.1 1042.6,724.8 1047,765.9" fill="#5F80AE" stroke="#5F80AE" stroke-width="0.5" stroke-linejoin="round"/>
<polygon points="991.9,769.1 1047,765.9 1038.3,808" fill="#5878A6" stroke="#5878A6" stroke-width="0.5" stroke-linejoin="round"/>
<polygon points="1042.6,724.8 1047,765.9 1038.3,808" fill="#A6C3E6" stroke="#A6C3E6" stroke-width="0.5" stroke-linejoin="round"/>
<polygon points="1042.6,724.8 1094.5,746.4 1047,765.9" fill="#A0BEE1" stroke="#A0BEE1" stroke-width="0.5" stroke-linejoin="round"/>
<polygon points="1047,765.9 1094.5,746.4 1098.4,810.2" fill="#7394C2" stroke="#7394C2" stroke-width="0.5" stroke-linejoin="round"/>
<polygon points="1047,765.9 1098.4,810.2 1038.3,808" fill="#6686B5" stroke="#6686B5" stroke-width="0.5" stroke-linejoin="round"/>
<polygon points="1094.5,746.4 1162.5,767.6 1165.8,831.8 1098.4,810.2" fill="#6E8FBD" stroke="#6E8FBD" stroke-width="0.5" stroke-linejoin="round"/>
<polygon points="1094.5,746.4 1162.5,767.6 1131.2,788.6" fill="#799AC7" stroke="#799AC7" stroke-width="0.5" stroke-linejoin="round"/>
<polygon points="1098.4,810.2 1165.8,831.8 1131.2,788.6" fill="#6485B3" stroke="#6485B3" stroke-width="0.5" stroke-linejoin="round"/>
<polygon points="1162.5,767.6 1223.1,769.1 1269.5,808 1217.6,853 1165.8,831.8" fill="#7192C0" stroke="#7192C0" stroke-width="0.5" stroke-linejoin="round"/>
<polygon points="1162.5,767.6 1223.1,769.1 1214.4,811.3" fill="#6D8EBC" stroke="#6D8EBC" stroke-width="0.5" stroke-linejoin="round"/>
<polygon points="1223.1,769.1 1269.5,808 1214.4,811.3" fill="#A0BEE1" stroke="#A0BEE1" stroke-width="0.5" stroke-linejoin="round"/>
<polygon points="1162.5,767.6 1214.4,811.3 1165.8,831.8" fill="#9FBEE2" stroke="#9FBEE2" stroke-width="0.5" stroke-linejoin="round"/>
<polygon points="1165.8,831.8 1214.4,811.3 1217.6,853" fill="#A6C3E6" stroke="#A6C3E6" stroke-width="0.5" stroke-linejoin="round"/>
<polygon points="1214.4,811.3 1269.5,808 1217.6,853" fill="#5B7CAA" stroke="#5B7CAA" stroke-width="0.5" stroke-linejoin="round"/>
<polygon points="1273.8,724.8 1325.7,746.4 1329.6,810.2 1269.5,808 1223.1,769.1" fill="#6E8FBD" stroke="#6E8FBD" stroke-width="0.5" stroke-linejoin="round"/>
<polygon points="1223.1,769.1 1273.8,724.8 1278.2,765.9" fill="#5F80AE" stroke="#5F80AE" stroke-width="0.5" stroke-linejoin="round"/>
<polygon points="1223.1,769.1 1278.2,765.9 1269.5,808" fill="#5878A6" stroke="#5878A6" stroke-width="0.5" stroke-linejoin="round"/>
<polygon points="1273.8,724.8 1278.2,765.9 1269.5,808" fill="#A6C3E6" stroke="#A6C3E6" stroke-width="0.5" stroke-linejoin="round"/>
<polygon points="1273.8,724.8 1325.7,746.4 1278.2,765.9" fill="#A0BEE1" stroke="#A0BEE1" stroke-width="0.5" stroke-linejoin="round"/>
<polygon points="1278.2,765.9 1325.7,746.4 1329.6,810.2" fill="#7394C2" stroke="#7394C2" stroke-width="0.5" stroke-linejoin="round"/>
<polygon points="1278.2,765.9 1329.6,810.2 1269.5,808" fill="#6686B5" stroke="#6686B5" stroke-width="0.5" stroke-linejoin="round"/>
<polygon points="1325.7,746.4 1393.7,767.6 1397,831.8 1329.6,810.2" fill="#6E8FBD" stroke="#6E8FBD" stroke-width="0.5" stroke-linejoin="round"/>
<polygon points="1325.7,746.4 1393.7,767.6 1362.4,788.6" fill="#799AC7" stroke="#799AC7" stroke-width="0.5" stroke-linejoin="round"/>
<polygon points="1329.6,810.2 1397,831.8 1362.4,788.6" fill="#6485B3" stroke="#6485B3" stroke-width="0.5" stroke-linejoin="round"/>
<polygon points="1393.7,767.6 1454.3,769.1 1500.7,808 1448.8,853 1397,831.8" fill="#7192C0" stroke="#7192C0" stroke-width="0.5" stroke-linejoin="round"/>
<polygon points="1393.7,767.6 1454.3,769.1 1445.6,811.3" fill="#6D8EBC" stroke="#6D8EBC" stroke-width="0.5" stroke-linejoin="round"/>
<polygon points="1454.3,769.1 1500.7,808 1445.6,811.3" fill="#A0BEE1" stroke="#A0BEE1" stroke-width="0.5" stroke-linejoin="round"/>
<polygon points="1393.7,767.6 1445.6,811.3 1397,831.8" fill="#9FBEE2" stroke="#9FBEE2" stroke-width="0.5" stroke-linejoin="round"/>
<polygon points="1397,831.8 1445.6,811.3 1448.8,853" fill="#A6C3E6" stroke="#A6C3E6" stroke-width="0.5" stroke-linejoin="round"/>
<polygon points="1445.6,811.3 1500.7,808 1448.8,853" fill="#5B7CAA" stroke="#5B7CAA" stroke-width="0.5" stroke-linejoin="round"/>
<polygon points="1505,724.8 1556.9,746.4 1560.8,810.2 1500.7,808 1454.3,769.1" fill="#6E8FBD" stroke="#6E8FBD" stroke-width="0.5" stroke-linejoin="round"/>
<polygon points="1454.3,769.1 1505,724.8 1509.4,765.9" fill="#5F80AE" stroke="#5F80AE" stroke-width="0.5" stroke-linejoin="round"/>
<polygon points="1454.3,769.1 1509.4,765.9 1500.7,808" fill="#5878A6" stroke="#5878A6" stroke-width="0.5" stroke-linejoin="round"/>
<polygon points="1505,724.8 1509.4,765.9 1500.7,808" fill="#A6C3E6" stroke="#A6C3E6" stroke-width="0.5" stroke-linejoin="round"/>
<polygon points="1505,724.8 1556.9,746.4 1509.4,765.9" fill="#A0BEE1" stroke="#A0BEE1" stroke-width="0.5" stroke-linejoin="round"/>
<polygon points="1509.4,765.9 1556.9,746.4 1560.8,810.2" fill="#7394C2" stroke="#7394C2" stroke-width="0.5" stroke-linejoin="round"/>
<polygon points="1509.4,765.9 1560.8,810.2 1500.7,808" fill="#6686B5" stroke="#6686B5" stroke-width="0.5" stroke-linejoin="round"/>
</g>
<line x1="1047" y1="765.9" x2="1016.69" y2="767.66" stroke="#48C4D4" stroke-width="1.15"/>
<line x1="1016.69" y1="767.66" x2="991.9" y2="769.1" stroke="#8544A0" stroke-width="1.15"/>
<line x1="1047" y1="765.9" x2="1042.21" y2="789.05" stroke="#48C4D4" stroke-width="1.15"/>
<line x1="1042.21" y1="789.05" x2="1038.3" y2="808" stroke="#8544A0" stroke-width="1.15"/>
<line x1="1047" y1="765.9" x2="1073.12" y2="755.17" stroke="#48C4D4" stroke-width="1.15"/>
<line x1="1073.12" y1="755.17" x2="1094.5" y2="746.4" stroke="#8544A0" stroke-width="1.15"/>
<line x1="1047" y1="765.9" x2="1075.27" y2="790.26" stroke="#48C4D4" stroke-width="1.15"/>
<line x1="1075.27" y1="790.26" x2="1098.4" y2="810.2" stroke="#8544A0" stroke-width="1.15"/>
<line x1="1047" y1="765.9" x2="1044.58" y2="743.29" stroke="#48C4D4" stroke-width="1.15"/>
<line x1="1044.58" y1="743.29" x2="1042.6" y2="724.8" stroke="#CF3A36" stroke-width="1.15"/>
<line x1="1047" y1="765.9" x2="1039.25" y2="754.62" stroke="#48C4D4" stroke-width="1.15"/>
<line x1="1039.25" y1="754.62" x2="1032.9" y2="745.4" stroke="#CF3A36" stroke-width="1.15"/>
<line x1="1131.2" y1="788.6" x2="1111.02" y2="765.39" stroke="#48C4D4" stroke-width="1.15"/>
<line x1="1111.02" y1="765.39" x2="1094.5" y2="746.4" stroke="#8544A0" stroke-width="1.15"/>
<line x1="1131.2" y1="788.6" x2="1113.16" y2="800.48" stroke="#48C4D4" stroke-width="1.15"/>
<line x1="1113.16" y1="800.48" x2="1098.4" y2="810.2" stroke="#8544A0" stroke-width="1.15"/>
<line x1="1131.2" y1="788.6" x2="1148.41" y2="777.05" stroke="#48C4D4" stroke-width="1.15"/>
<line x1="1148.41" y1="777.05" x2="1162.5" y2="767.6" stroke="#8544A0" stroke-width="1.15"/>
<line x1="1131.2" y1="788.6" x2="1150.23" y2="812.36" stroke="#48C4D4" stroke-width="1.15"/>
<line x1="1150.23" y1="812.36" x2="1165.8" y2="831.8" stroke="#8544A0" stroke-width="1.15"/>
<line x1="1214.4" y1="811.3" x2="1185.86" y2="787.26" stroke="#48C4D4" stroke-width="1.15"/>
<line x1="1185.86" y1="787.26" x2="1162.5" y2="767.6" stroke="#8544A0" stroke-width="1.15"/>
<line x1="1214.4" y1="811.3" x2="1187.67" y2="822.57" stroke="#48C4D4" stroke-width="1.15"/>
<line x1="1187.67" y1="822.57" x2="1165.8" y2="831.8" stroke="#8544A0" stroke-width="1.15"/>
<line x1="1214.4" y1="811.3" x2="1219.18" y2="788.09" stroke="#48C4D4" stroke-width="1.15"/>
<line x1="1219.18" y1="788.09" x2="1223.1" y2="769.1" stroke="#8544A0" stroke-width="1.15"/>
<line x1="1214.4" y1="811.3" x2="1244.71" y2="809.49" stroke="#48C4D4" stroke-width="1.15"/>
<line x1="1244.71" y1="809.49" x2="1269.5" y2="808" stroke="#8544A0" stroke-width="1.15"/>
<line x1="1214.4" y1="811.3" x2="1221.55" y2="822.9" stroke="#48C4D4" stroke-width="1.15"/>
<line x1="1221.55" y1="822.9" x2="1227.4" y2="832.4" stroke="#CF3A36" stroke-width="1.15"/>
<line x1="1214.4" y1="811.3" x2="1216.16" y2="834.24" stroke="#48C4D4" stroke-width="1.15"/>
<line x1="1216.16" y1="834.24" x2="1217.6" y2="853" stroke="#CF3A36" stroke-width="1.15"/>
<line x1="1278.2" y1="765.9" x2="1247.89" y2="767.66" stroke="#48C4D4" stroke-width="1.15"/>
<line x1="1247.89" y1="767.66" x2="1223.1" y2="769.1" stroke="#8544A0" stroke-width="1.15"/>
<line x1="1278.2" y1="765.9" x2="1273.41" y2="789.05" stroke="#48C4D4" stroke-width="1.15"/>
<line x1="1273.41" y1="789.05" x2="1269.5" y2="808" stroke="#8544A0" stroke-width="1.15"/>
<line x1="1278.2" y1="765.9" x2="1304.33" y2="755.17" stroke="#48C4D4" stroke-width="1.15"/>
<line x1="1304.33" y1="755.17" x2="1325.7" y2="746.4" stroke="#8544A0" stroke-width="1.15"/>
<line x1="1278.2" y1="765.9" x2="1306.47" y2="790.26" stroke="#48C4D4" stroke-width="1.15"/>
<line x1="1306.47" y1="790.26" x2="1329.6" y2="810.2" stroke="#8544A0" stroke-width="1.15"/>
<line x1="1278.2" y1="765.9" x2="1275.78" y2="743.29" stroke="#48C4D4" stroke-width="1.15"/>
<line x1="1275.78" y1="743.29" x2="1273.8" y2="724.8" stroke="#CF3A36" stroke-width="1.15"/>
<line x1="1278.2" y1="765.9" x2="1270.45" y2="754.62" stroke="#48C4D4" stroke-width="1.15"/>
<line x1="1270.45" y1="754.62" x2="1264.1" y2="745.4" stroke="#CF3A36" stroke-width="1.15"/>
<line x1="1362.4" y1="788.6" x2="1342.22" y2="765.39" stroke="#48C4D4" stroke-width="1.15"/>
<line x1="1342.22" y1="765.39" x2="1325.7" y2="746.4" stroke="#8544A0" stroke-width="1.15"/>
<line x1="1362.4" y1="788.6" x2="1344.36" y2="800.48" stroke="#48C4D4" stroke-width="1.15"/>
<line x1="1344.36" y1="800.48" x2="1329.6" y2="810.2" stroke="#8544A0" stroke-width="1.15"/>
<line x1="1362.4" y1="788.6" x2="1379.62" y2="777.05" stroke="#48C4D4" stroke-width="1.15"/>
<line x1="1379.62" y1="777.05" x2="1393.7" y2="767.6" stroke="#8544A0" stroke-width="1.15"/>
<line x1="1362.4" y1="788.6" x2="1381.43" y2="812.36" stroke="#48C4D4" stroke-width="1.15"/>
<line x1="1381.43" y1="812.36" x2="1397" y2="831.8" stroke="#8544A0" stroke-width="1.15"/>
<line x1="1445.6" y1="811.3" x2="1417.06" y2="787.26" stroke="#48C4D4" stroke-width="1.15"/>
<line x1="1417.06" y1="787.26" x2="1393.7" y2="767.6" stroke="#8544A0" stroke-width="1.15"/>
<line x1="1445.6" y1="811.3" x2="1418.87" y2="822.57" stroke="#48C4D4" stroke-width="1.15"/>
<line x1="1418.87" y1="822.57" x2="1397" y2="831.8" stroke="#8544A0" stroke-width="1.15"/>
<line x1="1445.6" y1="811.3" x2="1450.38" y2="788.09" stroke="#48C4D4" stroke-width="1.15"/>
<line x1="1450.38" y1="788.09" x2="1454.3" y2="769.1" stroke="#8544A0" stroke-width="1.15"/>
<line x1="1445.6" y1="811.3" x2="1475.91" y2="809.49" stroke="#48C4D4" stroke-width="1.15"/>
<line x1="1475.91" y1="809.49" x2="1500.7" y2="808" stroke="#8544A0" stroke-width="1.15"/>
<line x1="1445.6" y1="811.3" x2="1452.75" y2="822.9" stroke="#48C4D4" stroke-width="1.15"/>
<line x1="1452.75" y1="822.9" x2="1458.6" y2="832.4" stroke="#CF3A36" stroke-width="1.15"/>
<line x1="1445.6" y1="811.3" x2="1447.36" y2="834.24" stroke="#48C4D4" stroke-width="1.15"/>
<line x1="1447.36" y1="834.24" x2="1448.8" y2="853" stroke="#CF3A36" stroke-width="1.15"/>
<line x1="1509.4" y1="765.9" x2="1479.1" y2="767.66" stroke="#48C4D4" stroke-width="1.15"/>
<line x1="1479.1" y1="767.66" x2="1454.3" y2="769.1" stroke="#8544A0" stroke-width="1.15"/>
<line x1="1509.4" y1="765.9" x2="1504.62" y2="789.05" stroke="#48C4D4" stroke-width="1.15"/>
<line x1="1504.62" y1="789.05" x2="1500.7" y2="808" stroke="#8544A0" stroke-width="1.15"/>
<line x1="1509.4" y1="765.9" x2="1535.53" y2="755.17" stroke="#48C4D4" stroke-width="1.15"/>
<line x1="1535.53" y1="755.17" x2="1556.9" y2="746.4" stroke="#8544A0" stroke-width="1.15"/>
<line x1="1509.4" y1="765.9" x2="1537.67" y2="790.26" stroke="#48C4D4" stroke-width="1.15"/>
<line x1="1537.67" y1="790.26" x2="1560.8" y2="810.2" stroke="#8544A0" stroke-width="1.15"/>
<line x1="1509.4" y1="765.9" x2="1506.98" y2="743.29" stroke="#48C4D4" stroke-width="1.15"/>
<line x1="1506.98" y1="743.29" x2="1505" y2="724.8" stroke="#CF3A36" stroke-width="1.15"/>
<line x1="1509.4" y1="765.9" x2="1501.65" y2="754.62" stroke="#48C4D4" stroke-width="1.15"/>
<line x1="1501.65" y1="754.62" x2="1495.3" y2="745.4" stroke="#CF3A36" stroke-width="1.15"/>
<circle cx="1227.4" cy="832.4" r="3.2" fill="url(#dO)" stroke="none" stroke-width="1"/>
<circle cx="1217.6" cy="853" r="3.2" fill="url(#dO)" stroke="none" stroke-width="1"/>
<circle cx="1131.2" cy="788.6" r="8.4" fill="url(#dPb)" stroke="none" stroke-width="1"/>
<circle cx="1214.4" cy="811.3" r="8.4" fill="url(#dPb)" stroke="none" stroke-width="1"/>
<circle cx="991.9" cy="769.1" r="6.2" fill="url(#dI)" stroke="none" stroke-width="1"/>
<circle cx="1038.3" cy="808" r="6.2" fill="url(#dI)" stroke="none" stroke-width="1"/>
<circle cx="1094.5" cy="746.4" r="6.2" fill="url(#dI)" stroke="none" stroke-width="1"/>
<circle cx="1098.4" cy="810.2" r="6.2" fill="url(#dI)" stroke="none" stroke-width="1"/>
<circle cx="1162.5" cy="767.6" r="6.2" fill="url(#dI)" stroke="none" stroke-width="1"/>
<circle cx="1165.8" cy="831.8" r="6.2" fill="url(#dI)" stroke="none" stroke-width="1"/>
<circle cx="1042.6" cy="724.8" r="3.2" fill="url(#dO)" stroke="none" stroke-width="1"/>
<circle cx="1032.9" cy="745.4" r="3.2" fill="url(#dO)" stroke="none" stroke-width="1"/>
<circle cx="1047" cy="765.9" r="8.4" fill="url(#dPb)" stroke="none" stroke-width="1"/>
<circle cx="1458.6" cy="832.4" r="3.2" fill="url(#dO)" stroke="none" stroke-width="1"/>
<circle cx="1448.8" cy="853" r="3.2" fill="url(#dO)" stroke="none" stroke-width="1"/>
<circle cx="1362.4" cy="788.6" r="8.4" fill="url(#dPb)" stroke="none" stroke-width="1"/>
<circle cx="1445.6" cy="811.3" r="8.4" fill="url(#dPb)" stroke="none" stroke-width="1"/>
<circle cx="1223.1" cy="769.1" r="6.2" fill="url(#dI)" stroke="none" stroke-width="1"/>
<circle cx="1269.5" cy="808" r="6.2" fill="url(#dI)" stroke="none" stroke-width="1"/>
<circle cx="1325.7" cy="746.4" r="6.2" fill="url(#dI)" stroke="none" stroke-width="1"/>
<circle cx="1329.6" cy="810.2" r="6.2" fill="url(#dI)" stroke="none" stroke-width="1"/>
<circle cx="1393.7" cy="767.6" r="6.2" fill="url(#dI)" stroke="none" stroke-width="1"/>
<circle cx="1397" cy="831.8" r="6.2" fill="url(#dI)" stroke="none" stroke-width="1"/>
<circle cx="1273.8" cy="724.8" r="3.2" fill="url(#dO)" stroke="none" stroke-width="1"/>
<circle cx="1264.1" cy="745.4" r="3.2" fill="url(#dO)" stroke="none" stroke-width="1"/>
<circle cx="1278.2" cy="765.9" r="8.4" fill="url(#dPb)" stroke="none" stroke-width="1"/>
<circle cx="1454.3" cy="769.1" r="6.2" fill="url(#dI)" stroke="none" stroke-width="1"/>
<circle cx="1500.7" cy="808" r="6.2" fill="url(#dI)" stroke="none" stroke-width="1"/>
<circle cx="1556.9" cy="746.4" r="6.2" fill="url(#dI)" stroke="none" stroke-width="1"/>
<circle cx="1560.8" cy="810.2" r="6.2" fill="url(#dI)" stroke="none" stroke-width="1"/>
<circle cx="1505" cy="724.8" r="3.2" fill="url(#dO)" stroke="none" stroke-width="1"/>
<circle cx="1495.3" cy="745.4" r="3.2" fill="url(#dO)" stroke="none" stroke-width="1"/>
<circle cx="1509.4" cy="765.9" r="8.4" fill="url(#dPb)" stroke="none" stroke-width="1"/>
<polyline points="1075.9,660.7 1081.3,659.9 1084,681.5 1106.9,682.8" fill="none" stroke="#7C7C7C" stroke-width="1.6" stroke-linejoin="round"/>
<line x1="1106.9" y1="682.8" x2="1116.26" y2="684.01" stroke="#7C7C7C" stroke-width="1.6"/>
<line x1="1116.26" y1="684.01" x2="1127.7" y2="685.5" stroke="#1830D0" stroke-width="1.6"/>
<line x1="1137.4" y1="667.4" x2="1133.04" y2="675.54" stroke="#7C7C7C" stroke-width="1.6"/>
<line x1="1133.04" y1="675.54" x2="1127.7" y2="685.5" stroke="#1830D0" stroke-width="1.6"/>
<line x1="1137.4" y1="667.4" x2="1156.9" y2="669.3" stroke="#7C7C7C" stroke-width="1.6"/>
<line x1="1156.9" y1="669.3" x2="1165.8" y2="691.5" stroke="#7C7C7C" stroke-width="1.6"/>
<line x1="1165.8" y1="691.5" x2="1150.7" y2="710.4" stroke="#7C7C7C" stroke-width="1.6"/>
<line x1="1150.7" y1="710.4" x2="1132.6" y2="707.7" stroke="#7C7C7C" stroke-width="1.6"/>
<line x1="1132.6" y1="707.7" x2="1130.39" y2="697.71" stroke="#7C7C7C" stroke-width="1.6"/>
<line x1="1130.39" y1="697.71" x2="1127.7" y2="685.5" stroke="#1830D0" stroke-width="1.6"/>
<line x1="1183.9" y1="695" x2="1198.2" y2="675.3" stroke="#7C7C7C" stroke-width="1.6"/>
<line x1="1198.2" y1="675.3" x2="1216.3" y2="678.8" stroke="#7C7C7C" stroke-width="1.6"/>
<line x1="1216.3" y1="678.8" x2="1219.09" y2="688.75" stroke="#7C7C7C" stroke-width="1.6"/>
<line x1="1219.09" y1="688.75" x2="1222.5" y2="700.9" stroke="#1830D0" stroke-width="1.6"/>
<line x1="1211.7" y1="719.3" x2="1216.56" y2="711.02" stroke="#7C7C7C" stroke-width="1.6"/>
<line x1="1216.56" y1="711.02" x2="1222.5" y2="700.9" stroke="#1830D0" stroke-width="1.6"/>
<line x1="1211.7" y1="719.3" x2="1193.3" y2="717.4" stroke="#7C7C7C" stroke-width="1.6"/>
<line x1="1193.3" y1="717.4" x2="1183.9" y2="695" stroke="#7C7C7C" stroke-width="1.6"/>
<line x1="1165.8" y1="691.5" x2="1183.9" y2="695" stroke="#7C7C7C" stroke-width="1.6"/>
<line x1="1243.3" y1="703.1" x2="1233.94" y2="702.11" stroke="#7C7C7C" stroke-width="1.6"/>
<line x1="1233.94" y1="702.11" x2="1222.5" y2="700.9" stroke="#1830D0" stroke-width="1.6"/>
<polyline points="1243.3,703.1 1264.9,703.9 1268.4,726 1274.2,724.8" fill="none" stroke="#7C7C7C" stroke-width="1.6" stroke-linejoin="round"/>
<circle cx="1081.3" cy="659.9" r="2.1" fill="url(#dC)" stroke="none" stroke-width="1"/>
<circle cx="1084" cy="681.5" r="2.1" fill="url(#dC)" stroke="none" stroke-width="1"/>
<circle cx="1106.9" cy="682.8" r="2.1" fill="url(#dC)" stroke="none" stroke-width="1"/>
<circle cx="1137.4" cy="667.4" r="2.1" fill="url(#dC)" stroke="none" stroke-width="1"/>
<circle cx="1156.9" cy="669.3" r="2.1" fill="url(#dC)" stroke="none" stroke-width="1"/>
<circle cx="1165.8" cy="691.5" r="2.1" fill="url(#dC)" stroke="none" stroke-width="1"/>
<circle cx="1150.7" cy="710.4" r="2.1" fill="url(#dC)" stroke="none" stroke-width="1"/>
<circle cx="1132.6" cy="707.7" r="2.1" fill="url(#dC)" stroke="none" stroke-width="1"/>
<circle cx="1183.9" cy="695" r="2.1" fill="url(#dC)" stroke="none" stroke-width="1"/>
<circle cx="1198.2" cy="675.3" r="2.1" fill="url(#dC)" stroke="none" stroke-width="1"/>
<circle cx="1216.3" cy="678.8" r="2.1" fill="url(#dC)" stroke="none" stroke-width="1"/>
<circle cx="1211.7" cy="719.3" r="2.1" fill="url(#dC)" stroke="none" stroke-width="1"/>
<circle cx="1193.3" cy="717.4" r="2.1" fill="url(#dC)" stroke="none" stroke-width="1"/>
<circle cx="1243.3" cy="703.1" r="2.1" fill="url(#dC)" stroke="none" stroke-width="1"/>
<circle cx="1264.9" cy="703.9" r="2.1" fill="url(#dC)" stroke="none" stroke-width="1"/>
<circle cx="1268.4" cy="726" r="2.1" fill="url(#dC)" stroke="none" stroke-width="1"/>
<circle cx="1127.7" cy="685.5" r="4.2" fill="url(#dN)" stroke="none" stroke-width="1"/>
<circle cx="1222.5" cy="700.9" r="4.2" fill="url(#dN)" stroke="none" stroke-width="1"/>
<circle cx="1125" cy="684.5" r="18.7" fill="none" stroke="#C4201C" stroke-width="1.4" stroke-dasharray="4.2 2.6"/>
<circle cx="1223" cy="701.2" r="18.7" fill="none" stroke="#C4201C" stroke-width="1.4" stroke-dasharray="4.2 2.6"/>
<polyline points="1307.3,660.7 1312.7,659.9 1315.4,681.5 1338.3,682.8" fill="none" stroke="#7C7C7C" stroke-width="1.6" stroke-linejoin="round"/>
<line x1="1338.3" y1="682.8" x2="1347.66" y2="684.01" stroke="#7C7C7C" stroke-width="1.6"/>
<line x1="1347.66" y1="684.01" x2="1359.1" y2="685.5" stroke="#1830D0" stroke-width="1.6"/>
<line x1="1368.8" y1="667.4" x2="1364.44" y2="675.54" stroke="#7C7C7C" stroke-width="1.6"/>
<line x1="1364.44" y1="675.54" x2="1359.1" y2="685.5" stroke="#1830D0" stroke-width="1.6"/>
<line x1="1368.8" y1="667.4" x2="1388.3" y2="669.3" stroke="#7C7C7C" stroke-width="1.6"/>
<line x1="1388.3" y1="669.3" x2="1397.2" y2="691.5" stroke="#7C7C7C" stroke-width="1.6"/>
<line x1="1397.2" y1="691.5" x2="1382.1" y2="710.4" stroke="#7C7C7C" stroke-width="1.6"/>
<line x1="1382.1" y1="710.4" x2="1364" y2="707.7" stroke="#7C7C7C" stroke-width="1.6"/>
<line x1="1364" y1="707.7" x2="1361.8" y2="697.71" stroke="#7C7C7C" stroke-width="1.6"/>
<line x1="1361.8" y1="697.71" x2="1359.1" y2="685.5" stroke="#1830D0" stroke-width="1.6"/>
<line x1="1415.3" y1="695" x2="1429.6" y2="675.3" stroke="#7C7C7C" stroke-width="1.6"/>
<line x1="1429.6" y1="675.3" x2="1447.7" y2="678.8" stroke="#7C7C7C" stroke-width="1.6"/>
<line x1="1447.7" y1="678.8" x2="1450.49" y2="688.75" stroke="#7C7C7C" stroke-width="1.6"/>
<line x1="1450.49" y1="688.75" x2="1453.9" y2="700.9" stroke="#1830D0" stroke-width="1.6"/>
<line x1="1443.1" y1="719.3" x2="1447.96" y2="711.02" stroke="#7C7C7C" stroke-width="1.6"/>
<line x1="1447.96" y1="711.02" x2="1453.9" y2="700.9" stroke="#1830D0" stroke-width="1.6"/>
<line x1="1443.1" y1="719.3" x2="1424.7" y2="717.4" stroke="#7C7C7C" stroke-width="1.6"/>
<line x1="1424.7" y1="717.4" x2="1415.3" y2="695" stroke="#7C7C7C" stroke-width="1.6"/>
<line x1="1397.2" y1="691.5" x2="1415.3" y2="695" stroke="#7C7C7C" stroke-width="1.6"/>
<line x1="1474.7" y1="703.1" x2="1465.34" y2="702.11" stroke="#7C7C7C" stroke-width="1.6"/>
<line x1="1465.34" y1="702.11" x2="1453.9" y2="700.9" stroke="#1830D0" stroke-width="1.6"/>
<polyline points="1474.7,703.1 1496.3,703.9 1499.8,726 1505.6,724.8" fill="none" stroke="#7C7C7C" stroke-width="1.6" stroke-linejoin="round"/>
<circle cx="1312.7" cy="659.9" r="2.1" fill="url(#dC)" stroke="none" stroke-width="1"/>
<circle cx="1315.4" cy="681.5" r="2.1" fill="url(#dC)" stroke="none" stroke-width="1"/>
<circle cx="1338.3" cy="682.8" r="2.1" fill="url(#dC)" stroke="none" stroke-width="1"/>
<circle cx="1368.8" cy="667.4" r="2.1" fill="url(#dC)" stroke="none" stroke-width="1"/>
<circle cx="1388.3" cy="669.3" r="2.1" fill="url(#dC)" stroke="none" stroke-width="1"/>
<circle cx="1397.2" cy="691.5" r="2.1" fill="url(#dC)" stroke="none" stroke-width="1"/>
<circle cx="1382.1" cy="710.4" r="2.1" fill="url(#dC)" stroke="none" stroke-width="1"/>
<circle cx="1364" cy="707.7" r="2.1" fill="url(#dC)" stroke="none" stroke-width="1"/>
<circle cx="1415.3" cy="695" r="2.1" fill="url(#dC)" stroke="none" stroke-width="1"/>
<circle cx="1429.6" cy="675.3" r="2.1" fill="url(#dC)" stroke="none" stroke-width="1"/>
<circle cx="1447.7" cy="678.8" r="2.1" fill="url(#dC)" stroke="none" stroke-width="1"/>
<circle cx="1443.1" cy="719.3" r="2.1" fill="url(#dC)" stroke="none" stroke-width="1"/>
<circle cx="1424.7" cy="717.4" r="2.1" fill="url(#dC)" stroke="none" stroke-width="1"/>
<circle cx="1474.7" cy="703.1" r="2.1" fill="url(#dC)" stroke="none" stroke-width="1"/>
<circle cx="1496.3" cy="703.9" r="2.1" fill="url(#dC)" stroke="none" stroke-width="1"/>
<circle cx="1499.8" cy="726" r="2.1" fill="url(#dC)" stroke="none" stroke-width="1"/>
<circle cx="1359.1" cy="685.5" r="4.2" fill="url(#dN)" stroke="none" stroke-width="1"/>
<circle cx="1453.9" cy="700.9" r="4.2" fill="url(#dN)" stroke="none" stroke-width="1"/>
<circle cx="1356.4" cy="684.5" r="18.7" fill="none" stroke="#C4201C" stroke-width="1.4" stroke-dasharray="4.2 2.6"/>
<circle cx="1454.4" cy="701.2" r="18.7" fill="none" stroke="#C4201C" stroke-width="1.4" stroke-dasharray="4.2 2.6"/>
<path d="M1016.8 631 C1004 634.5 991 644.5 983 657 C976.3 669 976 683.5 983.5 693.5 L989 699.6 L994 708.8 L1024.6 703.9 L1006.6 685.8 L1002.6 694.2 C995 686.5 990 676.5 989.4 665.5 C989.6 652 1002 638.5 1016.8 631 Z" fill="#0A0A0A"/>
<text transform="translate(988.6,675)" font-size="20.9" fill="#111" text-anchor="start" font-weight="bold" font-style="normal"><tspan>PIET</tspan></text>
<circle cx="1511.6" cy="666.6" r="5.6" fill="url(#dO)" stroke="none" stroke-width="1"/>
<circle cx="1504.6" cy="668.2" r="6" fill="url(#dCw)" stroke="none" stroke-width="1"/>
<circle cx="1494.9" cy="669.9" r="7" fill="url(#dO)" stroke="none" stroke-width="1"/>
<circle cx="1527.5" cy="647.8" r="6.4" fill="url(#dO)" stroke="none" stroke-width="1"/>
<circle cx="1529.9" cy="655.2" r="6" fill="url(#dCw)" stroke="none" stroke-width="1"/>
<circle cx="1532.9" cy="663.2" r="7" fill="url(#dO)" stroke="none" stroke-width="1"/>
<path d="M1524.8 666 C1519.5 673 1514.6 682 1513.9 691.8 C1513.5 700 1516.5 707.5 1524 712 C1530.5 715.6 1538.5 715.8 1544.9 713.2 L1545.6 719 L1565.6 697.1 L1543.4 701.7 L1544.3 706.1 C1539 708.6 1532.5 708.8 1527.5 706 C1521.5 702.4 1519 695.5 1519.3 688.5 C1519.6 680.5 1521.8 673 1524.8 666 Z" fill="#CA1212"/>
<text transform="translate(1542.4,657.9)" font-size="19.6" fill="#B01818" text-anchor="start" font-weight="bold" font-style="normal"><tspan>CO</tspan><tspan dy="5.1" font-size="12.94">2</tspan><tspan dy="-5.1">-to-C</tspan><tspan dy="5.1" font-size="12.94">2</tspan><tspan dy="-5.1">H</tspan><tspan dy="5.1" font-size="12.94">4</tspan></text>
<text transform="translate(1542.4,680.8)" font-size="19.6" fill="#B01818" text-anchor="start" font-weight="bold" font-style="normal"><tspan>conversion</tspan></text>
<circle cx="1581" cy="715" r="3.7" fill="url(#dH)" stroke="none" stroke-width="1"/>
<circle cx="1587.5" cy="706.2" r="3.7" fill="url(#dH)" stroke="none" stroke-width="1"/>
<circle cx="1613.7" cy="713.8" r="3.7" fill="url(#dH)" stroke="none" stroke-width="1"/>
<circle cx="1589.9" cy="712" r="6.5" fill="url(#dC)" stroke="none" stroke-width="1"/>
<circle cx="1603.6" cy="717.3" r="6.5" fill="url(#dC)" stroke="none" stroke-width="1"/>
<circle cx="1605.4" cy="722.9" r="3.7" fill="url(#dH)" stroke="none" stroke-width="1"/>
<circle cx="1627.3" cy="715.6" r="3.7" fill="url(#dH)" stroke="none" stroke-width="1"/>
<circle cx="1645.2" cy="719.1" r="6.5" fill="url(#dC)" stroke="none" stroke-width="1"/>
<circle cx="1632.1" cy="721.5" r="6.5" fill="url(#dC)" stroke="none" stroke-width="1"/>
<circle cx="1625" cy="727.4" r="3.7" fill="url(#dH)" stroke="none" stroke-width="1"/>
<text x="744.8" y="496.3" font-size="30" fill="#000">d<tspan dx="2">)</tspan></text>
</g>
</svg>
</body></html>
